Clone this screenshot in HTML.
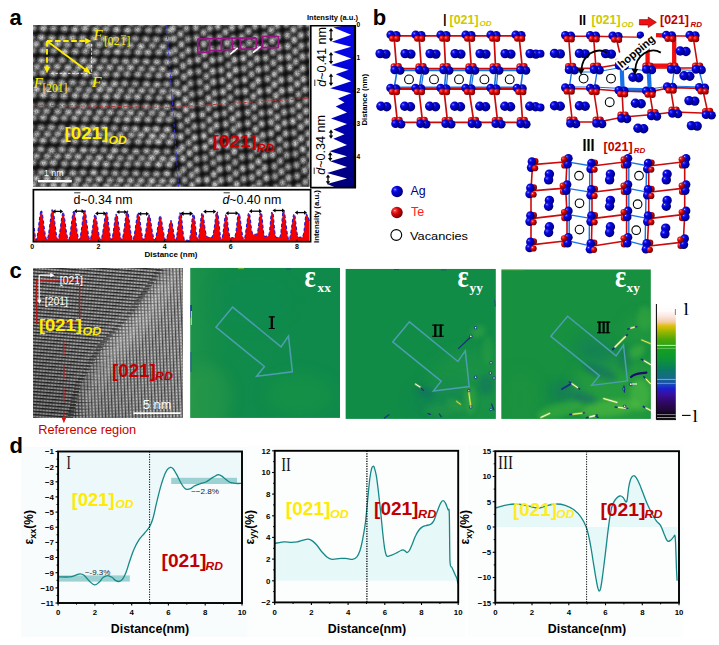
<!DOCTYPE html>
<html><head><meta charset="utf-8"><title>Figure</title>
<style>
html,body{margin:0;padding:0;background:#fff;}
body{width:719px;height:645px;overflow:hidden;font-family:"Liberation Sans",sans-serif;}
svg{display:block}
text{font-family:"Liberation Sans",sans-serif;}
.b{font-weight:bold}
.i{font-style:italic}
.se{font-family:"Liberation Serif",serif;}
</style></head><body>
<svg width="719" height="645" viewBox="0 0 719 645">
<defs>

<radialGradient id="blobA"><stop offset="0" stop-color="#e8e8e8" stop-opacity="0.95"/><stop offset="0.35" stop-color="#d4d4d4" stop-opacity="0.85"/><stop offset="0.62" stop-color="#b0b0b0" stop-opacity="0.5"/><stop offset="0.85" stop-color="#909090" stop-opacity="0.12"/><stop offset="1" stop-color="#808080" stop-opacity="0"/></radialGradient>
<linearGradient id="sideBlue" x1="0" y1="25" x2="0" y2="187" gradientUnits="userSpaceOnUse"><stop offset="0" stop-color="#0a0af0"/><stop offset="0.45" stop-color="#0000c8"/><stop offset="1" stop-color="#000078"/></linearGradient>
<clipPath id="clipA"><rect x="33" y="25" width="276.5" height="161.8"/></clipPath>
<filter id="blurA" x="0" y="0" width="100%" height="100%" color-interpolation-filters="sRGB"><feGaussianBlur in="SourceGraphic" stdDeviation="1.0" result="b"/><feTurbulence type="fractalNoise" baseFrequency="0.8" numOctaves="1" seed="4" result="n"/><feColorMatrix in="n" type="matrix" values="0.8 0 0 0 0.5  0.8 0 0 0 0.5  0.8 0 0 0 0.5  0 0 0 0 1" result="n2"/><feComposite in="b" in2="n2" operator="arithmetic" k1="1.15" k2="0" k3="0" k4="0"/></filter>

<radialGradient id="agG" cx="0.36" cy="0.36" r="0.72" fx="0.32" fy="0.32"><stop offset="0" stop-color="#e8e8ff"/><stop offset="0.1" stop-color="#3a3aff"/><stop offset="0.32" stop-color="#0606dc"/><stop offset="0.7" stop-color="#0000a8"/><stop offset="1" stop-color="#00004c"/></radialGradient>
<radialGradient id="teG" cx="0.36" cy="0.36" r="0.72" fx="0.32" fy="0.32"><stop offset="0" stop-color="#ffd0d0"/><stop offset="0.12" stop-color="#ff4040"/><stop offset="0.4" stop-color="#d80808"/><stop offset="0.75" stop-color="#9c0000"/><stop offset="1" stop-color="#480000"/></radialGradient>

<clipPath id="clipC"><rect x="33.1" y="268" width="149.5" height="149.8"/></clipPath>
<pattern id="patH" width="3.1" height="3.28" patternUnits="userSpaceOnUse" patternTransform="rotate(4.5)"><rect width="3.1" height="3.28" fill="#7c7c7c"/><rect y="0" width="3.1" height="1.25" fill="#242424"/><circle cx="1.55" cy="2.3" r="0.75" fill="#c4c4c4"/></pattern>
<pattern id="patV" width="3.34" height="3.1" patternUnits="userSpaceOnUse" patternTransform="rotate(-2.5)"><rect width="3.34" height="3.1" fill="#8c8c8c"/><rect x="0" width="1.05" height="3.1" fill="#444"/><circle cx="2.25" cy="1.55" r="0.75" fill="#d0d0d0"/></pattern>
<linearGradient id="brightC" x1="84" y1="418" x2="183" y2="274" gradientUnits="userSpaceOnUse"><stop offset="0" stop-color="#fff" stop-opacity="0.3"/><stop offset="0.5" stop-color="#fff"/><stop offset="1" stop-color="#fff" stop-opacity="0.6"/></linearGradient>
<linearGradient id="vigC" x1="33" y1="418" x2="150" y2="300" gradientUnits="userSpaceOnUse"><stop offset="0" stop-color="#000" stop-opacity="0.22"/><stop offset="0.5" stop-color="#000" stop-opacity="0.05"/><stop offset="1" stop-color="#000" stop-opacity="0"/></linearGradient>
<linearGradient id="m1a" x1="190" y1="0" x2="340" y2="0" gradientUnits="userSpaceOnUse"><stop offset="0" stop-color="#2c9a48" stop-opacity="0.5"/><stop offset="0.25" stop-color="#1a9045" stop-opacity="0.2"/><stop offset="1" stop-color="#0f8a4b" stop-opacity="0"/></linearGradient>
<filter id="blurS" x="-30%" y="-30%" width="160%" height="160%"><feGaussianBlur stdDeviation="0.45"/></filter>
<filter id="blurM2" x="-50%" y="-50%" width="200%" height="200%"><feGaussianBlur stdDeviation="2.6"/></filter>
<filter id="blurM" x="-50%" y="-50%" width="200%" height="200%"><feGaussianBlur stdDeviation="7"/></filter>
<linearGradient id="cbar" x1="0" y1="304.2" x2="0" y2="419.2" gradientUnits="userSpaceOnUse">
<stop offset="0" stop-color="#ffffff"/><stop offset="0.06" stop-color="#fffafa"/><stop offset="0.11" stop-color="#fae4dc"/><stop offset="0.155" stop-color="#f2cca4"/><stop offset="0.185" stop-color="#e6c010"/><stop offset="0.23" stop-color="#a4b800"/><stop offset="0.3" stop-color="#52a808"/><stop offset="0.4" stop-color="#12a020"/><stop offset="0.5" stop-color="#0a9040"/><stop offset="0.57" stop-color="#0a7a64"/><stop offset="0.64" stop-color="#146a88"/><stop offset="0.69" stop-color="#1c50b0"/><stop offset="0.735" stop-color="#1a1ed0"/><stop offset="0.78" stop-color="#3a10a0"/><stop offset="0.85" stop-color="#300868"/><stop offset="0.92" stop-color="#200838"/><stop offset="0.96" stop-color="#0c0414"/><stop offset="1" stop-color="#000"/></linearGradient>

</defs>
<rect x="0" y="0" width="719" height="645" fill="#ffffff"/>
<g id="panel-a"><text x="9.5" y="24.8" font-size="22" class="b" fill="#000">a</text><g clip-path="url(#clipA)"><rect x="33" y="25" width="277" height="162" fill="#0e0e0e"/><g filter="url(#blurA)"><ellipse cx="36.3" cy="21.4" rx="6.2" ry="4.9" fill="url(#blobA)" opacity="0.93"/><ellipse cx="46.5" cy="22.0" rx="6.2" ry="4.9" fill="url(#blobA)" opacity="0.87"/><ellipse cx="57.0" cy="22.1" rx="6.2" ry="4.9" fill="url(#blobA)" opacity="0.81"/><ellipse cx="67.9" cy="21.9" rx="6.2" ry="4.9" fill="url(#blobA)" opacity="0.82"/><ellipse cx="78.4" cy="22.8" rx="6.2" ry="4.9" fill="url(#blobA)" opacity="0.82"/><ellipse cx="88.7" cy="22.8" rx="6.2" ry="4.9" fill="url(#blobA)" opacity="0.99"/><ellipse cx="99.5" cy="22.7" rx="6.2" ry="4.9" fill="url(#blobA)" opacity="1.00"/><ellipse cx="109.5" cy="23.3" rx="6.2" ry="4.9" fill="url(#blobA)" opacity="0.86"/><ellipse cx="120.1" cy="22.7" rx="6.2" ry="4.9" fill="url(#blobA)" opacity="0.86"/><ellipse cx="131.3" cy="23.0" rx="6.2" ry="4.9" fill="url(#blobA)" opacity="0.92"/><ellipse cx="141.6" cy="23.3" rx="6.2" ry="4.9" fill="url(#blobA)" opacity="0.91"/><ellipse cx="151.5" cy="23.2" rx="6.2" ry="4.9" fill="url(#blobA)" opacity="0.84"/><ellipse cx="162.6" cy="23.7" rx="6.2" ry="4.9" fill="url(#blobA)" opacity="0.86"/><ellipse cx="32.8" cy="28.2" rx="6.2" ry="4.9" fill="url(#blobA)" opacity="0.86"/><ellipse cx="31.0" cy="37.7" rx="6.2" ry="4.9" fill="url(#blobA)" opacity="0.85"/><ellipse cx="43.3" cy="28.4" rx="6.2" ry="4.9" fill="url(#blobA)" opacity="0.98"/><ellipse cx="41.4" cy="37.5" rx="6.2" ry="4.9" fill="url(#blobA)" opacity="1.00"/><ellipse cx="36.1" cy="44.1" rx="6.2" ry="4.9" fill="url(#blobA)" opacity="0.95"/><ellipse cx="53.4" cy="28.6" rx="6.2" ry="4.9" fill="url(#blobA)" opacity="0.81"/><ellipse cx="51.8" cy="38.1" rx="6.2" ry="4.9" fill="url(#blobA)" opacity="0.91"/><ellipse cx="47.3" cy="44.2" rx="6.2" ry="4.9" fill="url(#blobA)" opacity="0.94"/><ellipse cx="64.4" cy="28.8" rx="6.2" ry="4.9" fill="url(#blobA)" opacity="0.89"/><ellipse cx="62.5" cy="38.4" rx="6.2" ry="4.9" fill="url(#blobA)" opacity="0.89"/><ellipse cx="57.6" cy="44.1" rx="6.2" ry="4.9" fill="url(#blobA)" opacity="0.94"/><ellipse cx="74.9" cy="29.4" rx="6.2" ry="4.9" fill="url(#blobA)" opacity="0.96"/><ellipse cx="72.4" cy="38.1" rx="6.2" ry="4.9" fill="url(#blobA)" opacity="0.93"/><ellipse cx="67.5" cy="44.7" rx="6.2" ry="4.9" fill="url(#blobA)" opacity="0.83"/><ellipse cx="84.9" cy="28.6" rx="6.2" ry="4.9" fill="url(#blobA)" opacity="0.95"/><ellipse cx="82.8" cy="38.1" rx="6.2" ry="4.9" fill="url(#blobA)" opacity="0.88"/><ellipse cx="78.8" cy="44.4" rx="6.2" ry="4.9" fill="url(#blobA)" opacity="0.89"/><ellipse cx="95.8" cy="29.6" rx="6.2" ry="4.9" fill="url(#blobA)" opacity="0.96"/><ellipse cx="94.0" cy="38.3" rx="6.2" ry="4.9" fill="url(#blobA)" opacity="0.88"/><ellipse cx="88.8" cy="45.4" rx="6.2" ry="4.9" fill="url(#blobA)" opacity="0.99"/><ellipse cx="105.9" cy="29.1" rx="6.2" ry="4.9" fill="url(#blobA)" opacity="0.85"/><ellipse cx="103.9" cy="38.7" rx="6.2" ry="4.9" fill="url(#blobA)" opacity="0.92"/><ellipse cx="99.2" cy="44.7" rx="6.2" ry="4.9" fill="url(#blobA)" opacity="0.88"/><ellipse cx="116.6" cy="29.6" rx="6.2" ry="4.9" fill="url(#blobA)" opacity="0.99"/><ellipse cx="114.9" cy="38.9" rx="6.2" ry="4.9" fill="url(#blobA)" opacity="0.92"/><ellipse cx="110.1" cy="44.9" rx="6.2" ry="4.9" fill="url(#blobA)" opacity="0.98"/><ellipse cx="127.5" cy="30.1" rx="6.2" ry="4.9" fill="url(#blobA)" opacity="0.96"/><ellipse cx="125.1" cy="38.9" rx="6.2" ry="4.9" fill="url(#blobA)" opacity="0.82"/><ellipse cx="120.6" cy="45.1" rx="6.2" ry="4.9" fill="url(#blobA)" opacity="0.81"/><ellipse cx="137.5" cy="29.6" rx="6.2" ry="4.9" fill="url(#blobA)" opacity="0.87"/><ellipse cx="135.2" cy="38.7" rx="6.2" ry="4.9" fill="url(#blobA)" opacity="0.83"/><ellipse cx="130.6" cy="45.6" rx="6.2" ry="4.9" fill="url(#blobA)" opacity="0.81"/><ellipse cx="148.6" cy="30.2" rx="6.2" ry="4.9" fill="url(#blobA)" opacity="0.83"/><ellipse cx="145.9" cy="39.2" rx="6.2" ry="4.9" fill="url(#blobA)" opacity="0.87"/><ellipse cx="141.1" cy="46.2" rx="6.2" ry="4.9" fill="url(#blobA)" opacity="1.00"/><ellipse cx="158.7" cy="30.2" rx="6.2" ry="4.9" fill="url(#blobA)" opacity="0.82"/><ellipse cx="156.3" cy="39.4" rx="6.2" ry="4.9" fill="url(#blobA)" opacity="0.85"/><ellipse cx="152.3" cy="45.7" rx="6.2" ry="4.9" fill="url(#blobA)" opacity="0.80"/><ellipse cx="169.7" cy="30.4" rx="6.2" ry="4.9" fill="url(#blobA)" opacity="0.83"/><ellipse cx="167.2" cy="39.2" rx="6.2" ry="4.9" fill="url(#blobA)" opacity="0.91"/><ellipse cx="162.9" cy="46.6" rx="6.2" ry="4.9" fill="url(#blobA)" opacity="0.94"/><ellipse cx="32.5" cy="50.5" rx="6.2" ry="4.9" fill="url(#blobA)" opacity="0.83"/><ellipse cx="30.9" cy="59.9" rx="6.2" ry="4.9" fill="url(#blobA)" opacity="0.96"/><ellipse cx="43.1" cy="50.5" rx="6.2" ry="4.9" fill="url(#blobA)" opacity="0.96"/><ellipse cx="41.6" cy="60.4" rx="6.2" ry="4.9" fill="url(#blobA)" opacity="0.96"/><ellipse cx="36.8" cy="66.8" rx="6.2" ry="4.9" fill="url(#blobA)" opacity="0.85"/><ellipse cx="53.8" cy="50.8" rx="6.2" ry="4.9" fill="url(#blobA)" opacity="0.81"/><ellipse cx="51.2" cy="60.0" rx="6.2" ry="4.9" fill="url(#blobA)" opacity="0.85"/><ellipse cx="47.2" cy="67.2" rx="6.2" ry="4.9" fill="url(#blobA)" opacity="0.89"/><ellipse cx="64.7" cy="51.6" rx="6.2" ry="4.9" fill="url(#blobA)" opacity="0.99"/><ellipse cx="62.0" cy="60.1" rx="6.2" ry="4.9" fill="url(#blobA)" opacity="0.85"/><ellipse cx="57.2" cy="66.6" rx="6.2" ry="4.9" fill="url(#blobA)" opacity="0.92"/><ellipse cx="75.2" cy="51.6" rx="6.2" ry="4.9" fill="url(#blobA)" opacity="0.90"/><ellipse cx="72.8" cy="60.9" rx="6.2" ry="4.9" fill="url(#blobA)" opacity="0.82"/><ellipse cx="68.1" cy="67.5" rx="6.2" ry="4.9" fill="url(#blobA)" opacity="0.96"/><ellipse cx="85.5" cy="51.4" rx="6.2" ry="4.9" fill="url(#blobA)" opacity="0.84"/><ellipse cx="83.4" cy="60.6" rx="6.2" ry="4.9" fill="url(#blobA)" opacity="0.96"/><ellipse cx="78.9" cy="67.2" rx="6.2" ry="4.9" fill="url(#blobA)" opacity="0.88"/><ellipse cx="96.2" cy="51.9" rx="6.2" ry="4.9" fill="url(#blobA)" opacity="0.83"/><ellipse cx="93.3" cy="60.6" rx="6.2" ry="4.9" fill="url(#blobA)" opacity="0.98"/><ellipse cx="89.3" cy="67.1" rx="6.2" ry="4.9" fill="url(#blobA)" opacity="0.97"/><ellipse cx="106.7" cy="52.0" rx="6.2" ry="4.9" fill="url(#blobA)" opacity="0.87"/><ellipse cx="104.2" cy="60.7" rx="6.2" ry="4.9" fill="url(#blobA)" opacity="0.80"/><ellipse cx="99.9" cy="67.7" rx="6.2" ry="4.9" fill="url(#blobA)" opacity="0.91"/><ellipse cx="117.2" cy="51.9" rx="6.2" ry="4.9" fill="url(#blobA)" opacity="0.97"/><ellipse cx="115.0" cy="60.9" rx="6.2" ry="4.9" fill="url(#blobA)" opacity="0.85"/><ellipse cx="109.8" cy="67.5" rx="6.2" ry="4.9" fill="url(#blobA)" opacity="0.92"/><ellipse cx="127.0" cy="52.1" rx="6.2" ry="4.9" fill="url(#blobA)" opacity="0.83"/><ellipse cx="125.6" cy="61.3" rx="6.2" ry="4.9" fill="url(#blobA)" opacity="0.89"/><ellipse cx="120.5" cy="68.3" rx="6.2" ry="4.9" fill="url(#blobA)" opacity="0.88"/><ellipse cx="138.2" cy="52.3" rx="6.2" ry="4.9" fill="url(#blobA)" opacity="0.91"/><ellipse cx="135.7" cy="61.1" rx="6.2" ry="4.9" fill="url(#blobA)" opacity="0.89"/><ellipse cx="130.6" cy="67.6" rx="6.2" ry="4.9" fill="url(#blobA)" opacity="0.96"/><ellipse cx="147.9" cy="52.4" rx="6.2" ry="4.9" fill="url(#blobA)" opacity="0.95"/><ellipse cx="146.2" cy="61.6" rx="6.2" ry="4.9" fill="url(#blobA)" opacity="0.90"/><ellipse cx="141.5" cy="68.6" rx="6.2" ry="4.9" fill="url(#blobA)" opacity="0.82"/><ellipse cx="158.8" cy="52.4" rx="6.2" ry="4.9" fill="url(#blobA)" opacity="0.86"/><ellipse cx="156.9" cy="61.9" rx="6.2" ry="4.9" fill="url(#blobA)" opacity="0.91"/><ellipse cx="152.2" cy="68.8" rx="6.2" ry="4.9" fill="url(#blobA)" opacity="0.89"/><ellipse cx="169.4" cy="52.8" rx="6.2" ry="4.9" fill="url(#blobA)" opacity="0.90"/><ellipse cx="167.4" cy="62.0" rx="6.2" ry="4.9" fill="url(#blobA)" opacity="0.91"/><ellipse cx="162.4" cy="69.0" rx="6.2" ry="4.9" fill="url(#blobA)" opacity="0.94"/><ellipse cx="33.1" cy="73.5" rx="6.2" ry="4.9" fill="url(#blobA)" opacity="0.85"/><ellipse cx="30.7" cy="82.7" rx="6.2" ry="4.9" fill="url(#blobA)" opacity="0.97"/><ellipse cx="42.9" cy="72.8" rx="6.2" ry="4.9" fill="url(#blobA)" opacity="0.89"/><ellipse cx="40.7" cy="82.2" rx="6.2" ry="4.9" fill="url(#blobA)" opacity="0.81"/><ellipse cx="36.6" cy="89.3" rx="6.2" ry="4.9" fill="url(#blobA)" opacity="0.98"/><ellipse cx="53.4" cy="73.6" rx="6.2" ry="4.9" fill="url(#blobA)" opacity="0.93"/><ellipse cx="51.3" cy="83.0" rx="6.2" ry="4.9" fill="url(#blobA)" opacity="0.99"/><ellipse cx="46.7" cy="89.6" rx="6.2" ry="4.9" fill="url(#blobA)" opacity="0.88"/><ellipse cx="64.2" cy="74.0" rx="6.2" ry="4.9" fill="url(#blobA)" opacity="0.97"/><ellipse cx="61.8" cy="82.7" rx="6.2" ry="4.9" fill="url(#blobA)" opacity="0.90"/><ellipse cx="57.3" cy="89.0" rx="6.2" ry="4.9" fill="url(#blobA)" opacity="0.86"/><ellipse cx="75.0" cy="73.2" rx="6.2" ry="4.9" fill="url(#blobA)" opacity="0.91"/><ellipse cx="72.6" cy="82.5" rx="6.2" ry="4.9" fill="url(#blobA)" opacity="0.87"/><ellipse cx="68.1" cy="89.5" rx="6.2" ry="4.9" fill="url(#blobA)" opacity="0.81"/><ellipse cx="85.7" cy="74.2" rx="6.2" ry="4.9" fill="url(#blobA)" opacity="0.99"/><ellipse cx="82.8" cy="82.9" rx="6.2" ry="4.9" fill="url(#blobA)" opacity="0.81"/><ellipse cx="78.7" cy="89.4" rx="6.2" ry="4.9" fill="url(#blobA)" opacity="0.83"/><ellipse cx="95.7" cy="74.4" rx="6.2" ry="4.9" fill="url(#blobA)" opacity="0.96"/><ellipse cx="93.4" cy="83.0" rx="6.2" ry="4.9" fill="url(#blobA)" opacity="0.98"/><ellipse cx="89.0" cy="90.0" rx="6.2" ry="4.9" fill="url(#blobA)" opacity="0.82"/><ellipse cx="105.8" cy="74.4" rx="6.2" ry="4.9" fill="url(#blobA)" opacity="0.89"/><ellipse cx="103.7" cy="83.9" rx="6.2" ry="4.9" fill="url(#blobA)" opacity="0.93"/><ellipse cx="99.8" cy="89.6" rx="6.2" ry="4.9" fill="url(#blobA)" opacity="0.97"/><ellipse cx="116.3" cy="74.7" rx="6.2" ry="4.9" fill="url(#blobA)" opacity="0.89"/><ellipse cx="114.5" cy="83.7" rx="6.2" ry="4.9" fill="url(#blobA)" opacity="0.99"/><ellipse cx="109.7" cy="89.8" rx="6.2" ry="4.9" fill="url(#blobA)" opacity="0.91"/><ellipse cx="127.0" cy="74.1" rx="6.2" ry="4.9" fill="url(#blobA)" opacity="0.83"/><ellipse cx="124.7" cy="83.5" rx="6.2" ry="4.9" fill="url(#blobA)" opacity="0.86"/><ellipse cx="120.3" cy="90.6" rx="6.2" ry="4.9" fill="url(#blobA)" opacity="0.86"/><ellipse cx="137.8" cy="74.4" rx="6.2" ry="4.9" fill="url(#blobA)" opacity="0.87"/><ellipse cx="135.2" cy="83.7" rx="6.2" ry="4.9" fill="url(#blobA)" opacity="0.80"/><ellipse cx="131.2" cy="90.6" rx="6.2" ry="4.9" fill="url(#blobA)" opacity="0.84"/><ellipse cx="148.2" cy="75.3" rx="6.2" ry="4.9" fill="url(#blobA)" opacity="0.82"/><ellipse cx="146.5" cy="84.1" rx="6.2" ry="4.9" fill="url(#blobA)" opacity="0.90"/><ellipse cx="141.8" cy="90.6" rx="6.2" ry="4.9" fill="url(#blobA)" opacity="0.90"/><ellipse cx="158.9" cy="75.5" rx="6.2" ry="4.9" fill="url(#blobA)" opacity="0.87"/><ellipse cx="157.0" cy="84.5" rx="6.2" ry="4.9" fill="url(#blobA)" opacity="0.93"/><ellipse cx="151.9" cy="90.7" rx="6.2" ry="4.9" fill="url(#blobA)" opacity="0.81"/><ellipse cx="168.9" cy="74.8" rx="6.2" ry="4.9" fill="url(#blobA)" opacity="0.95"/><ellipse cx="166.9" cy="84.1" rx="6.2" ry="4.9" fill="url(#blobA)" opacity="0.82"/><ellipse cx="162.8" cy="91.4" rx="6.2" ry="4.9" fill="url(#blobA)" opacity="0.93"/><ellipse cx="172.7" cy="90.9" rx="6.2" ry="4.9" fill="url(#blobA)" opacity="0.86"/><ellipse cx="32.7" cy="95.1" rx="6.2" ry="4.9" fill="url(#blobA)" opacity="0.89"/><ellipse cx="30.4" cy="105.2" rx="6.2" ry="4.9" fill="url(#blobA)" opacity="0.99"/><ellipse cx="43.3" cy="95.3" rx="6.2" ry="4.9" fill="url(#blobA)" opacity="0.99"/><ellipse cx="41.0" cy="104.7" rx="6.2" ry="4.9" fill="url(#blobA)" opacity="0.80"/><ellipse cx="36.3" cy="111.4" rx="6.2" ry="4.9" fill="url(#blobA)" opacity="0.90"/><ellipse cx="53.5" cy="95.8" rx="6.2" ry="4.9" fill="url(#blobA)" opacity="0.80"/><ellipse cx="51.4" cy="104.6" rx="6.2" ry="4.9" fill="url(#blobA)" opacity="0.88"/><ellipse cx="46.5" cy="111.1" rx="6.2" ry="4.9" fill="url(#blobA)" opacity="0.86"/><ellipse cx="64.0" cy="96.0" rx="6.2" ry="4.9" fill="url(#blobA)" opacity="0.91"/><ellipse cx="62.4" cy="105.4" rx="6.2" ry="4.9" fill="url(#blobA)" opacity="0.94"/><ellipse cx="57.8" cy="111.6" rx="6.2" ry="4.9" fill="url(#blobA)" opacity="0.87"/><ellipse cx="75.2" cy="95.7" rx="6.2" ry="4.9" fill="url(#blobA)" opacity="0.94"/><ellipse cx="72.8" cy="104.9" rx="6.2" ry="4.9" fill="url(#blobA)" opacity="0.97"/><ellipse cx="68.4" cy="112.0" rx="6.2" ry="4.9" fill="url(#blobA)" opacity="0.95"/><ellipse cx="85.6" cy="95.9" rx="6.2" ry="4.9" fill="url(#blobA)" opacity="0.90"/><ellipse cx="83.2" cy="105.9" rx="6.2" ry="4.9" fill="url(#blobA)" opacity="0.96"/><ellipse cx="78.8" cy="112.1" rx="6.2" ry="4.9" fill="url(#blobA)" opacity="0.98"/><ellipse cx="95.9" cy="96.6" rx="6.2" ry="4.9" fill="url(#blobA)" opacity="0.85"/><ellipse cx="93.2" cy="105.3" rx="6.2" ry="4.9" fill="url(#blobA)" opacity="0.87"/><ellipse cx="88.6" cy="112.6" rx="6.2" ry="4.9" fill="url(#blobA)" opacity="0.91"/><ellipse cx="106.4" cy="96.7" rx="6.2" ry="4.9" fill="url(#blobA)" opacity="0.94"/><ellipse cx="104.1" cy="105.4" rx="6.2" ry="4.9" fill="url(#blobA)" opacity="0.96"/><ellipse cx="99.7" cy="112.4" rx="6.2" ry="4.9" fill="url(#blobA)" opacity="0.91"/><ellipse cx="116.9" cy="96.3" rx="6.2" ry="4.9" fill="url(#blobA)" opacity="0.95"/><ellipse cx="114.4" cy="105.6" rx="6.2" ry="4.9" fill="url(#blobA)" opacity="0.85"/><ellipse cx="110.2" cy="112.3" rx="6.2" ry="4.9" fill="url(#blobA)" opacity="0.95"/><ellipse cx="127.7" cy="96.9" rx="6.2" ry="4.9" fill="url(#blobA)" opacity="0.88"/><ellipse cx="125.1" cy="106.4" rx="6.2" ry="4.9" fill="url(#blobA)" opacity="0.95"/><ellipse cx="120.6" cy="112.9" rx="6.2" ry="4.9" fill="url(#blobA)" opacity="0.82"/><ellipse cx="137.4" cy="96.9" rx="6.2" ry="4.9" fill="url(#blobA)" opacity="0.95"/><ellipse cx="135.5" cy="106.4" rx="6.2" ry="4.9" fill="url(#blobA)" opacity="0.80"/><ellipse cx="130.5" cy="112.7" rx="6.2" ry="4.9" fill="url(#blobA)" opacity="0.93"/><ellipse cx="148.5" cy="97.5" rx="6.2" ry="4.9" fill="url(#blobA)" opacity="0.86"/><ellipse cx="146.2" cy="106.5" rx="6.2" ry="4.9" fill="url(#blobA)" opacity="0.89"/><ellipse cx="141.1" cy="113.5" rx="6.2" ry="4.9" fill="url(#blobA)" opacity="0.84"/><ellipse cx="159.2" cy="97.9" rx="6.2" ry="4.9" fill="url(#blobA)" opacity="0.80"/><ellipse cx="156.6" cy="107.0" rx="6.2" ry="4.9" fill="url(#blobA)" opacity="0.99"/><ellipse cx="151.9" cy="113.0" rx="6.2" ry="4.9" fill="url(#blobA)" opacity="0.84"/><ellipse cx="169.7" cy="97.3" rx="6.2" ry="4.9" fill="url(#blobA)" opacity="0.92"/><ellipse cx="166.8" cy="106.9" rx="6.2" ry="4.9" fill="url(#blobA)" opacity="0.99"/><ellipse cx="162.1" cy="113.7" rx="6.2" ry="4.9" fill="url(#blobA)" opacity="0.90"/><ellipse cx="173.3" cy="113.8" rx="6.2" ry="4.9" fill="url(#blobA)" opacity="0.85"/><ellipse cx="33.2" cy="117.8" rx="6.2" ry="4.9" fill="url(#blobA)" opacity="0.80"/><ellipse cx="30.2" cy="127.1" rx="6.2" ry="4.9" fill="url(#blobA)" opacity="0.89"/><ellipse cx="43.1" cy="117.6" rx="6.2" ry="4.9" fill="url(#blobA)" opacity="0.87"/><ellipse cx="41.0" cy="127.6" rx="6.2" ry="4.9" fill="url(#blobA)" opacity="0.80"/><ellipse cx="36.7" cy="134.1" rx="6.2" ry="4.9" fill="url(#blobA)" opacity="0.82"/><ellipse cx="54.2" cy="118.4" rx="6.2" ry="4.9" fill="url(#blobA)" opacity="0.98"/><ellipse cx="51.4" cy="127.3" rx="6.2" ry="4.9" fill="url(#blobA)" opacity="0.88"/><ellipse cx="47.5" cy="134.0" rx="6.2" ry="4.9" fill="url(#blobA)" opacity="0.87"/><ellipse cx="64.2" cy="118.1" rx="6.2" ry="4.9" fill="url(#blobA)" opacity="0.81"/><ellipse cx="61.8" cy="127.9" rx="6.2" ry="4.9" fill="url(#blobA)" opacity="0.86"/><ellipse cx="57.9" cy="133.9" rx="6.2" ry="4.9" fill="url(#blobA)" opacity="0.85"/><ellipse cx="74.8" cy="118.2" rx="6.2" ry="4.9" fill="url(#blobA)" opacity="0.87"/><ellipse cx="73.1" cy="128.2" rx="6.2" ry="4.9" fill="url(#blobA)" opacity="0.96"/><ellipse cx="68.1" cy="134.7" rx="6.2" ry="4.9" fill="url(#blobA)" opacity="0.99"/><ellipse cx="85.3" cy="118.9" rx="6.2" ry="4.9" fill="url(#blobA)" opacity="0.81"/><ellipse cx="83.4" cy="127.9" rx="6.2" ry="4.9" fill="url(#blobA)" opacity="0.95"/><ellipse cx="78.6" cy="134.2" rx="6.2" ry="4.9" fill="url(#blobA)" opacity="0.81"/><ellipse cx="96.2" cy="118.5" rx="6.2" ry="4.9" fill="url(#blobA)" opacity="0.89"/><ellipse cx="93.5" cy="127.9" rx="6.2" ry="4.9" fill="url(#blobA)" opacity="0.95"/><ellipse cx="89.4" cy="134.4" rx="6.2" ry="4.9" fill="url(#blobA)" opacity="0.93"/><ellipse cx="106.1" cy="119.1" rx="6.2" ry="4.9" fill="url(#blobA)" opacity="0.88"/><ellipse cx="103.8" cy="127.9" rx="6.2" ry="4.9" fill="url(#blobA)" opacity="0.84"/><ellipse cx="99.9" cy="134.8" rx="6.2" ry="4.9" fill="url(#blobA)" opacity="0.84"/><ellipse cx="117.2" cy="119.7" rx="6.2" ry="4.9" fill="url(#blobA)" opacity="0.89"/><ellipse cx="114.3" cy="128.1" rx="6.2" ry="4.9" fill="url(#blobA)" opacity="0.82"/><ellipse cx="109.8" cy="134.6" rx="6.2" ry="4.9" fill="url(#blobA)" opacity="0.85"/><ellipse cx="127.0" cy="119.4" rx="6.2" ry="4.9" fill="url(#blobA)" opacity="0.98"/><ellipse cx="125.4" cy="128.5" rx="6.2" ry="4.9" fill="url(#blobA)" opacity="0.88"/><ellipse cx="120.5" cy="135.0" rx="6.2" ry="4.9" fill="url(#blobA)" opacity="0.87"/><ellipse cx="137.3" cy="119.3" rx="6.2" ry="4.9" fill="url(#blobA)" opacity="0.99"/><ellipse cx="135.3" cy="128.8" rx="6.2" ry="4.9" fill="url(#blobA)" opacity="0.93"/><ellipse cx="131.3" cy="135.0" rx="6.2" ry="4.9" fill="url(#blobA)" opacity="0.85"/><ellipse cx="148.0" cy="119.6" rx="6.2" ry="4.9" fill="url(#blobA)" opacity="0.89"/><ellipse cx="146.6" cy="129.3" rx="6.2" ry="4.9" fill="url(#blobA)" opacity="0.97"/><ellipse cx="141.0" cy="135.0" rx="6.2" ry="4.9" fill="url(#blobA)" opacity="0.94"/><ellipse cx="159.2" cy="119.8" rx="6.2" ry="4.9" fill="url(#blobA)" opacity="0.92"/><ellipse cx="156.2" cy="129.0" rx="6.2" ry="4.9" fill="url(#blobA)" opacity="0.99"/><ellipse cx="152.3" cy="136.0" rx="6.2" ry="4.9" fill="url(#blobA)" opacity="0.99"/><ellipse cx="169.0" cy="119.6" rx="6.2" ry="4.9" fill="url(#blobA)" opacity="0.83"/><ellipse cx="167.2" cy="129.5" rx="6.2" ry="4.9" fill="url(#blobA)" opacity="0.99"/><ellipse cx="162.7" cy="136.0" rx="6.2" ry="4.9" fill="url(#blobA)" opacity="0.95"/><ellipse cx="172.9" cy="136.0" rx="6.2" ry="4.9" fill="url(#blobA)" opacity="0.81"/><ellipse cx="33.0" cy="140.0" rx="6.2" ry="4.9" fill="url(#blobA)" opacity="0.98"/><ellipse cx="30.8" cy="149.3" rx="6.2" ry="4.9" fill="url(#blobA)" opacity="0.83"/><ellipse cx="43.0" cy="140.5" rx="6.2" ry="4.9" fill="url(#blobA)" opacity="0.94"/><ellipse cx="40.8" cy="149.2" rx="6.2" ry="4.9" fill="url(#blobA)" opacity="0.90"/><ellipse cx="36.5" cy="156.1" rx="6.2" ry="4.9" fill="url(#blobA)" opacity="0.84"/><ellipse cx="53.9" cy="140.1" rx="6.2" ry="4.9" fill="url(#blobA)" opacity="0.86"/><ellipse cx="51.6" cy="150.3" rx="6.2" ry="4.9" fill="url(#blobA)" opacity="0.93"/><ellipse cx="47.3" cy="156.3" rx="6.2" ry="4.9" fill="url(#blobA)" opacity="0.85"/><ellipse cx="64.0" cy="141.2" rx="6.2" ry="4.9" fill="url(#blobA)" opacity="0.94"/><ellipse cx="62.0" cy="149.5" rx="6.2" ry="4.9" fill="url(#blobA)" opacity="0.90"/><ellipse cx="57.6" cy="156.4" rx="6.2" ry="4.9" fill="url(#blobA)" opacity="0.85"/><ellipse cx="74.9" cy="141.3" rx="6.2" ry="4.9" fill="url(#blobA)" opacity="0.85"/><ellipse cx="72.2" cy="150.0" rx="6.2" ry="4.9" fill="url(#blobA)" opacity="0.88"/><ellipse cx="68.1" cy="156.4" rx="6.2" ry="4.9" fill="url(#blobA)" opacity="0.96"/><ellipse cx="85.5" cy="141.1" rx="6.2" ry="4.9" fill="url(#blobA)" opacity="0.84"/><ellipse cx="83.6" cy="150.1" rx="6.2" ry="4.9" fill="url(#blobA)" opacity="0.96"/><ellipse cx="78.2" cy="156.6" rx="6.2" ry="4.9" fill="url(#blobA)" opacity="0.95"/><ellipse cx="95.6" cy="141.7" rx="6.2" ry="4.9" fill="url(#blobA)" opacity="0.90"/><ellipse cx="93.3" cy="150.2" rx="6.2" ry="4.9" fill="url(#blobA)" opacity="0.88"/><ellipse cx="89.1" cy="157.5" rx="6.2" ry="4.9" fill="url(#blobA)" opacity="0.83"/><ellipse cx="106.2" cy="141.1" rx="6.2" ry="4.9" fill="url(#blobA)" opacity="0.99"/><ellipse cx="103.8" cy="150.2" rx="6.2" ry="4.9" fill="url(#blobA)" opacity="0.81"/><ellipse cx="99.4" cy="157.6" rx="6.2" ry="4.9" fill="url(#blobA)" opacity="0.98"/><ellipse cx="117.0" cy="142.1" rx="6.2" ry="4.9" fill="url(#blobA)" opacity="0.99"/><ellipse cx="114.5" cy="150.5" rx="6.2" ry="4.9" fill="url(#blobA)" opacity="0.99"/><ellipse cx="110.2" cy="156.9" rx="6.2" ry="4.9" fill="url(#blobA)" opacity="0.93"/><ellipse cx="127.1" cy="141.6" rx="6.2" ry="4.9" fill="url(#blobA)" opacity="0.87"/><ellipse cx="124.8" cy="150.5" rx="6.2" ry="4.9" fill="url(#blobA)" opacity="0.86"/><ellipse cx="120.3" cy="158.0" rx="6.2" ry="4.9" fill="url(#blobA)" opacity="0.82"/><ellipse cx="138.2" cy="141.6" rx="6.2" ry="4.9" fill="url(#blobA)" opacity="0.87"/><ellipse cx="136.0" cy="151.5" rx="6.2" ry="4.9" fill="url(#blobA)" opacity="0.89"/><ellipse cx="130.5" cy="157.7" rx="6.2" ry="4.9" fill="url(#blobA)" opacity="0.87"/><ellipse cx="148.7" cy="141.8" rx="6.2" ry="4.9" fill="url(#blobA)" opacity="0.87"/><ellipse cx="146.6" cy="150.9" rx="6.2" ry="4.9" fill="url(#blobA)" opacity="0.88"/><ellipse cx="141.8" cy="158.1" rx="6.2" ry="4.9" fill="url(#blobA)" opacity="0.81"/><ellipse cx="158.3" cy="141.8" rx="6.2" ry="4.9" fill="url(#blobA)" opacity="0.98"/><ellipse cx="156.4" cy="151.8" rx="6.2" ry="4.9" fill="url(#blobA)" opacity="0.98"/><ellipse cx="151.8" cy="157.8" rx="6.2" ry="4.9" fill="url(#blobA)" opacity="0.99"/><ellipse cx="169.4" cy="142.2" rx="6.2" ry="4.9" fill="url(#blobA)" opacity="0.94"/><ellipse cx="167.0" cy="151.5" rx="6.2" ry="4.9" fill="url(#blobA)" opacity="0.80"/><ellipse cx="162.7" cy="158.6" rx="6.2" ry="4.9" fill="url(#blobA)" opacity="0.93"/><ellipse cx="178.1" cy="151.4" rx="6.2" ry="4.9" fill="url(#blobA)" opacity="0.85"/><ellipse cx="172.9" cy="158.8" rx="6.2" ry="4.9" fill="url(#blobA)" opacity="0.99"/><ellipse cx="32.6" cy="162.4" rx="6.2" ry="4.9" fill="url(#blobA)" opacity="0.89"/><ellipse cx="30.7" cy="172.3" rx="6.2" ry="4.9" fill="url(#blobA)" opacity="0.84"/><ellipse cx="43.6" cy="163.0" rx="6.2" ry="4.9" fill="url(#blobA)" opacity="0.96"/><ellipse cx="41.4" cy="172.2" rx="6.2" ry="4.9" fill="url(#blobA)" opacity="0.87"/><ellipse cx="36.3" cy="178.4" rx="6.2" ry="4.9" fill="url(#blobA)" opacity="0.96"/><ellipse cx="53.3" cy="162.7" rx="6.2" ry="4.9" fill="url(#blobA)" opacity="0.95"/><ellipse cx="51.4" cy="171.8" rx="6.2" ry="4.9" fill="url(#blobA)" opacity="0.81"/><ellipse cx="47.0" cy="178.6" rx="6.2" ry="4.9" fill="url(#blobA)" opacity="1.00"/><ellipse cx="64.6" cy="163.6" rx="6.2" ry="4.9" fill="url(#blobA)" opacity="0.85"/><ellipse cx="61.7" cy="172.0" rx="6.2" ry="4.9" fill="url(#blobA)" opacity="0.90"/><ellipse cx="57.7" cy="178.9" rx="6.2" ry="4.9" fill="url(#blobA)" opacity="0.85"/><ellipse cx="74.7" cy="163.4" rx="6.2" ry="4.9" fill="url(#blobA)" opacity="0.93"/><ellipse cx="72.9" cy="172.9" rx="6.2" ry="4.9" fill="url(#blobA)" opacity="0.93"/><ellipse cx="67.6" cy="179.4" rx="6.2" ry="4.9" fill="url(#blobA)" opacity="0.86"/><ellipse cx="85.3" cy="163.3" rx="6.2" ry="4.9" fill="url(#blobA)" opacity="0.95"/><ellipse cx="82.9" cy="172.5" rx="6.2" ry="4.9" fill="url(#blobA)" opacity="0.85"/><ellipse cx="78.1" cy="179.6" rx="6.2" ry="4.9" fill="url(#blobA)" opacity="0.92"/><ellipse cx="95.6" cy="163.5" rx="6.2" ry="4.9" fill="url(#blobA)" opacity="1.00"/><ellipse cx="93.7" cy="172.6" rx="6.2" ry="4.9" fill="url(#blobA)" opacity="0.96"/><ellipse cx="89.1" cy="179.9" rx="6.2" ry="4.9" fill="url(#blobA)" opacity="0.82"/><ellipse cx="106.2" cy="164.1" rx="6.2" ry="4.9" fill="url(#blobA)" opacity="0.97"/><ellipse cx="104.6" cy="172.6" rx="6.2" ry="4.9" fill="url(#blobA)" opacity="0.86"/><ellipse cx="99.1" cy="179.3" rx="6.2" ry="4.9" fill="url(#blobA)" opacity="0.99"/><ellipse cx="116.8" cy="164.4" rx="6.2" ry="4.9" fill="url(#blobA)" opacity="0.87"/><ellipse cx="115.0" cy="173.2" rx="6.2" ry="4.9" fill="url(#blobA)" opacity="0.85"/><ellipse cx="110.2" cy="180.2" rx="6.2" ry="4.9" fill="url(#blobA)" opacity="0.82"/><ellipse cx="127.4" cy="164.3" rx="6.2" ry="4.9" fill="url(#blobA)" opacity="0.84"/><ellipse cx="125.0" cy="173.0" rx="6.2" ry="4.9" fill="url(#blobA)" opacity="0.84"/><ellipse cx="120.2" cy="180.0" rx="6.2" ry="4.9" fill="url(#blobA)" opacity="0.93"/><ellipse cx="137.5" cy="163.8" rx="6.2" ry="4.9" fill="url(#blobA)" opacity="0.87"/><ellipse cx="135.8" cy="173.3" rx="6.2" ry="4.9" fill="url(#blobA)" opacity="0.86"/><ellipse cx="130.7" cy="180.4" rx="6.2" ry="4.9" fill="url(#blobA)" opacity="0.91"/><ellipse cx="147.8" cy="164.1" rx="6.2" ry="4.9" fill="url(#blobA)" opacity="0.88"/><ellipse cx="146.2" cy="173.9" rx="6.2" ry="4.9" fill="url(#blobA)" opacity="0.82"/><ellipse cx="141.1" cy="180.5" rx="6.2" ry="4.9" fill="url(#blobA)" opacity="0.88"/><ellipse cx="158.5" cy="164.5" rx="6.2" ry="4.9" fill="url(#blobA)" opacity="0.99"/><ellipse cx="156.5" cy="174.0" rx="6.2" ry="4.9" fill="url(#blobA)" opacity="0.87"/><ellipse cx="151.9" cy="180.8" rx="6.2" ry="4.9" fill="url(#blobA)" opacity="1.00"/><ellipse cx="169.1" cy="164.5" rx="6.2" ry="4.9" fill="url(#blobA)" opacity="0.95"/><ellipse cx="166.9" cy="173.6" rx="6.2" ry="4.9" fill="url(#blobA)" opacity="0.98"/><ellipse cx="162.4" cy="180.9" rx="6.2" ry="4.9" fill="url(#blobA)" opacity="0.88"/><ellipse cx="178.0" cy="174.2" rx="6.2" ry="4.9" fill="url(#blobA)" opacity="0.83"/><ellipse cx="172.5" cy="180.8" rx="6.2" ry="4.9" fill="url(#blobA)" opacity="0.93"/><ellipse cx="33.2" cy="184.6" rx="6.2" ry="4.9" fill="url(#blobA)" opacity="0.92"/><ellipse cx="43.1" cy="185.2" rx="6.2" ry="4.9" fill="url(#blobA)" opacity="0.83"/><ellipse cx="53.5" cy="185.4" rx="6.2" ry="4.9" fill="url(#blobA)" opacity="0.99"/><ellipse cx="63.9" cy="185.5" rx="6.2" ry="4.9" fill="url(#blobA)" opacity="0.96"/><ellipse cx="75.2" cy="185.4" rx="6.2" ry="4.9" fill="url(#blobA)" opacity="0.83"/><ellipse cx="85.7" cy="186.3" rx="6.2" ry="4.9" fill="url(#blobA)" opacity="0.90"/><ellipse cx="95.3" cy="186.5" rx="6.2" ry="4.9" fill="url(#blobA)" opacity="0.88"/><ellipse cx="106.7" cy="186.3" rx="6.2" ry="4.9" fill="url(#blobA)" opacity="0.96"/><ellipse cx="116.4" cy="186.7" rx="6.2" ry="4.9" fill="url(#blobA)" opacity="0.84"/><ellipse cx="127.2" cy="186.9" rx="6.2" ry="4.9" fill="url(#blobA)" opacity="0.97"/><ellipse cx="137.4" cy="186.4" rx="6.2" ry="4.9" fill="url(#blobA)" opacity="0.88"/><ellipse cx="148.3" cy="186.8" rx="6.2" ry="4.9" fill="url(#blobA)" opacity="0.82"/><ellipse cx="158.5" cy="187.3" rx="6.2" ry="4.9" fill="url(#blobA)" opacity="0.98"/><ellipse cx="168.8" cy="187.3" rx="6.2" ry="4.9" fill="url(#blobA)" opacity="0.95"/><ellipse cx="179.3" cy="187.7" rx="6.2" ry="4.9" fill="url(#blobA)" opacity="0.82"/><ellipse cx="179.9" cy="23.1" rx="5.0" ry="5.9" fill="url(#blobA)" opacity="0.93"/><ellipse cx="172.9" cy="28.3" rx="5.0" ry="5.9" fill="url(#blobA)" opacity="0.92"/><ellipse cx="180.5" cy="34.0" rx="5.0" ry="5.9" fill="url(#blobA)" opacity="0.89"/><ellipse cx="173.8" cy="38.8" rx="5.0" ry="5.9" fill="url(#blobA)" opacity="0.92"/><ellipse cx="181.4" cy="44.4" rx="5.0" ry="5.9" fill="url(#blobA)" opacity="0.95"/><ellipse cx="175.0" cy="50.1" rx="5.0" ry="5.9" fill="url(#blobA)" opacity="0.84"/><ellipse cx="182.2" cy="55.2" rx="5.0" ry="5.9" fill="url(#blobA)" opacity="0.83"/><ellipse cx="175.4" cy="60.5" rx="5.0" ry="5.9" fill="url(#blobA)" opacity="0.89"/><ellipse cx="183.0" cy="65.9" rx="5.0" ry="5.9" fill="url(#blobA)" opacity="0.93"/><ellipse cx="175.9" cy="72.0" rx="5.0" ry="5.9" fill="url(#blobA)" opacity="0.96"/><ellipse cx="183.8" cy="76.8" rx="5.0" ry="5.9" fill="url(#blobA)" opacity="0.90"/><ellipse cx="177.0" cy="83.1" rx="5.0" ry="5.9" fill="url(#blobA)" opacity="0.83"/><ellipse cx="185.0" cy="88.6" rx="5.0" ry="5.9" fill="url(#blobA)" opacity="0.95"/><ellipse cx="178.2" cy="93.2" rx="5.0" ry="5.9" fill="url(#blobA)" opacity="1.00"/><ellipse cx="185.4" cy="99.4" rx="5.0" ry="5.9" fill="url(#blobA)" opacity="0.98"/><ellipse cx="178.4" cy="104.6" rx="5.0" ry="5.9" fill="url(#blobA)" opacity="0.99"/><ellipse cx="185.8" cy="109.7" rx="5.0" ry="5.9" fill="url(#blobA)" opacity="0.95"/><ellipse cx="179.2" cy="115.6" rx="5.0" ry="5.9" fill="url(#blobA)" opacity="0.85"/><ellipse cx="187.3" cy="120.3" rx="5.0" ry="5.9" fill="url(#blobA)" opacity="0.90"/><ellipse cx="180.7" cy="125.8" rx="5.0" ry="5.9" fill="url(#blobA)" opacity="0.85"/><ellipse cx="187.8" cy="131.3" rx="5.0" ry="5.9" fill="url(#blobA)" opacity="0.81"/><ellipse cx="180.8" cy="136.6" rx="5.0" ry="5.9" fill="url(#blobA)" opacity="0.99"/><ellipse cx="188.8" cy="142.7" rx="5.0" ry="5.9" fill="url(#blobA)" opacity="0.83"/><ellipse cx="182.2" cy="147.4" rx="5.0" ry="5.9" fill="url(#blobA)" opacity="0.91"/><ellipse cx="189.5" cy="153.1" rx="5.0" ry="5.9" fill="url(#blobA)" opacity="0.97"/><ellipse cx="182.8" cy="158.7" rx="5.0" ry="5.9" fill="url(#blobA)" opacity="0.98"/><ellipse cx="189.8" cy="164.5" rx="5.0" ry="5.9" fill="url(#blobA)" opacity="0.93"/><ellipse cx="183.4" cy="169.7" rx="5.0" ry="5.9" fill="url(#blobA)" opacity="0.85"/><ellipse cx="191.5" cy="175.0" rx="5.0" ry="5.9" fill="url(#blobA)" opacity="0.87"/><ellipse cx="184.6" cy="180.2" rx="5.0" ry="5.9" fill="url(#blobA)" opacity="0.84"/><ellipse cx="192.0" cy="185.3" rx="5.0" ry="5.9" fill="url(#blobA)" opacity="0.96"/><ellipse cx="184.9" cy="191.3" rx="5.0" ry="5.9" fill="url(#blobA)" opacity="1.00"/><ellipse cx="202.5" cy="22.3" rx="5.0" ry="5.9" fill="url(#blobA)" opacity="0.86"/><ellipse cx="186.4" cy="28.3" rx="5.0" ry="5.9" fill="url(#blobA)" opacity="0.83"/><ellipse cx="195.8" cy="27.5" rx="5.0" ry="5.9" fill="url(#blobA)" opacity="0.90"/><ellipse cx="203.6" cy="32.6" rx="5.0" ry="5.9" fill="url(#blobA)" opacity="0.85"/><ellipse cx="187.9" cy="39.2" rx="5.0" ry="5.9" fill="url(#blobA)" opacity="0.80"/><ellipse cx="196.4" cy="38.0" rx="5.0" ry="5.9" fill="url(#blobA)" opacity="0.87"/><ellipse cx="203.7" cy="43.9" rx="5.0" ry="5.9" fill="url(#blobA)" opacity="0.92"/><ellipse cx="188.2" cy="50.6" rx="5.0" ry="5.9" fill="url(#blobA)" opacity="0.89"/><ellipse cx="196.9" cy="49.7" rx="5.0" ry="5.9" fill="url(#blobA)" opacity="0.85"/><ellipse cx="204.4" cy="54.3" rx="5.0" ry="5.9" fill="url(#blobA)" opacity="0.93"/><ellipse cx="189.7" cy="61.6" rx="5.0" ry="5.9" fill="url(#blobA)" opacity="0.88"/><ellipse cx="197.9" cy="59.6" rx="5.0" ry="5.9" fill="url(#blobA)" opacity="0.93"/><ellipse cx="205.7" cy="65.4" rx="5.0" ry="5.9" fill="url(#blobA)" opacity="0.93"/><ellipse cx="190.0" cy="72.6" rx="5.0" ry="5.9" fill="url(#blobA)" opacity="0.95"/><ellipse cx="198.6" cy="71.4" rx="5.0" ry="5.9" fill="url(#blobA)" opacity="0.81"/><ellipse cx="206.4" cy="76.3" rx="5.0" ry="5.9" fill="url(#blobA)" opacity="0.85"/><ellipse cx="190.5" cy="83.3" rx="5.0" ry="5.9" fill="url(#blobA)" opacity="0.80"/><ellipse cx="199.8" cy="82.2" rx="5.0" ry="5.9" fill="url(#blobA)" opacity="0.83"/><ellipse cx="206.9" cy="87.4" rx="5.0" ry="5.9" fill="url(#blobA)" opacity="0.90"/><ellipse cx="191.8" cy="94.2" rx="5.0" ry="5.9" fill="url(#blobA)" opacity="0.83"/><ellipse cx="200.3" cy="92.5" rx="5.0" ry="5.9" fill="url(#blobA)" opacity="0.81"/><ellipse cx="208.4" cy="98.4" rx="5.0" ry="5.9" fill="url(#blobA)" opacity="0.94"/><ellipse cx="192.0" cy="105.1" rx="5.0" ry="5.9" fill="url(#blobA)" opacity="0.95"/><ellipse cx="201.3" cy="103.7" rx="5.0" ry="5.9" fill="url(#blobA)" opacity="0.89"/><ellipse cx="208.5" cy="108.6" rx="5.0" ry="5.9" fill="url(#blobA)" opacity="0.85"/><ellipse cx="192.8" cy="115.4" rx="5.0" ry="5.9" fill="url(#blobA)" opacity="0.95"/><ellipse cx="202.3" cy="114.7" rx="5.0" ry="5.9" fill="url(#blobA)" opacity="0.94"/><ellipse cx="209.4" cy="119.9" rx="5.0" ry="5.9" fill="url(#blobA)" opacity="0.89"/><ellipse cx="194.4" cy="126.5" rx="5.0" ry="5.9" fill="url(#blobA)" opacity="0.85"/><ellipse cx="203.0" cy="125.7" rx="5.0" ry="5.9" fill="url(#blobA)" opacity="0.84"/><ellipse cx="210.8" cy="130.2" rx="5.0" ry="5.9" fill="url(#blobA)" opacity="0.85"/><ellipse cx="194.6" cy="137.5" rx="5.0" ry="5.9" fill="url(#blobA)" opacity="0.99"/><ellipse cx="203.9" cy="135.9" rx="5.0" ry="5.9" fill="url(#blobA)" opacity="0.98"/><ellipse cx="211.0" cy="141.2" rx="5.0" ry="5.9" fill="url(#blobA)" opacity="0.98"/><ellipse cx="195.8" cy="148.3" rx="5.0" ry="5.9" fill="url(#blobA)" opacity="0.93"/><ellipse cx="205.0" cy="146.9" rx="5.0" ry="5.9" fill="url(#blobA)" opacity="0.97"/><ellipse cx="212.2" cy="152.7" rx="5.0" ry="5.9" fill="url(#blobA)" opacity="0.89"/><ellipse cx="196.7" cy="159.1" rx="5.0" ry="5.9" fill="url(#blobA)" opacity="0.86"/><ellipse cx="205.0" cy="157.9" rx="5.0" ry="5.9" fill="url(#blobA)" opacity="0.82"/><ellipse cx="213.2" cy="162.8" rx="5.0" ry="5.9" fill="url(#blobA)" opacity="0.81"/><ellipse cx="196.9" cy="170.3" rx="5.0" ry="5.9" fill="url(#blobA)" opacity="0.87"/><ellipse cx="205.7" cy="168.1" rx="5.0" ry="5.9" fill="url(#blobA)" opacity="0.81"/><ellipse cx="213.8" cy="174.2" rx="5.0" ry="5.9" fill="url(#blobA)" opacity="0.94"/><ellipse cx="198.3" cy="180.3" rx="5.0" ry="5.9" fill="url(#blobA)" opacity="0.92"/><ellipse cx="206.8" cy="179.8" rx="5.0" ry="5.9" fill="url(#blobA)" opacity="0.96"/><ellipse cx="214.8" cy="184.5" rx="5.0" ry="5.9" fill="url(#blobA)" opacity="0.97"/><ellipse cx="199.3" cy="192.0" rx="5.0" ry="5.9" fill="url(#blobA)" opacity="0.82"/><ellipse cx="207.4" cy="189.9" rx="5.0" ry="5.9" fill="url(#blobA)" opacity="0.81"/><ellipse cx="225.3" cy="21.6" rx="5.0" ry="5.9" fill="url(#blobA)" opacity="0.93"/><ellipse cx="209.8" cy="28.1" rx="5.0" ry="5.9" fill="url(#blobA)" opacity="0.86"/><ellipse cx="217.9" cy="26.3" rx="5.0" ry="5.9" fill="url(#blobA)" opacity="0.95"/><ellipse cx="225.5" cy="32.0" rx="5.0" ry="5.9" fill="url(#blobA)" opacity="0.88"/><ellipse cx="209.8" cy="38.6" rx="5.0" ry="5.9" fill="url(#blobA)" opacity="0.86"/><ellipse cx="219.3" cy="37.4" rx="5.0" ry="5.9" fill="url(#blobA)" opacity="0.86"/><ellipse cx="227.1" cy="43.0" rx="5.0" ry="5.9" fill="url(#blobA)" opacity="0.97"/><ellipse cx="211.2" cy="49.2" rx="5.0" ry="5.9" fill="url(#blobA)" opacity="0.88"/><ellipse cx="219.8" cy="48.7" rx="5.0" ry="5.9" fill="url(#blobA)" opacity="0.87"/><ellipse cx="227.6" cy="53.9" rx="5.0" ry="5.9" fill="url(#blobA)" opacity="0.84"/><ellipse cx="212.3" cy="60.1" rx="5.0" ry="5.9" fill="url(#blobA)" opacity="0.96"/><ellipse cx="220.4" cy="58.8" rx="5.0" ry="5.9" fill="url(#blobA)" opacity="0.84"/><ellipse cx="228.5" cy="65.2" rx="5.0" ry="5.9" fill="url(#blobA)" opacity="0.80"/><ellipse cx="212.7" cy="71.3" rx="5.0" ry="5.9" fill="url(#blobA)" opacity="0.96"/><ellipse cx="221.2" cy="70.1" rx="5.0" ry="5.9" fill="url(#blobA)" opacity="0.87"/><ellipse cx="229.3" cy="75.3" rx="5.0" ry="5.9" fill="url(#blobA)" opacity="0.99"/><ellipse cx="213.3" cy="81.9" rx="5.0" ry="5.9" fill="url(#blobA)" opacity="0.94"/><ellipse cx="222.3" cy="80.6" rx="5.0" ry="5.9" fill="url(#blobA)" opacity="0.93"/><ellipse cx="229.4" cy="86.7" rx="5.0" ry="5.9" fill="url(#blobA)" opacity="0.94"/><ellipse cx="214.6" cy="93.2" rx="5.0" ry="5.9" fill="url(#blobA)" opacity="0.87"/><ellipse cx="223.0" cy="91.7" rx="5.0" ry="5.9" fill="url(#blobA)" opacity="0.98"/><ellipse cx="230.2" cy="97.6" rx="5.0" ry="5.9" fill="url(#blobA)" opacity="0.81"/><ellipse cx="214.8" cy="103.7" rx="5.0" ry="5.9" fill="url(#blobA)" opacity="0.98"/><ellipse cx="223.9" cy="102.5" rx="5.0" ry="5.9" fill="url(#blobA)" opacity="0.98"/><ellipse cx="231.1" cy="108.1" rx="5.0" ry="5.9" fill="url(#blobA)" opacity="0.91"/><ellipse cx="216.2" cy="115.0" rx="5.0" ry="5.9" fill="url(#blobA)" opacity="0.93"/><ellipse cx="224.5" cy="113.3" rx="5.0" ry="5.9" fill="url(#blobA)" opacity="0.83"/><ellipse cx="232.5" cy="119.1" rx="5.0" ry="5.9" fill="url(#blobA)" opacity="0.95"/><ellipse cx="216.4" cy="125.5" rx="5.0" ry="5.9" fill="url(#blobA)" opacity="0.95"/><ellipse cx="225.6" cy="124.0" rx="5.0" ry="5.9" fill="url(#blobA)" opacity="0.89"/><ellipse cx="233.4" cy="129.5" rx="5.0" ry="5.9" fill="url(#blobA)" opacity="0.84"/><ellipse cx="217.3" cy="136.7" rx="5.0" ry="5.9" fill="url(#blobA)" opacity="0.97"/><ellipse cx="226.0" cy="134.9" rx="5.0" ry="5.9" fill="url(#blobA)" opacity="0.85"/><ellipse cx="233.6" cy="140.7" rx="5.0" ry="5.9" fill="url(#blobA)" opacity="0.83"/><ellipse cx="218.1" cy="147.0" rx="5.0" ry="5.9" fill="url(#blobA)" opacity="1.00"/><ellipse cx="227.3" cy="145.7" rx="5.0" ry="5.9" fill="url(#blobA)" opacity="0.99"/><ellipse cx="234.2" cy="151.4" rx="5.0" ry="5.9" fill="url(#blobA)" opacity="1.00"/><ellipse cx="219.4" cy="158.4" rx="5.0" ry="5.9" fill="url(#blobA)" opacity="0.89"/><ellipse cx="227.6" cy="157.0" rx="5.0" ry="5.9" fill="url(#blobA)" opacity="0.82"/><ellipse cx="235.1" cy="162.2" rx="5.0" ry="5.9" fill="url(#blobA)" opacity="0.81"/><ellipse cx="219.8" cy="169.3" rx="5.0" ry="5.9" fill="url(#blobA)" opacity="0.94"/><ellipse cx="228.7" cy="167.9" rx="5.0" ry="5.9" fill="url(#blobA)" opacity="0.89"/><ellipse cx="235.8" cy="173.3" rx="5.0" ry="5.9" fill="url(#blobA)" opacity="0.88"/><ellipse cx="220.9" cy="180.3" rx="5.0" ry="5.9" fill="url(#blobA)" opacity="0.89"/><ellipse cx="229.6" cy="178.8" rx="5.0" ry="5.9" fill="url(#blobA)" opacity="0.88"/><ellipse cx="236.7" cy="184.3" rx="5.0" ry="5.9" fill="url(#blobA)" opacity="0.98"/><ellipse cx="221.8" cy="190.9" rx="5.0" ry="5.9" fill="url(#blobA)" opacity="0.97"/><ellipse cx="230.5" cy="189.6" rx="5.0" ry="5.9" fill="url(#blobA)" opacity="0.89"/><ellipse cx="247.4" cy="20.6" rx="5.0" ry="5.9" fill="url(#blobA)" opacity="0.82"/><ellipse cx="232.0" cy="27.4" rx="5.0" ry="5.9" fill="url(#blobA)" opacity="0.94"/><ellipse cx="241.0" cy="25.6" rx="5.0" ry="5.9" fill="url(#blobA)" opacity="0.88"/><ellipse cx="248.4" cy="31.4" rx="5.0" ry="5.9" fill="url(#blobA)" opacity="0.88"/><ellipse cx="233.1" cy="38.4" rx="5.0" ry="5.9" fill="url(#blobA)" opacity="0.84"/><ellipse cx="241.9" cy="37.0" rx="5.0" ry="5.9" fill="url(#blobA)" opacity="0.88"/><ellipse cx="249.2" cy="42.6" rx="5.0" ry="5.9" fill="url(#blobA)" opacity="0.81"/><ellipse cx="233.7" cy="48.5" rx="5.0" ry="5.9" fill="url(#blobA)" opacity="0.96"/><ellipse cx="242.9" cy="47.6" rx="5.0" ry="5.9" fill="url(#blobA)" opacity="0.82"/><ellipse cx="250.1" cy="53.0" rx="5.0" ry="5.9" fill="url(#blobA)" opacity="0.94"/><ellipse cx="234.5" cy="59.8" rx="5.0" ry="5.9" fill="url(#blobA)" opacity="0.97"/><ellipse cx="243.3" cy="58.3" rx="5.0" ry="5.9" fill="url(#blobA)" opacity="0.99"/><ellipse cx="250.5" cy="64.0" rx="5.0" ry="5.9" fill="url(#blobA)" opacity="0.88"/><ellipse cx="235.6" cy="70.1" rx="5.0" ry="5.9" fill="url(#blobA)" opacity="1.00"/><ellipse cx="244.0" cy="68.8" rx="5.0" ry="5.9" fill="url(#blobA)" opacity="0.85"/><ellipse cx="251.5" cy="74.2" rx="5.0" ry="5.9" fill="url(#blobA)" opacity="0.88"/><ellipse cx="236.0" cy="81.5" rx="5.0" ry="5.9" fill="url(#blobA)" opacity="0.87"/><ellipse cx="244.7" cy="79.8" rx="5.0" ry="5.9" fill="url(#blobA)" opacity="0.95"/><ellipse cx="252.8" cy="85.6" rx="5.0" ry="5.9" fill="url(#blobA)" opacity="0.84"/><ellipse cx="237.2" cy="92.1" rx="5.0" ry="5.9" fill="url(#blobA)" opacity="0.84"/><ellipse cx="245.3" cy="91.2" rx="5.0" ry="5.9" fill="url(#blobA)" opacity="0.96"/><ellipse cx="253.3" cy="96.4" rx="5.0" ry="5.9" fill="url(#blobA)" opacity="0.91"/><ellipse cx="237.4" cy="103.5" rx="5.0" ry="5.9" fill="url(#blobA)" opacity="0.87"/><ellipse cx="246.6" cy="102.1" rx="5.0" ry="5.9" fill="url(#blobA)" opacity="0.96"/><ellipse cx="254.0" cy="107.0" rx="5.0" ry="5.9" fill="url(#blobA)" opacity="0.91"/><ellipse cx="238.1" cy="114.2" rx="5.0" ry="5.9" fill="url(#blobA)" opacity="0.87"/><ellipse cx="247.7" cy="112.4" rx="5.0" ry="5.9" fill="url(#blobA)" opacity="0.88"/><ellipse cx="254.6" cy="118.0" rx="5.0" ry="5.9" fill="url(#blobA)" opacity="0.84"/><ellipse cx="238.8" cy="125.0" rx="5.0" ry="5.9" fill="url(#blobA)" opacity="0.86"/><ellipse cx="247.8" cy="123.3" rx="5.0" ry="5.9" fill="url(#blobA)" opacity="0.90"/><ellipse cx="255.5" cy="129.1" rx="5.0" ry="5.9" fill="url(#blobA)" opacity="0.93"/><ellipse cx="240.0" cy="136.0" rx="5.0" ry="5.9" fill="url(#blobA)" opacity="0.97"/><ellipse cx="248.5" cy="134.7" rx="5.0" ry="5.9" fill="url(#blobA)" opacity="0.98"/><ellipse cx="256.7" cy="139.4" rx="5.0" ry="5.9" fill="url(#blobA)" opacity="0.97"/><ellipse cx="241.0" cy="146.0" rx="5.0" ry="5.9" fill="url(#blobA)" opacity="0.80"/><ellipse cx="250.2" cy="145.4" rx="5.0" ry="5.9" fill="url(#blobA)" opacity="0.85"/><ellipse cx="256.8" cy="150.3" rx="5.0" ry="5.9" fill="url(#blobA)" opacity="0.85"/><ellipse cx="242.0" cy="157.1" rx="5.0" ry="5.9" fill="url(#blobA)" opacity="0.83"/><ellipse cx="250.9" cy="156.3" rx="5.0" ry="5.9" fill="url(#blobA)" opacity="0.83"/><ellipse cx="258.4" cy="161.6" rx="5.0" ry="5.9" fill="url(#blobA)" opacity="0.96"/><ellipse cx="242.7" cy="168.5" rx="5.0" ry="5.9" fill="url(#blobA)" opacity="0.96"/><ellipse cx="251.6" cy="166.6" rx="5.0" ry="5.9" fill="url(#blobA)" opacity="0.94"/><ellipse cx="258.8" cy="172.6" rx="5.0" ry="5.9" fill="url(#blobA)" opacity="0.89"/><ellipse cx="243.7" cy="179.1" rx="5.0" ry="5.9" fill="url(#blobA)" opacity="0.85"/><ellipse cx="251.8" cy="177.4" rx="5.0" ry="5.9" fill="url(#blobA)" opacity="0.90"/><ellipse cx="259.2" cy="183.2" rx="5.0" ry="5.9" fill="url(#blobA)" opacity="0.83"/><ellipse cx="244.1" cy="189.8" rx="5.0" ry="5.9" fill="url(#blobA)" opacity="0.91"/><ellipse cx="253.3" cy="188.1" rx="5.0" ry="5.9" fill="url(#blobA)" opacity="0.97"/><ellipse cx="270.2" cy="19.7" rx="5.0" ry="5.9" fill="url(#blobA)" opacity="0.93"/><ellipse cx="255.0" cy="26.1" rx="5.0" ry="5.9" fill="url(#blobA)" opacity="0.88"/><ellipse cx="264.0" cy="24.6" rx="5.0" ry="5.9" fill="url(#blobA)" opacity="0.93"/><ellipse cx="271.1" cy="30.0" rx="5.0" ry="5.9" fill="url(#blobA)" opacity="0.92"/><ellipse cx="255.7" cy="37.5" rx="5.0" ry="5.9" fill="url(#blobA)" opacity="0.87"/><ellipse cx="264.8" cy="35.9" rx="5.0" ry="5.9" fill="url(#blobA)" opacity="0.90"/><ellipse cx="272.2" cy="40.8" rx="5.0" ry="5.9" fill="url(#blobA)" opacity="0.94"/><ellipse cx="256.4" cy="47.8" rx="5.0" ry="5.9" fill="url(#blobA)" opacity="0.97"/><ellipse cx="265.0" cy="46.7" rx="5.0" ry="5.9" fill="url(#blobA)" opacity="0.91"/><ellipse cx="272.9" cy="51.9" rx="5.0" ry="5.9" fill="url(#blobA)" opacity="0.89"/><ellipse cx="257.0" cy="58.9" rx="5.0" ry="5.9" fill="url(#blobA)" opacity="0.97"/><ellipse cx="265.7" cy="57.9" rx="5.0" ry="5.9" fill="url(#blobA)" opacity="0.88"/><ellipse cx="273.4" cy="62.8" rx="5.0" ry="5.9" fill="url(#blobA)" opacity="0.90"/><ellipse cx="258.4" cy="69.8" rx="5.0" ry="5.9" fill="url(#blobA)" opacity="0.96"/><ellipse cx="266.5" cy="68.2" rx="5.0" ry="5.9" fill="url(#blobA)" opacity="0.86"/><ellipse cx="274.3" cy="74.0" rx="5.0" ry="5.9" fill="url(#blobA)" opacity="0.96"/><ellipse cx="258.2" cy="80.7" rx="5.0" ry="5.9" fill="url(#blobA)" opacity="0.98"/><ellipse cx="267.5" cy="78.8" rx="5.0" ry="5.9" fill="url(#blobA)" opacity="0.86"/><ellipse cx="274.5" cy="84.4" rx="5.0" ry="5.9" fill="url(#blobA)" opacity="0.98"/><ellipse cx="259.6" cy="91.5" rx="5.0" ry="5.9" fill="url(#blobA)" opacity="0.96"/><ellipse cx="268.7" cy="90.2" rx="5.0" ry="5.9" fill="url(#blobA)" opacity="0.92"/><ellipse cx="275.9" cy="95.7" rx="5.0" ry="5.9" fill="url(#blobA)" opacity="0.92"/><ellipse cx="260.5" cy="101.9" rx="5.0" ry="5.9" fill="url(#blobA)" opacity="0.93"/><ellipse cx="269.1" cy="101.2" rx="5.0" ry="5.9" fill="url(#blobA)" opacity="0.82"/><ellipse cx="276.3" cy="105.9" rx="5.0" ry="5.9" fill="url(#blobA)" opacity="0.95"/><ellipse cx="261.5" cy="113.2" rx="5.0" ry="5.9" fill="url(#blobA)" opacity="0.87"/><ellipse cx="270.2" cy="112.1" rx="5.0" ry="5.9" fill="url(#blobA)" opacity="0.91"/><ellipse cx="277.2" cy="117.1" rx="5.0" ry="5.9" fill="url(#blobA)" opacity="0.88"/><ellipse cx="261.7" cy="123.8" rx="5.0" ry="5.9" fill="url(#blobA)" opacity="0.93"/><ellipse cx="271.1" cy="122.2" rx="5.0" ry="5.9" fill="url(#blobA)" opacity="0.91"/><ellipse cx="277.7" cy="127.7" rx="5.0" ry="5.9" fill="url(#blobA)" opacity="0.96"/><ellipse cx="262.8" cy="135.2" rx="5.0" ry="5.9" fill="url(#blobA)" opacity="0.89"/><ellipse cx="271.0" cy="133.4" rx="5.0" ry="5.9" fill="url(#blobA)" opacity="0.92"/><ellipse cx="279.4" cy="139.4" rx="5.0" ry="5.9" fill="url(#blobA)" opacity="0.90"/><ellipse cx="263.4" cy="145.2" rx="5.0" ry="5.9" fill="url(#blobA)" opacity="0.93"/><ellipse cx="272.0" cy="144.0" rx="5.0" ry="5.9" fill="url(#blobA)" opacity="0.80"/><ellipse cx="279.3" cy="150.0" rx="5.0" ry="5.9" fill="url(#blobA)" opacity="0.82"/><ellipse cx="264.8" cy="156.0" rx="5.0" ry="5.9" fill="url(#blobA)" opacity="0.97"/><ellipse cx="272.7" cy="154.7" rx="5.0" ry="5.9" fill="url(#blobA)" opacity="0.94"/><ellipse cx="280.3" cy="160.9" rx="5.0" ry="5.9" fill="url(#blobA)" opacity="0.84"/><ellipse cx="264.7" cy="167.6" rx="5.0" ry="5.9" fill="url(#blobA)" opacity="0.94"/><ellipse cx="274.3" cy="166.3" rx="5.0" ry="5.9" fill="url(#blobA)" opacity="0.82"/><ellipse cx="281.5" cy="171.7" rx="5.0" ry="5.9" fill="url(#blobA)" opacity="0.89"/><ellipse cx="266.3" cy="177.9" rx="5.0" ry="5.9" fill="url(#blobA)" opacity="0.99"/><ellipse cx="274.9" cy="176.4" rx="5.0" ry="5.9" fill="url(#blobA)" opacity="0.80"/><ellipse cx="282.4" cy="182.7" rx="5.0" ry="5.9" fill="url(#blobA)" opacity="0.82"/><ellipse cx="266.5" cy="189.2" rx="5.0" ry="5.9" fill="url(#blobA)" opacity="0.83"/><ellipse cx="275.9" cy="187.7" rx="5.0" ry="5.9" fill="url(#blobA)" opacity="0.81"/><ellipse cx="277.2" cy="25.5" rx="5.0" ry="5.9" fill="url(#blobA)" opacity="0.89"/><ellipse cx="286.3" cy="23.8" rx="5.0" ry="5.9" fill="url(#blobA)" opacity="0.96"/><ellipse cx="293.5" cy="29.7" rx="5.0" ry="5.9" fill="url(#blobA)" opacity="0.93"/><ellipse cx="278.0" cy="36.1" rx="5.0" ry="5.9" fill="url(#blobA)" opacity="0.96"/><ellipse cx="287.3" cy="35.3" rx="5.0" ry="5.9" fill="url(#blobA)" opacity="0.91"/><ellipse cx="294.2" cy="40.0" rx="5.0" ry="5.9" fill="url(#blobA)" opacity="0.99"/><ellipse cx="279.1" cy="47.4" rx="5.0" ry="5.9" fill="url(#blobA)" opacity="0.87"/><ellipse cx="287.8" cy="46.3" rx="5.0" ry="5.9" fill="url(#blobA)" opacity="0.97"/><ellipse cx="295.3" cy="51.1" rx="5.0" ry="5.9" fill="url(#blobA)" opacity="0.89"/><ellipse cx="280.1" cy="57.8" rx="5.0" ry="5.9" fill="url(#blobA)" opacity="0.94"/><ellipse cx="288.6" cy="57.1" rx="5.0" ry="5.9" fill="url(#blobA)" opacity="0.96"/><ellipse cx="295.8" cy="61.7" rx="5.0" ry="5.9" fill="url(#blobA)" opacity="0.85"/><ellipse cx="280.4" cy="68.9" rx="5.0" ry="5.9" fill="url(#blobA)" opacity="0.96"/><ellipse cx="289.7" cy="67.1" rx="5.0" ry="5.9" fill="url(#blobA)" opacity="0.97"/><ellipse cx="297.1" cy="73.4" rx="5.0" ry="5.9" fill="url(#blobA)" opacity="0.91"/><ellipse cx="281.1" cy="80.0" rx="5.0" ry="5.9" fill="url(#blobA)" opacity="0.96"/><ellipse cx="290.3" cy="78.8" rx="5.0" ry="5.9" fill="url(#blobA)" opacity="0.87"/><ellipse cx="297.2" cy="83.9" rx="5.0" ry="5.9" fill="url(#blobA)" opacity="0.96"/><ellipse cx="281.8" cy="90.8" rx="5.0" ry="5.9" fill="url(#blobA)" opacity="0.99"/><ellipse cx="290.6" cy="89.4" rx="5.0" ry="5.9" fill="url(#blobA)" opacity="0.94"/><ellipse cx="298.4" cy="94.4" rx="5.0" ry="5.9" fill="url(#blobA)" opacity="0.85"/><ellipse cx="283.2" cy="101.6" rx="5.0" ry="5.9" fill="url(#blobA)" opacity="0.89"/><ellipse cx="291.3" cy="100.4" rx="5.0" ry="5.9" fill="url(#blobA)" opacity="0.95"/><ellipse cx="298.9" cy="105.6" rx="5.0" ry="5.9" fill="url(#blobA)" opacity="0.98"/><ellipse cx="284.1" cy="112.2" rx="5.0" ry="5.9" fill="url(#blobA)" opacity="0.90"/><ellipse cx="292.6" cy="110.6" rx="5.0" ry="5.9" fill="url(#blobA)" opacity="0.84"/><ellipse cx="299.7" cy="116.6" rx="5.0" ry="5.9" fill="url(#blobA)" opacity="0.87"/><ellipse cx="284.6" cy="123.0" rx="5.0" ry="5.9" fill="url(#blobA)" opacity="0.90"/><ellipse cx="292.9" cy="121.3" rx="5.0" ry="5.9" fill="url(#blobA)" opacity="1.00"/><ellipse cx="300.7" cy="126.9" rx="5.0" ry="5.9" fill="url(#blobA)" opacity="0.93"/><ellipse cx="285.6" cy="133.6" rx="5.0" ry="5.9" fill="url(#blobA)" opacity="0.92"/><ellipse cx="293.9" cy="132.7" rx="5.0" ry="5.9" fill="url(#blobA)" opacity="0.80"/><ellipse cx="301.1" cy="138.6" rx="5.0" ry="5.9" fill="url(#blobA)" opacity="0.97"/><ellipse cx="286.1" cy="144.8" rx="5.0" ry="5.9" fill="url(#blobA)" opacity="0.85"/><ellipse cx="295.2" cy="143.4" rx="5.0" ry="5.9" fill="url(#blobA)" opacity="0.99"/><ellipse cx="302.7" cy="149.3" rx="5.0" ry="5.9" fill="url(#blobA)" opacity="0.99"/><ellipse cx="286.7" cy="155.1" rx="5.0" ry="5.9" fill="url(#blobA)" opacity="0.84"/><ellipse cx="295.4" cy="153.9" rx="5.0" ry="5.9" fill="url(#blobA)" opacity="0.81"/><ellipse cx="303.3" cy="160.2" rx="5.0" ry="5.9" fill="url(#blobA)" opacity="0.89"/><ellipse cx="288.1" cy="166.9" rx="5.0" ry="5.9" fill="url(#blobA)" opacity="0.81"/><ellipse cx="296.6" cy="165.1" rx="5.0" ry="5.9" fill="url(#blobA)" opacity="0.82"/><ellipse cx="304.5" cy="170.4" rx="5.0" ry="5.9" fill="url(#blobA)" opacity="0.91"/><ellipse cx="288.6" cy="177.8" rx="5.0" ry="5.9" fill="url(#blobA)" opacity="0.93"/><ellipse cx="297.2" cy="176.0" rx="5.0" ry="5.9" fill="url(#blobA)" opacity="0.83"/><ellipse cx="305.3" cy="182.0" rx="5.0" ry="5.9" fill="url(#blobA)" opacity="0.84"/><ellipse cx="288.8" cy="187.9" rx="5.0" ry="5.9" fill="url(#blobA)" opacity="0.87"/><ellipse cx="298.5" cy="187.3" rx="5.0" ry="5.9" fill="url(#blobA)" opacity="0.97"/><ellipse cx="305.1" cy="192.6" rx="5.0" ry="5.9" fill="url(#blobA)" opacity="0.94"/><ellipse cx="300.0" cy="25.0" rx="5.0" ry="5.9" fill="url(#blobA)" opacity="0.81"/><ellipse cx="308.3" cy="23.6" rx="5.0" ry="5.9" fill="url(#blobA)" opacity="0.99"/><ellipse cx="300.9" cy="35.2" rx="5.0" ry="5.9" fill="url(#blobA)" opacity="0.92"/><ellipse cx="309.8" cy="33.8" rx="5.0" ry="5.9" fill="url(#blobA)" opacity="0.86"/><ellipse cx="301.3" cy="45.9" rx="5.0" ry="5.9" fill="url(#blobA)" opacity="0.90"/><ellipse cx="310.0" cy="44.7" rx="5.0" ry="5.9" fill="url(#blobA)" opacity="0.83"/><ellipse cx="302.5" cy="56.6" rx="5.0" ry="5.9" fill="url(#blobA)" opacity="0.94"/><ellipse cx="310.8" cy="55.4" rx="5.0" ry="5.9" fill="url(#blobA)" opacity="0.99"/><ellipse cx="302.8" cy="68.4" rx="5.0" ry="5.9" fill="url(#blobA)" opacity="0.97"/><ellipse cx="312.3" cy="66.3" rx="5.0" ry="5.9" fill="url(#blobA)" opacity="0.89"/><ellipse cx="303.5" cy="79.2" rx="5.0" ry="5.9" fill="url(#blobA)" opacity="0.97"/><ellipse cx="312.8" cy="77.5" rx="5.0" ry="5.9" fill="url(#blobA)" opacity="0.87"/><ellipse cx="305.0" cy="89.6" rx="5.0" ry="5.9" fill="url(#blobA)" opacity="0.93"/><ellipse cx="313.1" cy="88.1" rx="5.0" ry="5.9" fill="url(#blobA)" opacity="0.81"/><ellipse cx="305.7" cy="100.6" rx="5.0" ry="5.9" fill="url(#blobA)" opacity="0.83"/><ellipse cx="314.7" cy="99.0" rx="5.0" ry="5.9" fill="url(#blobA)" opacity="0.88"/><ellipse cx="306.0" cy="111.1" rx="5.0" ry="5.9" fill="url(#blobA)" opacity="0.97"/><ellipse cx="306.9" cy="121.9" rx="5.0" ry="5.9" fill="url(#blobA)" opacity="0.90"/><ellipse cx="307.7" cy="133.5" rx="5.0" ry="5.9" fill="url(#blobA)" opacity="0.82"/><ellipse cx="309.2" cy="143.5" rx="5.0" ry="5.9" fill="url(#blobA)" opacity="0.98"/><ellipse cx="309.7" cy="154.5" rx="5.0" ry="5.9" fill="url(#blobA)" opacity="0.90"/><ellipse cx="310.1" cy="165.4" rx="5.0" ry="5.9" fill="url(#blobA)" opacity="0.84"/><ellipse cx="311.0" cy="176.9" rx="5.0" ry="5.9" fill="url(#blobA)" opacity="1.00"/><ellipse cx="312.3" cy="186.9" rx="5.0" ry="5.9" fill="url(#blobA)" opacity="0.86"/></g><path d="M33,105.2L170,107.4L309,98.3" fill="none" stroke="#b83232" stroke-width="0.9" stroke-dasharray="4 2"/><path d="M166.6,25L178.7,187" fill="none" stroke="#3434e0" stroke-width="0.9" stroke-dasharray="3.5 2"/></g><path d="M47,41H86" stroke="#ffee00" stroke-width="1.9" stroke-dasharray="5.5 2.6" fill="none"/><path d="M91.6,41l-6.5,-3.1v6.2z" fill="#ffee00"/><path d="M47,41V67" stroke="#ffee00" stroke-width="1.9" stroke-dasharray="5.5 2.6" fill="none"/><path d="M47,73.2l-3.1,-6.5h6.2z" fill="#ffee00"/><path d="M47,41L86.5,70.5" stroke="#ffee00" stroke-width="1.7" fill="none"/><path d="M90.5,73.4l-7.3,-2.2l3.8,-4.9z" fill="#ffee00"/><path d="M91.6,44V73.4H49.5" stroke="#fff" stroke-width="0.8" stroke-dasharray="2.6 1.6" fill="none"/><text x="93.5" y="39.8" font-size="15" class="se i" fill="#ffee00">F</text><text x="104" y="44.6" font-size="11.6" class="se" fill="#ffee00">[02</text><text x="120.6" y="44.6" font-size="11.6" class="se" fill="#ffee00">1]</text><path d="M120.8,35.8h5.2" stroke="#ffee00" stroke-width="0.8"/><text x="33.8" y="87.6" font-size="15" class="se i" fill="#ffee00">F</text><text x="42.5" y="92.2" font-size="11.5" class="se" fill="#ffee00">[201]</text><text x="92" y="86.8" font-size="15.5" class="se i" fill="#ffee00">F</text><path d="M197.8,38.9L256,37.9 M262.5,36.4H278.3V47.6H262.5Z M197.8,38.9V52.7L209.6,52.2V38.7 M209.6,50.6L221.3,50.3V38.6 M221.3,50L232.6,49.4L232.2,38.4 M240.4,38.1V49.2L256.2,48.8V37.7 M232.6,49.4L240.4,49.2 M256.2,48.8L262.5,47.6" stroke="#9a1488" stroke-width="1.7" fill="none" stroke-linejoin="round"/><path d="M230.6,53.8L237.2,48.4 M253.6,52.2L260,46.9" stroke="#fff" stroke-width="1.7" stroke-linecap="round"/><text x="64.5" y="138.9" font-size="17" class="b" fill="#ffee00" textLength="43.7" lengthAdjust="spacingAndGlyphs">[021]</text><text x="108.5" y="143.5" font-size="11.6" class="b i" fill="#ffee00" textLength="18.2" lengthAdjust="spacingAndGlyphs">OD</text><text x="212.7" y="146.9" font-size="17.3" class="b" fill="#c80000" textLength="44.2" lengthAdjust="spacingAndGlyphs">[021]</text><text x="256.7" y="151.8" font-size="11.2" class="b i" fill="#c80000" textLength="17.6" lengthAdjust="spacingAndGlyphs">RD</text><rect x="38" y="180" width="33.8" height="2.4" fill="#fff"/><text x="44" y="175.9" font-size="8.8" fill="#fff">1 nm</text><rect x="310.8" y="25.6" width="44" height="162" fill="#fff"/><path d="M354.5,25.5L345.0,25.5L333.3,27.6L351.2,34.7L331.8,41.8L351.2,46.8L333.3,51.9L351.2,58.5L331.0,65.0L348.7,69.7L335.7,74.3L351.2,81.3L330.2,88.3L351.2,93.3L338.0,98.4L344.5,102.5L335.7,106.6L347.0,112.6L331.0,118.6L347.0,124.0L333.3,129.5L344.5,134.2L333.3,138.8L347.0,145.0L329.5,151.2L347.0,156.2L330.2,161.2L347.0,167.1L327.0,172.9L347.0,178.4L327.0,184.0L335.0,187.2L354.5,187.2Z" fill="url(#sideBlue)"/><path d="M310.8,25V188.4 M310,25.7H356 M355,25V188.4 M310,187.6H356" stroke="#000" stroke-width="1.6" fill="none"/><path d="M355,25.7V188" stroke="#000" stroke-width="2.2"/><path d="M331,30.7V39.1" stroke="#000" stroke-width="1.3" fill="none"/><path d="M331,28.0l-2.2,3.2h4.4z M331,41.8l-2.2,-3.2h4.4z" fill="#000"/><path d="M331,54.7V61.6" stroke="#000" stroke-width="1.3" fill="none"/><path d="M331,52.0l-2.2,3.2h4.4z M331,64.3l-2.2,-3.2h4.4z" fill="#000"/><path d="M331,76.3V83.3" stroke="#000" stroke-width="1.3" fill="none"/><path d="M331,73.6l-2.2,3.2h4.4z M331,86.0l-2.2,-3.2h4.4z" fill="#000"/><path d="M331,132.2V136.1" stroke="#000" stroke-width="1.3" fill="none"/><path d="M331,129.5l-2.2,3.2h4.4z M331,138.8l-2.2,-3.2h4.4z" fill="#000"/><path d="M330.2,154.7V158.5" stroke="#000" stroke-width="1.3" fill="none"/><path d="M330.2,152.0l-2.2,3.2h4.4z M330.2,161.2l-2.2,-3.2h4.4z" fill="#000"/><path d="M328,177.1V181.8" stroke="#000" stroke-width="1.3" fill="none"/><path d="M328,174.4l-2.2,3.2h4.4z M328,184.5l-2.2,-3.2h4.4z" fill="#000"/><text x="307" y="19.6" font-size="7.4" class="b" fill="#000" textLength="51" lengthAdjust="spacingAndGlyphs">Intensity (a.u.)</text><text x="356.6" y="27.4" font-size="6.6" class="b" fill="#000">0</text><text x="356.6" y="60.4" font-size="6.6" class="b" fill="#000">1</text><path d="M352.5,58h3" stroke="#000" stroke-width="1"/><text x="356.6" y="93.4" font-size="6.6" class="b" fill="#000">2</text><path d="M352.5,91h3" stroke="#000" stroke-width="1"/><text x="356.6" y="126.4" font-size="6.6" class="b" fill="#000">3</text><path d="M352.5,124h3" stroke="#000" stroke-width="1"/><text x="356.6" y="159.4" font-size="6.6" class="b" fill="#000">4</text><path d="M352.5,157h3" stroke="#000" stroke-width="1"/><text transform="translate(367.2,99.8) rotate(-90)" text-anchor="middle" font-size="7.8" class="b" fill="#000">Distance (nm)</text><g transform="translate(326,86.8) rotate(-90)"><text x="0" y="0" font-size="12.6" fill="#000"><tspan class="i">d</tspan>~0.41 nm</text><path d="M0.8,-11.2h6.4" stroke="#000" stroke-width="0.8"/></g><g transform="translate(325.4,174.8) rotate(-90)"><text x="0" y="0" font-size="12.6" fill="#000"><tspan class="i">d</tspan>~0.34 nm</text><path d="M0.8,-11.2h6.4" stroke="#000" stroke-width="0.8"/></g><rect x="33.4" y="189.6" width="277" height="52" fill="#fff"/><path d="M34.2,228.0C34.6,230.1 35.4,242.2 36.5,239.6C37.6,237.0 39.4,218.4 40.3,213.5C41.2,208.6 40.9,212.5 41.3,212.5C41.7,212.5 41.3,208.6 42.3,213.5C43.3,218.4 45.2,240.0 46.9,239.8C48.6,239.6 50.5,217.4 51.5,212.3C52.5,207.2 52.1,211.3 52.5,211.3C52.9,211.3 52.5,207.2 53.5,212.3C54.5,217.4 56.3,239.2 57.8,239.8C59.3,240.4 61.1,220.1 62.1,215.5C63.1,210.9 62.7,214.5 63.1,214.5C63.5,214.5 63.1,210.9 64.1,215.5C65.1,220.1 66.9,240.1 68.5,239.8C70.0,239.5 71.8,218.8 72.8,214.0C73.8,209.2 73.4,213.0 73.8,213.0C74.2,213.0 73.8,209.2 74.8,214.0C75.8,218.8 77.6,240.0 79.2,239.8C80.8,239.6 82.6,218.0 83.6,213.0C84.6,208.0 84.2,212.0 84.6,212.0C85.0,212.0 84.7,208.0 85.6,213.0C86.5,218.0 88.3,239.0 89.8,239.8C91.4,240.6 93.2,221.5 94.1,217.3C95.0,213.1 94.7,216.3 95.1,216.3C95.5,216.3 95.1,213.1 96.1,217.3C97.1,221.5 99.1,240.2 100.8,239.8C102.4,239.3 104.4,219.5 105.4,214.8C106.4,210.1 106.0,213.8 106.4,213.8C106.8,213.8 106.5,210.1 107.4,214.8C108.3,219.5 110.0,239.5 111.4,239.8C112.8,240.1 114.5,220.9 115.4,216.5C116.3,212.1 116.0,215.5 116.4,215.5C116.8,215.5 116.4,212.1 117.4,216.5C118.4,220.9 120.2,240.3 121.8,239.8C123.4,239.3 125.2,218.4 126.2,213.5C127.2,208.6 126.8,212.5 127.2,212.5C127.6,212.5 127.2,208.6 128.2,213.5C129.2,218.4 131.1,239.4 132.7,239.8C134.3,240.2 136.2,220.1 137.2,215.5C138.2,210.9 137.8,214.5 138.2,214.5C138.6,214.5 138.2,210.9 139.2,215.5C140.2,220.1 142.0,239.5 143.6,239.8C145.2,240.1 147.0,221.5 148.0,217.3C149.0,213.1 148.6,216.3 149.0,216.3C149.4,216.3 149.0,213.1 150.0,217.3C151.0,221.5 152.9,239.6 154.6,239.8C156.3,240.0 158.2,222.5 159.2,218.5C160.2,214.5 159.8,217.5 160.2,217.5C160.6,217.5 160.2,214.5 161.2,218.5C162.2,222.5 164.0,239.1 165.6,239.8C167.2,240.5 169.0,225.8 170.0,222.5C171.0,219.2 170.6,221.5 171.0,221.5C171.4,221.5 171.2,219.2 172.0,222.5C172.8,225.8 174.4,241.1 175.7,239.8C177.0,238.5 178.6,219.8 179.4,215.2C180.2,210.6 180.0,214.2 180.4,214.2C180.8,214.2 180.8,210.9 181.4,215.2C182.0,219.5 182.9,233.5 183.9,238.0C184.9,242.5 185.8,240.0 186.9,240.0C188.0,240.0 188.9,242.0 189.9,237.8C190.9,233.6 191.8,220.8 192.4,216.9C193.0,213.0 193.0,215.9 193.4,215.9C193.8,215.9 193.6,212.6 194.4,216.9C195.2,221.2 196.6,240.0 197.9,239.8C199.1,239.6 200.5,220.3 201.3,215.8C202.1,211.3 201.9,214.8 202.3,214.8C202.7,214.8 202.6,212.2 203.3,215.8C204.0,219.4 205.1,231.2 206.3,235.0C207.4,238.8 208.4,237.0 209.7,237.0C210.9,237.0 211.9,238.9 213.0,234.8C214.2,230.7 215.3,218.3 216.0,214.4C216.7,210.5 216.6,213.4 217.0,213.4C217.4,213.4 217.2,209.6 218.0,214.4C218.8,219.2 220.2,239.3 221.5,239.8C222.8,240.2 224.2,221.2 225.0,216.9C225.8,212.6 225.6,215.9 226.0,215.9C226.4,215.9 226.4,213.4 227.0,216.9C227.6,220.4 228.5,231.9 229.5,235.6C230.4,239.3 231.3,237.6 232.4,237.6C233.5,237.6 234.4,239.3 235.3,235.4C236.3,231.5 237.2,219.5 237.8,215.8C238.4,212.1 238.4,214.8 238.8,214.8C239.2,214.8 238.9,211.3 239.8,215.8C240.7,220.3 242.4,239.8 243.9,239.8C245.3,239.8 247.0,220.3 247.9,215.8C248.8,211.3 248.5,214.8 248.9,214.8C249.3,214.8 249.3,212.7 249.9,215.8C250.5,218.9 251.2,228.9 252.1,232.2C253.0,235.5 253.9,234.2 254.9,234.2C255.8,234.2 256.7,235.5 257.6,232.0C258.5,228.5 259.2,218.1 259.8,214.8C260.4,211.5 260.4,213.8 260.8,213.8C261.2,213.8 261.2,211.2 261.8,214.8C262.4,218.4 263.0,230.2 263.9,234.0C264.7,237.8 265.6,236.0 266.5,236.0C267.4,236.0 268.3,237.7 269.1,233.8C270.0,229.9 270.6,218.1 271.2,214.4C271.8,210.7 271.8,213.4 272.2,213.4C272.6,213.4 272.6,210.5 273.2,214.4C273.8,218.3 274.4,230.9 275.3,235.0C276.2,239.1 277.0,237.0 277.9,237.0C278.9,237.0 279.7,239.0 280.6,234.8C281.4,230.6 282.1,217.7 282.7,213.7C283.3,209.7 283.3,212.7 283.7,212.7C284.1,212.7 283.8,208.8 284.7,213.7C285.6,218.6 287.4,239.2 288.9,239.8C290.4,240.4 292.2,221.2 293.1,216.9C294.0,212.6 293.7,215.9 294.1,215.9C294.5,215.9 294.5,213.4 295.1,216.9C295.7,220.4 296.5,231.5 297.5,235.1C298.5,238.7 299.4,237.1 300.4,237.1C301.4,237.1 302.3,238.7 303.3,234.9C304.3,231.1 305.1,219.4 305.7,215.8C306.3,212.2 306.3,214.8 306.7,214.8C307.1,214.8 307.2,214.7 307.7,215.8C308.2,216.9 309.1,220.1 309.4,221.0L309.4,241.6L34.2,241.6Z" fill="#f40000"/><path d="M34.2,228.0C34.6,230.1 35.4,242.2 36.5,239.6C37.6,237.0 39.4,218.4 40.3,213.5C41.2,208.6 40.9,212.5 41.3,212.5C41.7,212.5 41.3,208.6 42.3,213.5C43.3,218.4 45.2,240.0 46.9,239.8C48.6,239.6 50.5,217.4 51.5,212.3C52.5,207.2 52.1,211.3 52.5,211.3C52.9,211.3 52.5,207.2 53.5,212.3C54.5,217.4 56.3,239.2 57.8,239.8C59.3,240.4 61.1,220.1 62.1,215.5C63.1,210.9 62.7,214.5 63.1,214.5C63.5,214.5 63.1,210.9 64.1,215.5C65.1,220.1 66.9,240.1 68.5,239.8C70.0,239.5 71.8,218.8 72.8,214.0C73.8,209.2 73.4,213.0 73.8,213.0C74.2,213.0 73.8,209.2 74.8,214.0C75.8,218.8 77.6,240.0 79.2,239.8C80.8,239.6 82.6,218.0 83.6,213.0C84.6,208.0 84.2,212.0 84.6,212.0C85.0,212.0 84.7,208.0 85.6,213.0C86.5,218.0 88.3,239.0 89.8,239.8C91.4,240.6 93.2,221.5 94.1,217.3C95.0,213.1 94.7,216.3 95.1,216.3C95.5,216.3 95.1,213.1 96.1,217.3C97.1,221.5 99.1,240.2 100.8,239.8C102.4,239.3 104.4,219.5 105.4,214.8C106.4,210.1 106.0,213.8 106.4,213.8C106.8,213.8 106.5,210.1 107.4,214.8C108.3,219.5 110.0,239.5 111.4,239.8C112.8,240.1 114.5,220.9 115.4,216.5C116.3,212.1 116.0,215.5 116.4,215.5C116.8,215.5 116.4,212.1 117.4,216.5C118.4,220.9 120.2,240.3 121.8,239.8C123.4,239.3 125.2,218.4 126.2,213.5C127.2,208.6 126.8,212.5 127.2,212.5C127.6,212.5 127.2,208.6 128.2,213.5C129.2,218.4 131.1,239.4 132.7,239.8C134.3,240.2 136.2,220.1 137.2,215.5C138.2,210.9 137.8,214.5 138.2,214.5C138.6,214.5 138.2,210.9 139.2,215.5C140.2,220.1 142.0,239.5 143.6,239.8C145.2,240.1 147.0,221.5 148.0,217.3C149.0,213.1 148.6,216.3 149.0,216.3C149.4,216.3 149.0,213.1 150.0,217.3C151.0,221.5 152.9,239.6 154.6,239.8C156.3,240.0 158.2,222.5 159.2,218.5C160.2,214.5 159.8,217.5 160.2,217.5C160.6,217.5 160.2,214.5 161.2,218.5C162.2,222.5 164.0,239.1 165.6,239.8C167.2,240.5 169.0,225.8 170.0,222.5C171.0,219.2 170.6,221.5 171.0,221.5C171.4,221.5 171.2,219.2 172.0,222.5C172.8,225.8 174.4,241.1 175.7,239.8C177.0,238.5 178.6,219.8 179.4,215.2C180.2,210.6 180.0,214.2 180.4,214.2C180.8,214.2 180.8,210.9 181.4,215.2C182.0,219.5 182.9,233.5 183.9,238.0C184.9,242.5 185.8,240.0 186.9,240.0C188.0,240.0 188.9,242.0 189.9,237.8C190.9,233.6 191.8,220.8 192.4,216.9C193.0,213.0 193.0,215.9 193.4,215.9C193.8,215.9 193.6,212.6 194.4,216.9C195.2,221.2 196.6,240.0 197.9,239.8C199.1,239.6 200.5,220.3 201.3,215.8C202.1,211.3 201.9,214.8 202.3,214.8C202.7,214.8 202.6,212.2 203.3,215.8C204.0,219.4 205.1,231.2 206.3,235.0C207.4,238.8 208.4,237.0 209.7,237.0C210.9,237.0 211.9,238.9 213.0,234.8C214.2,230.7 215.3,218.3 216.0,214.4C216.7,210.5 216.6,213.4 217.0,213.4C217.4,213.4 217.2,209.6 218.0,214.4C218.8,219.2 220.2,239.3 221.5,239.8C222.8,240.2 224.2,221.2 225.0,216.9C225.8,212.6 225.6,215.9 226.0,215.9C226.4,215.9 226.4,213.4 227.0,216.9C227.6,220.4 228.5,231.9 229.5,235.6C230.4,239.3 231.3,237.6 232.4,237.6C233.5,237.6 234.4,239.3 235.3,235.4C236.3,231.5 237.2,219.5 237.8,215.8C238.4,212.1 238.4,214.8 238.8,214.8C239.2,214.8 238.9,211.3 239.8,215.8C240.7,220.3 242.4,239.8 243.9,239.8C245.3,239.8 247.0,220.3 247.9,215.8C248.8,211.3 248.5,214.8 248.9,214.8C249.3,214.8 249.3,212.7 249.9,215.8C250.5,218.9 251.2,228.9 252.1,232.2C253.0,235.5 253.9,234.2 254.9,234.2C255.8,234.2 256.7,235.5 257.6,232.0C258.5,228.5 259.2,218.1 259.8,214.8C260.4,211.5 260.4,213.8 260.8,213.8C261.2,213.8 261.2,211.2 261.8,214.8C262.4,218.4 263.0,230.2 263.9,234.0C264.7,237.8 265.6,236.0 266.5,236.0C267.4,236.0 268.3,237.7 269.1,233.8C270.0,229.9 270.6,218.1 271.2,214.4C271.8,210.7 271.8,213.4 272.2,213.4C272.6,213.4 272.6,210.5 273.2,214.4C273.8,218.3 274.4,230.9 275.3,235.0C276.2,239.1 277.0,237.0 277.9,237.0C278.9,237.0 279.7,239.0 280.6,234.8C281.4,230.6 282.1,217.7 282.7,213.7C283.3,209.7 283.3,212.7 283.7,212.7C284.1,212.7 283.8,208.8 284.7,213.7C285.6,218.6 287.4,239.2 288.9,239.8C290.4,240.4 292.2,221.2 293.1,216.9C294.0,212.6 293.7,215.9 294.1,215.9C294.5,215.9 294.5,213.4 295.1,216.9C295.7,220.4 296.5,231.5 297.5,235.1C298.5,238.7 299.4,237.1 300.4,237.1C301.4,237.1 302.3,238.7 303.3,234.9C304.3,231.1 305.1,219.4 305.7,215.8C306.3,212.2 306.3,214.8 306.7,214.8C307.1,214.8 307.2,214.7 307.7,215.8C308.2,216.9 309.1,220.1 309.4,221.0" fill="none" stroke="#1a1ad8" stroke-width="1.1" stroke-dasharray="3.2 2.2"/><rect x="33.4" y="189.7" width="277.2" height="52" fill="none" stroke="#000" stroke-width="1.7"/><path d="M55.0,211.4H60.6" stroke="#000" stroke-width="1.3" fill="none"/><path d="M52.5,211.4l3.0,-2.1v4.2z M63.1,211.4l-3.0,-2.1v4.2z" fill="#000"/><path d="M76.3,211.2H82.1" stroke="#000" stroke-width="1.3" fill="none"/><path d="M73.8,211.2l3.0,-2.1v4.2z M84.6,211.2l-3.0,-2.1v4.2z" fill="#000"/><path d="M97.6,213.4H103.9" stroke="#000" stroke-width="1.3" fill="none"/><path d="M95.1,213.4l3.0,-2.1v4.2z M106.4,213.4l-3.0,-2.1v4.2z" fill="#000"/><path d="M118.9,212.0H124.7" stroke="#000" stroke-width="1.3" fill="none"/><path d="M116.4,212.0l3.0,-2.1v4.2z M127.2,212.0l-3.0,-2.1v4.2z" fill="#000"/><path d="M140.7,213.8H146.5" stroke="#000" stroke-width="1.3" fill="none"/><path d="M138.2,213.8l3.0,-2.1v4.2z M149.0,213.8l-3.0,-2.1v4.2z" fill="#000"/><path d="M182.9,213.6H190.3" stroke="#000" stroke-width="1.3" fill="none"/><path d="M180.4,213.6l3.0,-2.1v4.2z M192.8,213.6l-3.0,-2.1v4.2z" fill="#000"/><path d="M182.9,213.6H190.3" stroke="#000" stroke-width="1.3" fill="none"/><path d="M180.4,213.6l3.0,-2.1v4.2z M192.8,213.6l-3.0,-2.1v4.2z" fill="#000"/><path d="M205.7,211.6H213.7" stroke="#000" stroke-width="1.3" fill="none"/><path d="M203.2,211.6l3.0,-2.1v4.2z M216.2,211.6l-3.0,-2.1v4.2z" fill="#000"/><path d="M228.1,213.2H236.1" stroke="#000" stroke-width="1.3" fill="none"/><path d="M225.6,213.2l3.0,-2.1v4.2z M238.6,213.2l-3.0,-2.1v4.2z" fill="#000"/><path d="M251.5,211.2H259.5" stroke="#000" stroke-width="1.3" fill="none"/><path d="M249.0,211.2l3.0,-2.1v4.2z M262.0,211.2l-3.0,-2.1v4.2z" fill="#000"/><path d="M275.0,210.5H282.5" stroke="#000" stroke-width="1.3" fill="none"/><path d="M272.5,210.5l3.0,-2.1v4.2z M285.0,210.5l-3.0,-2.1v4.2z" fill="#000"/><path d="M297.3,212.6H304.5" stroke="#000" stroke-width="1.3" fill="none"/><path d="M294.8,212.6l3.0,-2.1v4.2z M307.0,212.6l-3.0,-2.1v4.2z" fill="#000"/><text x="73.6" y="203.8" font-size="12.4" fill="#000">d~0.34 nm</text><path d="M74.2,192.8h6.2" stroke="#000" stroke-width="0.8"/><text x="222.4" y="203.8" font-size="12.4" fill="#000"><tspan class="i">d</tspan>~0.40 nm</text><path d="M223.6,192.8h6.2" stroke="#000" stroke-width="0.8"/><text x="32.2" y="249.2" font-size="7" class="b" text-anchor="middle" fill="#000">0</text><text x="98.4" y="249.2" font-size="7" class="b" text-anchor="middle" fill="#000">2</text><path d="M98.4,239.5v2.4" stroke="#000" stroke-width="1"/><text x="164.6" y="249.2" font-size="7" class="b" text-anchor="middle" fill="#000">4</text><path d="M164.6,239.5v2.4" stroke="#000" stroke-width="1"/><text x="230.8" y="249.2" font-size="7" class="b" text-anchor="middle" fill="#000">6</text><path d="M230.8,239.5v2.4" stroke="#000" stroke-width="1"/><text x="297" y="249.2" font-size="7" class="b" text-anchor="middle" fill="#000">8</text><path d="M297,239.5v2.4" stroke="#000" stroke-width="1"/><text x="171" y="256.6" font-size="8" class="b" text-anchor="middle" fill="#000">Distance (nm)</text><text transform="translate(319,216.5) rotate(-90)" text-anchor="middle" font-size="7.8" class="b" fill="#000">Intensity (a.u.)</text></g><g id="panel-b"><text x="372.8" y="24.7" font-size="22" class="b" fill="#000">b</text><text x="442.4" y="25.6" font-size="16.6" fill="#000">I</text><text x="449.6" y="24" font-size="12.4" class="b" fill="#cdc800">[021]</text><text x="479.6" y="26.4" font-size="8" class="b i" fill="#cdc800">OD</text><path d="M396.6,70.3L522.4,70.3" stroke="#1672e6" stroke-width="1.7" fill="none" stroke-linejoin="round" stroke-linecap="round"/><path d="M393.8,87.4L520.2,87.4" stroke="#1672e6" stroke-width="1.7" fill="none" stroke-linejoin="round" stroke-linecap="round"/><path d="M397.1,70.5L394.3,87.4" stroke="#1672e6" stroke-width="1.6" fill="none" stroke-linejoin="round" stroke-linecap="round"/><path d="M421.9,70.5L419.3,87.4" stroke="#1672e6" stroke-width="1.6" fill="none" stroke-linejoin="round" stroke-linecap="round"/><path d="M446.1,70.5L444.4,87.4" stroke="#1672e6" stroke-width="1.6" fill="none" stroke-linejoin="round" stroke-linecap="round"/><path d="M471.9,70.5L469.4,87.4" stroke="#1672e6" stroke-width="1.6" fill="none" stroke-linejoin="round" stroke-linecap="round"/><path d="M496.1,70.5L494.4,87.4" stroke="#1672e6" stroke-width="1.6" fill="none" stroke-linejoin="round" stroke-linecap="round"/><path d="M522.9,70.5L520.7,87.4" stroke="#1672e6" stroke-width="1.6" fill="none" stroke-linejoin="round" stroke-linecap="round"/><path d="M423.8,70.5L421.2,87.4" stroke="#1672e6" stroke-width="1.2" fill="none" stroke-linejoin="round" stroke-linecap="round"/><path d="M448.0,70.5L446.3,87.4" stroke="#1672e6" stroke-width="1.2" fill="none" stroke-linejoin="round" stroke-linecap="round"/><path d="M473.8,70.5L471.3,87.4" stroke="#1672e6" stroke-width="1.2" fill="none" stroke-linejoin="round" stroke-linecap="round"/><path d="M498.0,70.5L496.3,87.4" stroke="#1672e6" stroke-width="1.2" fill="none" stroke-linejoin="round" stroke-linecap="round"/><path d="M394.0,35.8L419.0,35.8L444.0,35.8L469.0,35.8L494.0,35.8L519.0,35.8" stroke="#cc0a0a" stroke-width="1.8" fill="none" stroke-linejoin="round" stroke-linecap="round"/><path d="M396.6,68.6L421.4,68.6L445.6,68.6L471.4,68.6L495.6,68.6L522.4,68.6" stroke="#cc0a0a" stroke-width="1.8" fill="none" stroke-linejoin="round" stroke-linecap="round"/><path d="M393.8,89.0L418.8,89.0L443.9,89.0L468.9,89.0L493.9,89.0L520.2,89.0" stroke="#cc0a0a" stroke-width="1.8" fill="none" stroke-linejoin="round" stroke-linecap="round"/><path d="M397.5,122.3L422.6,122.3L447.6,122.3L473.9,122.3L497.7,122.3L522.7,122.3" stroke="#cc0a0a" stroke-width="1.8" fill="none" stroke-linejoin="round" stroke-linecap="round"/><path d="M394.0,35.8L396.6,68.6" stroke="#cc0a0a" stroke-width="1.7" fill="none" stroke-linejoin="round" stroke-linecap="round"/><path d="M419.0,35.8L421.4,68.6" stroke="#cc0a0a" stroke-width="1.7" fill="none" stroke-linejoin="round" stroke-linecap="round"/><path d="M444.0,35.8L445.6,68.6" stroke="#cc0a0a" stroke-width="1.7" fill="none" stroke-linejoin="round" stroke-linecap="round"/><path d="M469.0,35.8L471.4,68.6" stroke="#cc0a0a" stroke-width="1.7" fill="none" stroke-linejoin="round" stroke-linecap="round"/><path d="M494.0,35.8L495.6,68.6" stroke="#cc0a0a" stroke-width="1.7" fill="none" stroke-linejoin="round" stroke-linecap="round"/><path d="M519.0,35.8L522.4,68.6" stroke="#cc0a0a" stroke-width="1.7" fill="none" stroke-linejoin="round" stroke-linecap="round"/><path d="M393.8,89.0L397.5,122.3" stroke="#cc0a0a" stroke-width="1.7" fill="none" stroke-linejoin="round" stroke-linecap="round"/><path d="M418.8,89.0L422.6,122.3" stroke="#cc0a0a" stroke-width="1.7" fill="none" stroke-linejoin="round" stroke-linecap="round"/><path d="M443.9,89.0L447.6,122.3" stroke="#cc0a0a" stroke-width="1.7" fill="none" stroke-linejoin="round" stroke-linecap="round"/><path d="M468.9,89.0L473.9,122.3" stroke="#cc0a0a" stroke-width="1.7" fill="none" stroke-linejoin="round" stroke-linecap="round"/><path d="M493.9,89.0L497.7,122.3" stroke="#cc0a0a" stroke-width="1.7" fill="none" stroke-linejoin="round" stroke-linecap="round"/><path d="M520.2,89.0L522.7,122.3" stroke="#cc0a0a" stroke-width="1.7" fill="none" stroke-linejoin="round" stroke-linecap="round"/><circle cx="409.0" cy="79.4" r="4.4" fill="#fff" stroke="#000" stroke-width="1.1"/><circle cx="434.0" cy="79.4" r="4.4" fill="#fff" stroke="#000" stroke-width="1.1"/><circle cx="459.0" cy="79.4" r="4.4" fill="#fff" stroke="#000" stroke-width="1.1"/><circle cx="484.4" cy="79.4" r="4.4" fill="#fff" stroke="#000" stroke-width="1.1"/><circle cx="509.7" cy="79.4" r="4.4" fill="#fff" stroke="#000" stroke-width="1.1"/><circle cx="385.9" cy="54.1" r="4.7" fill="url(#agG)"/><circle cx="380.1" cy="53.6" r="4.7" fill="url(#agG)"/><circle cx="410.9" cy="54.1" r="4.7" fill="url(#agG)"/><circle cx="405.1" cy="53.6" r="4.7" fill="url(#agG)"/><circle cx="435.9" cy="54.1" r="4.7" fill="url(#agG)"/><circle cx="430.1" cy="53.6" r="4.7" fill="url(#agG)"/><circle cx="460.9" cy="54.1" r="4.7" fill="url(#agG)"/><circle cx="455.1" cy="53.6" r="4.7" fill="url(#agG)"/><circle cx="485.9" cy="54.1" r="4.7" fill="url(#agG)"/><circle cx="480.1" cy="53.6" r="4.7" fill="url(#agG)"/><circle cx="510.9" cy="54.1" r="4.7" fill="url(#agG)"/><circle cx="505.1" cy="53.6" r="4.7" fill="url(#agG)"/><circle cx="535.9" cy="54.1" r="4.7" fill="url(#agG)"/><circle cx="530.1" cy="53.6" r="4.7" fill="url(#agG)"/><circle cx="386.7" cy="106.7" r="4.7" fill="url(#agG)"/><circle cx="380.9" cy="106.2" r="4.7" fill="url(#agG)"/><circle cx="410.5" cy="106.7" r="4.7" fill="url(#agG)"/><circle cx="404.7" cy="106.2" r="4.7" fill="url(#agG)"/><circle cx="435.5" cy="106.7" r="4.7" fill="url(#agG)"/><circle cx="429.7" cy="106.2" r="4.7" fill="url(#agG)"/><circle cx="460.5" cy="106.7" r="4.7" fill="url(#agG)"/><circle cx="454.7" cy="106.2" r="4.7" fill="url(#agG)"/><circle cx="485.6" cy="106.7" r="4.7" fill="url(#agG)"/><circle cx="479.8" cy="106.2" r="4.7" fill="url(#agG)"/><circle cx="510.6" cy="106.7" r="4.7" fill="url(#agG)"/><circle cx="504.8" cy="106.2" r="4.7" fill="url(#agG)"/><circle cx="535.6" cy="106.7" r="4.7" fill="url(#agG)"/><circle cx="529.8" cy="106.2" r="4.7" fill="url(#agG)"/><circle cx="396.3" cy="35.3" r="4.3" fill="url(#agG)"/><circle cx="390.7" cy="34.8" r="4.3" fill="url(#agG)"/><circle cx="392.2" cy="38.6" r="3.2" fill="url(#teG)"/><circle cx="397.0" cy="38.8" r="3.2" fill="url(#teG)"/><circle cx="421.3" cy="35.3" r="4.3" fill="url(#agG)"/><circle cx="415.7" cy="34.8" r="4.3" fill="url(#agG)"/><circle cx="417.2" cy="38.6" r="3.2" fill="url(#teG)"/><circle cx="422.0" cy="38.8" r="3.2" fill="url(#teG)"/><circle cx="446.3" cy="35.3" r="4.3" fill="url(#agG)"/><circle cx="440.7" cy="34.8" r="4.3" fill="url(#agG)"/><circle cx="442.2" cy="38.6" r="3.2" fill="url(#teG)"/><circle cx="447.0" cy="38.8" r="3.2" fill="url(#teG)"/><circle cx="471.3" cy="35.3" r="4.3" fill="url(#agG)"/><circle cx="465.7" cy="34.8" r="4.3" fill="url(#agG)"/><circle cx="467.2" cy="38.6" r="3.2" fill="url(#teG)"/><circle cx="472.0" cy="38.8" r="3.2" fill="url(#teG)"/><circle cx="496.3" cy="35.3" r="4.3" fill="url(#agG)"/><circle cx="490.7" cy="34.8" r="4.3" fill="url(#agG)"/><circle cx="492.2" cy="38.6" r="3.2" fill="url(#teG)"/><circle cx="497.0" cy="38.8" r="3.2" fill="url(#teG)"/><circle cx="521.3" cy="35.3" r="4.3" fill="url(#agG)"/><circle cx="515.7" cy="34.8" r="4.3" fill="url(#agG)"/><circle cx="517.2" cy="38.6" r="3.2" fill="url(#teG)"/><circle cx="522.0" cy="38.8" r="3.2" fill="url(#teG)"/><circle cx="393.8" cy="66.4" r="3.2" fill="url(#teG)"/><circle cx="398.6" cy="66.2" r="3.2" fill="url(#teG)"/><circle cx="400.2" cy="70.5" r="4.3" fill="url(#agG)"/><circle cx="394.6" cy="70.0" r="4.3" fill="url(#agG)"/><circle cx="418.6" cy="66.4" r="3.2" fill="url(#teG)"/><circle cx="423.4" cy="66.2" r="3.2" fill="url(#teG)"/><circle cx="425.0" cy="70.5" r="4.3" fill="url(#agG)"/><circle cx="419.4" cy="70.0" r="4.3" fill="url(#agG)"/><circle cx="442.8" cy="66.4" r="3.2" fill="url(#teG)"/><circle cx="447.6" cy="66.2" r="3.2" fill="url(#teG)"/><circle cx="449.2" cy="70.5" r="4.3" fill="url(#agG)"/><circle cx="443.6" cy="70.0" r="4.3" fill="url(#agG)"/><circle cx="468.6" cy="66.4" r="3.2" fill="url(#teG)"/><circle cx="473.4" cy="66.2" r="3.2" fill="url(#teG)"/><circle cx="475.0" cy="70.5" r="4.3" fill="url(#agG)"/><circle cx="469.4" cy="70.0" r="4.3" fill="url(#agG)"/><circle cx="492.8" cy="66.4" r="3.2" fill="url(#teG)"/><circle cx="497.6" cy="66.2" r="3.2" fill="url(#teG)"/><circle cx="499.2" cy="70.5" r="4.3" fill="url(#agG)"/><circle cx="493.6" cy="70.0" r="4.3" fill="url(#agG)"/><circle cx="519.6" cy="66.4" r="3.2" fill="url(#teG)"/><circle cx="524.4" cy="66.2" r="3.2" fill="url(#teG)"/><circle cx="526.0" cy="70.5" r="4.3" fill="url(#agG)"/><circle cx="520.4" cy="70.0" r="4.3" fill="url(#agG)"/><circle cx="396.1" cy="88.5" r="4.3" fill="url(#agG)"/><circle cx="390.5" cy="88.0" r="4.3" fill="url(#agG)"/><circle cx="392.0" cy="91.8" r="3.2" fill="url(#teG)"/><circle cx="396.8" cy="92.0" r="3.2" fill="url(#teG)"/><circle cx="421.1" cy="88.5" r="4.3" fill="url(#agG)"/><circle cx="415.5" cy="88.0" r="4.3" fill="url(#agG)"/><circle cx="417.0" cy="91.8" r="3.2" fill="url(#teG)"/><circle cx="421.8" cy="92.0" r="3.2" fill="url(#teG)"/><circle cx="446.2" cy="88.5" r="4.3" fill="url(#agG)"/><circle cx="440.6" cy="88.0" r="4.3" fill="url(#agG)"/><circle cx="442.1" cy="91.8" r="3.2" fill="url(#teG)"/><circle cx="446.9" cy="92.0" r="3.2" fill="url(#teG)"/><circle cx="471.2" cy="88.5" r="4.3" fill="url(#agG)"/><circle cx="465.6" cy="88.0" r="4.3" fill="url(#agG)"/><circle cx="467.1" cy="91.8" r="3.2" fill="url(#teG)"/><circle cx="471.9" cy="92.0" r="3.2" fill="url(#teG)"/><circle cx="496.2" cy="88.5" r="4.3" fill="url(#agG)"/><circle cx="490.6" cy="88.0" r="4.3" fill="url(#agG)"/><circle cx="492.1" cy="91.8" r="3.2" fill="url(#teG)"/><circle cx="496.9" cy="92.0" r="3.2" fill="url(#teG)"/><circle cx="522.5" cy="88.5" r="4.3" fill="url(#agG)"/><circle cx="516.9" cy="88.0" r="4.3" fill="url(#agG)"/><circle cx="518.4" cy="91.8" r="3.2" fill="url(#teG)"/><circle cx="523.2" cy="92.0" r="3.2" fill="url(#teG)"/><circle cx="394.7" cy="120.1" r="3.2" fill="url(#teG)"/><circle cx="399.5" cy="119.9" r="3.2" fill="url(#teG)"/><circle cx="401.1" cy="124.2" r="4.3" fill="url(#agG)"/><circle cx="395.5" cy="123.7" r="4.3" fill="url(#agG)"/><circle cx="419.8" cy="120.1" r="3.2" fill="url(#teG)"/><circle cx="424.6" cy="119.9" r="3.2" fill="url(#teG)"/><circle cx="426.2" cy="124.2" r="4.3" fill="url(#agG)"/><circle cx="420.6" cy="123.7" r="4.3" fill="url(#agG)"/><circle cx="444.8" cy="120.1" r="3.2" fill="url(#teG)"/><circle cx="449.6" cy="119.9" r="3.2" fill="url(#teG)"/><circle cx="451.2" cy="124.2" r="4.3" fill="url(#agG)"/><circle cx="445.6" cy="123.7" r="4.3" fill="url(#agG)"/><circle cx="471.1" cy="120.1" r="3.2" fill="url(#teG)"/><circle cx="475.9" cy="119.9" r="3.2" fill="url(#teG)"/><circle cx="477.5" cy="124.2" r="4.3" fill="url(#agG)"/><circle cx="471.9" cy="123.7" r="4.3" fill="url(#agG)"/><circle cx="494.9" cy="120.1" r="3.2" fill="url(#teG)"/><circle cx="499.7" cy="119.9" r="3.2" fill="url(#teG)"/><circle cx="501.3" cy="124.2" r="4.3" fill="url(#agG)"/><circle cx="495.7" cy="123.7" r="4.3" fill="url(#agG)"/><circle cx="519.9" cy="120.1" r="3.2" fill="url(#teG)"/><circle cx="524.7" cy="119.9" r="3.2" fill="url(#teG)"/><circle cx="526.3" cy="124.2" r="4.3" fill="url(#agG)"/><circle cx="520.7" cy="123.7" r="4.3" fill="url(#agG)"/><text x="579" y="25.4" font-size="15.4" class="b" fill="#000" textLength="7" lengthAdjust="spacingAndGlyphs">II</text><text x="591.6" y="24.4" font-size="12.4" class="b" fill="#cdc800">[021]</text><text x="621.6" y="26.6" font-size="8" class="b i" fill="#cdc800">OD</text><path d="M639.4,19.6h8.8v-2.6l8.2,5.3l-8.2,5.3v-2.6h-8.8z" fill="#f01010" stroke="#400" stroke-width="0.5"/><text x="660" y="24.4" font-size="12.4" class="b" fill="#c00000">[021]</text><text x="690.4" y="26.6" font-size="8" class="b i" fill="#c00000">RD</text><path d="M571.0,72.0L596.0,72.0L621.0,67.5L648.3,71.0" stroke="#1672e6" stroke-width="1.2" fill="none" stroke-linejoin="round" stroke-linecap="round"/><path d="M673.2,69.5L698.0,70.5" stroke="#1672e6" stroke-width="1.2" fill="none" stroke-linejoin="round" stroke-linecap="round"/><path d="M568.6,87.0L593.5,87.0L622.0,88.5" stroke="#1672e6" stroke-width="1.2" fill="none" stroke-linejoin="round" stroke-linecap="round"/><path d="M649.5,89.0L670.5,86.0L702.5,87.0" stroke="#1672e6" stroke-width="1.2" fill="none" stroke-linejoin="round" stroke-linecap="round"/><path d="M571.6,72.0L569.4,87.0" stroke="#1672e6" stroke-width="1.4" fill="none" stroke-linejoin="round" stroke-linecap="round"/><path d="M597.0,72.0L594.6,87.0" stroke="#1672e6" stroke-width="1.4" fill="none" stroke-linejoin="round" stroke-linecap="round"/><path d="M674.2,70.0L672.0,86.0" stroke="#1672e6" stroke-width="1.3" fill="none" stroke-linejoin="round" stroke-linecap="round"/><path d="M699.0,70.0L703.5,87.0" stroke="#1672e6" stroke-width="1.3" fill="none" stroke-linejoin="round" stroke-linecap="round"/><path d="M621.6,66.0L622.6,89.6L649.8,90.4L648.6,69.0" stroke="#1672e6" stroke-width="4.2" fill="none" stroke-linejoin="round" stroke-linecap="round"/><path d="M568.6,36.2L593.5,36.2L616.0,36.8" stroke="#cc0a0a" stroke-width="1.6" fill="none" stroke-linejoin="round" stroke-linecap="round"/><path d="M616.0,36.8L639.0,37.2" stroke="#cc0a0a" stroke-width="1.2" fill="none" stroke-linejoin="round" stroke-linecap="round"/><path d="M669.5,36.0L693.0,36.0" stroke="#cc0a0a" stroke-width="1.6" fill="none" stroke-linejoin="round" stroke-linecap="round"/><path d="M571.0,68.4L596.0,68.2L621.0,64.0" stroke="#cc0a0a" stroke-width="1.6" fill="none" stroke-linejoin="round" stroke-linecap="round"/><path d="M648.3,68.0L673.2,68.0L698.0,68.0" stroke="#cc0a0a" stroke-width="1.6" fill="none" stroke-linejoin="round" stroke-linecap="round"/><path d="M568.6,88.6L593.5,89.0L622.0,91.2L649.5,91.8L670.5,87.6L702.5,88.4" stroke="#cc0a0a" stroke-width="1.6" fill="none" stroke-linejoin="round" stroke-linecap="round"/><path d="M572.4,122.0L598.5,122.0L623.4,117.0L653.3,114.5L674.4,112.0L708.0,113.3" stroke="#cc0a0a" stroke-width="1.6" fill="none" stroke-linejoin="round" stroke-linecap="round"/><path d="M568.6,36.2L571.0,68.4" stroke="#cc0a0a" stroke-width="1.6" fill="none" stroke-linejoin="round" stroke-linecap="round"/><path d="M593.5,36.2L596.0,68.2" stroke="#cc0a0a" stroke-width="1.6" fill="none" stroke-linejoin="round" stroke-linecap="round"/><path d="M693.0,36.0L698.0,68.0" stroke="#cc0a0a" stroke-width="1.6" fill="none" stroke-linejoin="round" stroke-linecap="round"/><path d="M616.0,36.8L619.5,52.0" stroke="#cc0a0a" stroke-width="1.6" fill="none" stroke-linejoin="round" stroke-linecap="round"/><path d="M568.6,88.6L572.4,122.0" stroke="#cc0a0a" stroke-width="1.6" fill="none" stroke-linejoin="round" stroke-linecap="round"/><path d="M593.5,89.0L598.5,122.0" stroke="#cc0a0a" stroke-width="1.6" fill="none" stroke-linejoin="round" stroke-linecap="round"/><path d="M622.0,91.2L623.4,117.0" stroke="#cc0a0a" stroke-width="1.6" fill="none" stroke-linejoin="round" stroke-linecap="round"/><path d="M649.5,91.8L653.3,114.5" stroke="#cc0a0a" stroke-width="1.6" fill="none" stroke-linejoin="round" stroke-linecap="round"/><path d="M670.5,87.6L674.4,112.0" stroke="#cc0a0a" stroke-width="1.6" fill="none" stroke-linejoin="round" stroke-linecap="round"/><path d="M702.5,88.4L708.0,113.3" stroke="#cc0a0a" stroke-width="1.6" fill="none" stroke-linejoin="round" stroke-linecap="round"/><path d="M656,35.2L675,36 M647.6,47V65.6H674.2V37" stroke="#f01010" stroke-width="4.3" fill="none" stroke-linejoin="miter"/><circle cx="583.6" cy="78.6" r="4.4" fill="#fff" stroke="#000" stroke-width="1.1"/><circle cx="611.0" cy="78.6" r="4.4" fill="#fff" stroke="#000" stroke-width="1.1"/><circle cx="609.7" cy="102.2" r="4.4" fill="#fff" stroke="#000" stroke-width="1.1"/><circle cx="560.3" cy="53.9" r="4.7" fill="url(#agG)"/><circle cx="554.5" cy="53.4" r="4.7" fill="url(#agG)"/><circle cx="585.2" cy="53.9" r="4.7" fill="url(#agG)"/><circle cx="579.4" cy="53.4" r="4.7" fill="url(#agG)"/><circle cx="611.4" cy="54.1" r="4.7" fill="url(#agG)"/><circle cx="605.6" cy="53.6" r="4.7" fill="url(#agG)"/><circle cx="686.0" cy="51.5" r="4.7" fill="url(#agG)"/><circle cx="680.2" cy="51.0" r="4.7" fill="url(#agG)"/><circle cx="540.5" cy="53.8" r="4.0" fill="url(#agG)"/><circle cx="540.5" cy="107.6" r="4.0" fill="url(#agG)"/><circle cx="560.3" cy="106.3" r="4.7" fill="url(#agG)"/><circle cx="554.5" cy="105.8" r="4.7" fill="url(#agG)"/><circle cx="585.2" cy="106.3" r="4.7" fill="url(#agG)"/><circle cx="579.4" cy="105.8" r="4.7" fill="url(#agG)"/><circle cx="641.2" cy="103.7" r="4.7" fill="url(#agG)"/><circle cx="635.4" cy="103.2" r="4.7" fill="url(#agG)"/><circle cx="694.8" cy="101.1" r="4.7" fill="url(#agG)"/><circle cx="689.0" cy="100.6" r="4.7" fill="url(#agG)"/><circle cx="643.7" cy="128.7" r="4.7" fill="url(#agG)"/><circle cx="637.9" cy="128.2" r="4.7" fill="url(#agG)"/><circle cx="697.2" cy="126.1" r="4.7" fill="url(#agG)"/><circle cx="691.4" cy="125.6" r="4.7" fill="url(#agG)"/><circle cx="638.7" cy="77.7" r="4.7" fill="url(#agG)"/><circle cx="632.9" cy="77.2" r="4.7" fill="url(#agG)"/><circle cx="689.8" cy="76.3" r="4.7" fill="url(#agG)"/><circle cx="684.0" cy="75.8" r="4.7" fill="url(#agG)"/><circle cx="570.9" cy="35.7" r="4.3" fill="url(#agG)"/><circle cx="565.3" cy="35.2" r="4.3" fill="url(#agG)"/><circle cx="566.8" cy="39.0" r="3.2" fill="url(#teG)"/><circle cx="571.6" cy="39.2" r="3.2" fill="url(#teG)"/><circle cx="595.8" cy="35.7" r="4.3" fill="url(#agG)"/><circle cx="590.2" cy="35.2" r="4.3" fill="url(#agG)"/><circle cx="591.7" cy="39.0" r="3.2" fill="url(#teG)"/><circle cx="596.5" cy="39.2" r="3.2" fill="url(#teG)"/><circle cx="618.3" cy="36.3" r="4.3" fill="url(#agG)"/><circle cx="612.7" cy="35.8" r="4.3" fill="url(#agG)"/><circle cx="614.2" cy="39.6" r="3.2" fill="url(#teG)"/><circle cx="619.0" cy="39.8" r="3.2" fill="url(#teG)"/><circle cx="640.4" cy="35.2" r="3.6" fill="url(#agG)"/><circle cx="671.8" cy="35.5" r="4.3" fill="url(#agG)"/><circle cx="666.2" cy="35.0" r="4.3" fill="url(#agG)"/><circle cx="667.7" cy="38.8" r="3.2" fill="url(#teG)"/><circle cx="672.5" cy="39.0" r="3.2" fill="url(#teG)"/><circle cx="695.3" cy="35.5" r="4.3" fill="url(#agG)"/><circle cx="689.7" cy="35.0" r="4.3" fill="url(#agG)"/><circle cx="691.2" cy="38.8" r="3.2" fill="url(#teG)"/><circle cx="696.0" cy="39.0" r="3.2" fill="url(#teG)"/><circle cx="568.2" cy="66.2" r="3.2" fill="url(#teG)"/><circle cx="573.0" cy="66.0" r="3.2" fill="url(#teG)"/><circle cx="574.6" cy="70.3" r="4.3" fill="url(#agG)"/><circle cx="569.0" cy="69.8" r="4.3" fill="url(#agG)"/><circle cx="593.2" cy="66.0" r="3.2" fill="url(#teG)"/><circle cx="598.0" cy="65.8" r="3.2" fill="url(#teG)"/><circle cx="599.6" cy="70.1" r="4.3" fill="url(#agG)"/><circle cx="594.0" cy="69.6" r="4.3" fill="url(#agG)"/><circle cx="618.2" cy="61.8" r="3.2" fill="url(#teG)"/><circle cx="623.0" cy="61.6" r="3.2" fill="url(#teG)"/><circle cx="624.6" cy="65.9" r="4.3" fill="url(#agG)"/><circle cx="619.0" cy="65.4" r="4.3" fill="url(#agG)"/><circle cx="645.5" cy="65.8" r="3.2" fill="url(#teG)"/><circle cx="650.3" cy="65.6" r="3.2" fill="url(#teG)"/><circle cx="651.9" cy="69.9" r="4.3" fill="url(#agG)"/><circle cx="646.3" cy="69.4" r="4.3" fill="url(#agG)"/><circle cx="670.4" cy="65.8" r="3.2" fill="url(#teG)"/><circle cx="675.2" cy="65.6" r="3.2" fill="url(#teG)"/><circle cx="676.8" cy="69.9" r="4.3" fill="url(#agG)"/><circle cx="671.2" cy="69.4" r="4.3" fill="url(#agG)"/><circle cx="695.2" cy="65.8" r="3.2" fill="url(#teG)"/><circle cx="700.0" cy="65.6" r="3.2" fill="url(#teG)"/><circle cx="701.6" cy="69.9" r="4.3" fill="url(#agG)"/><circle cx="696.0" cy="69.4" r="4.3" fill="url(#agG)"/><circle cx="570.9" cy="88.1" r="4.3" fill="url(#agG)"/><circle cx="565.3" cy="87.6" r="4.3" fill="url(#agG)"/><circle cx="566.8" cy="91.4" r="3.2" fill="url(#teG)"/><circle cx="571.6" cy="91.6" r="3.2" fill="url(#teG)"/><circle cx="595.8" cy="88.5" r="4.3" fill="url(#agG)"/><circle cx="590.2" cy="88.0" r="4.3" fill="url(#agG)"/><circle cx="591.7" cy="91.8" r="3.2" fill="url(#teG)"/><circle cx="596.5" cy="92.0" r="3.2" fill="url(#teG)"/><circle cx="624.3" cy="90.7" r="4.3" fill="url(#agG)"/><circle cx="618.7" cy="90.2" r="4.3" fill="url(#agG)"/><circle cx="620.2" cy="94.0" r="3.2" fill="url(#teG)"/><circle cx="625.0" cy="94.2" r="3.2" fill="url(#teG)"/><circle cx="651.8" cy="91.3" r="4.3" fill="url(#agG)"/><circle cx="646.2" cy="90.8" r="4.3" fill="url(#agG)"/><circle cx="647.7" cy="94.6" r="3.2" fill="url(#teG)"/><circle cx="652.5" cy="94.8" r="3.2" fill="url(#teG)"/><circle cx="672.8" cy="87.1" r="4.3" fill="url(#agG)"/><circle cx="667.2" cy="86.6" r="4.3" fill="url(#agG)"/><circle cx="668.7" cy="90.4" r="3.2" fill="url(#teG)"/><circle cx="673.5" cy="90.6" r="3.2" fill="url(#teG)"/><circle cx="704.8" cy="87.9" r="4.3" fill="url(#agG)"/><circle cx="699.2" cy="87.4" r="4.3" fill="url(#agG)"/><circle cx="700.7" cy="91.2" r="3.2" fill="url(#teG)"/><circle cx="705.5" cy="91.4" r="3.2" fill="url(#teG)"/><circle cx="569.6" cy="119.8" r="3.2" fill="url(#teG)"/><circle cx="574.4" cy="119.6" r="3.2" fill="url(#teG)"/><circle cx="576.0" cy="123.9" r="4.3" fill="url(#agG)"/><circle cx="570.4" cy="123.4" r="4.3" fill="url(#agG)"/><circle cx="595.7" cy="119.8" r="3.2" fill="url(#teG)"/><circle cx="600.5" cy="119.6" r="3.2" fill="url(#teG)"/><circle cx="602.1" cy="123.9" r="4.3" fill="url(#agG)"/><circle cx="596.5" cy="123.4" r="4.3" fill="url(#agG)"/><circle cx="620.6" cy="114.8" r="3.2" fill="url(#teG)"/><circle cx="625.4" cy="114.6" r="3.2" fill="url(#teG)"/><circle cx="627.0" cy="118.9" r="4.3" fill="url(#agG)"/><circle cx="621.4" cy="118.4" r="4.3" fill="url(#agG)"/><circle cx="650.5" cy="112.3" r="3.2" fill="url(#teG)"/><circle cx="655.3" cy="112.1" r="3.2" fill="url(#teG)"/><circle cx="656.9" cy="116.4" r="4.3" fill="url(#agG)"/><circle cx="651.3" cy="115.9" r="4.3" fill="url(#agG)"/><circle cx="671.6" cy="109.8" r="3.2" fill="url(#teG)"/><circle cx="676.4" cy="109.6" r="3.2" fill="url(#teG)"/><circle cx="678.0" cy="113.9" r="4.3" fill="url(#agG)"/><circle cx="672.4" cy="113.4" r="4.3" fill="url(#agG)"/><circle cx="705.2" cy="111.1" r="3.2" fill="url(#teG)"/><circle cx="710.0" cy="110.9" r="3.2" fill="url(#teG)"/><circle cx="711.6" cy="115.2" r="4.3" fill="url(#agG)"/><circle cx="706.0" cy="114.7" r="4.3" fill="url(#agG)"/><g transform="translate(636.4,51.6) rotate(-40)"><rect x="-23" y="-7" width="46" height="13" fill="#fff"/><text x="0" y="3.6" text-anchor="middle" font-size="11.2" class="b" fill="#000">hopping</text></g><path d="M606.8,52.6C596,46.5 582.5,55 581.4,69.8" stroke="#000" stroke-width="1.8" fill="none"/><path d="M581,75l-3.4,-6.6l6.8,0.5z" fill="#000"/><path d="M660.8,52.6C650,46.5 636.2,55 635.2,69.8" stroke="#000" stroke-width="1.8" fill="none"/><path d="M634.8,75l-3.4,-6.6l6.8,0.5z" fill="#000"/><text x="582.4" y="151.2" font-size="15.6" class="b" fill="#000" textLength="12" lengthAdjust="spacingAndGlyphs">III</text><text x="603.6" y="151.2" font-size="12.4" class="b" fill="#c00000">[021]</text><text x="633.8" y="153" font-size="8" class="b i" fill="#c00000">RD</text><path d="M567.0,161.8L592.0,166.0" stroke="#1672e6" stroke-width="1.3" fill="none" stroke-linejoin="round" stroke-linecap="round"/><path d="M565.7,188.1L592.0,192.3" stroke="#1672e6" stroke-width="1.3" fill="none" stroke-linejoin="round" stroke-linecap="round"/><path d="M567.0,214.4L592.0,218.6" stroke="#1672e6" stroke-width="1.3" fill="none" stroke-linejoin="round" stroke-linecap="round"/><path d="M567.0,240.7L591.4,246.2" stroke="#1672e6" stroke-width="1.3" fill="none" stroke-linejoin="round" stroke-linecap="round"/><path d="M569.2,161.8L569.2,240.7" stroke="#1672e6" stroke-width="1.4" fill="none" stroke-linejoin="round" stroke-linecap="round"/><path d="M589.8,166.0L589.2,246.2" stroke="#1672e6" stroke-width="1.4" fill="none" stroke-linejoin="round" stroke-linecap="round"/><path d="M626.6,161.8L648.7,166.0" stroke="#1672e6" stroke-width="1.3" fill="none" stroke-linejoin="round" stroke-linecap="round"/><path d="M626.6,188.1L648.7,192.3" stroke="#1672e6" stroke-width="1.3" fill="none" stroke-linejoin="round" stroke-linecap="round"/><path d="M626.6,214.4L648.7,218.6" stroke="#1672e6" stroke-width="1.3" fill="none" stroke-linejoin="round" stroke-linecap="round"/><path d="M626.6,240.7L647.3,246.2" stroke="#1672e6" stroke-width="1.3" fill="none" stroke-linejoin="round" stroke-linecap="round"/><path d="M628.8,161.8L628.8,240.7" stroke="#1672e6" stroke-width="1.4" fill="none" stroke-linejoin="round" stroke-linecap="round"/><path d="M646.5,166.0L645.1,246.2" stroke="#1672e6" stroke-width="1.4" fill="none" stroke-linejoin="round" stroke-linecap="round"/><path d="M532.5,164.6L567.0,161.8" stroke="#cc0a0a" stroke-width="1.6" fill="none" stroke-linejoin="round" stroke-linecap="round"/><path d="M531.0,190.9L565.7,188.1" stroke="#cc0a0a" stroke-width="1.6" fill="none" stroke-linejoin="round" stroke-linecap="round"/><path d="M531.0,218.6L567.0,214.4" stroke="#cc0a0a" stroke-width="1.6" fill="none" stroke-linejoin="round" stroke-linecap="round"/><path d="M531.0,244.9L567.0,240.7" stroke="#cc0a0a" stroke-width="1.6" fill="none" stroke-linejoin="round" stroke-linecap="round"/><path d="M592.0,166.0L626.6,161.8" stroke="#cc0a0a" stroke-width="1.6" fill="none" stroke-linejoin="round" stroke-linecap="round"/><path d="M592.0,192.3L626.6,188.1" stroke="#cc0a0a" stroke-width="1.6" fill="none" stroke-linejoin="round" stroke-linecap="round"/><path d="M592.0,218.6L626.6,214.4" stroke="#cc0a0a" stroke-width="1.6" fill="none" stroke-linejoin="round" stroke-linecap="round"/><path d="M591.4,246.2L626.6,240.7" stroke="#cc0a0a" stroke-width="1.6" fill="none" stroke-linejoin="round" stroke-linecap="round"/><path d="M648.7,166.0L684.7,161.8" stroke="#cc0a0a" stroke-width="1.6" fill="none" stroke-linejoin="round" stroke-linecap="round"/><path d="M648.7,192.3L684.7,188.1" stroke="#cc0a0a" stroke-width="1.6" fill="none" stroke-linejoin="round" stroke-linecap="round"/><path d="M648.7,218.6L684.7,214.4" stroke="#cc0a0a" stroke-width="1.6" fill="none" stroke-linejoin="round" stroke-linecap="round"/><path d="M647.3,246.2L683.3,242.1" stroke="#cc0a0a" stroke-width="1.6" fill="none" stroke-linejoin="round" stroke-linecap="round"/><path d="M532.5,164.6L531.0,190.9L531.0,218.6L531.0,244.9" stroke="#cc0a0a" stroke-width="1.6" fill="none" stroke-linejoin="round" stroke-linecap="round"/><path d="M567.0,161.8L565.7,188.1L567.0,214.4L567.0,240.7" stroke="#cc0a0a" stroke-width="1.6" fill="none" stroke-linejoin="round" stroke-linecap="round"/><path d="M592.0,166.0L592.0,192.3L592.0,218.6L591.4,246.2" stroke="#cc0a0a" stroke-width="1.6" fill="none" stroke-linejoin="round" stroke-linecap="round"/><path d="M626.6,161.8L626.6,188.1L626.6,214.4L626.6,240.7" stroke="#cc0a0a" stroke-width="1.6" fill="none" stroke-linejoin="round" stroke-linecap="round"/><path d="M648.7,166.0L648.7,192.3L648.7,218.6L647.3,246.2" stroke="#cc0a0a" stroke-width="1.6" fill="none" stroke-linejoin="round" stroke-linecap="round"/><path d="M684.7,161.8L684.7,188.1L684.7,214.4L683.3,242.1" stroke="#cc0a0a" stroke-width="1.6" fill="none" stroke-linejoin="round" stroke-linecap="round"/><circle cx="579.0" cy="175.7" r="4.3" fill="#fff" stroke="#000" stroke-width="1.1"/><circle cx="579.5" cy="203.3" r="4.3" fill="#fff" stroke="#000" stroke-width="1.1"/><circle cx="579.5" cy="229.6" r="4.3" fill="#fff" stroke="#000" stroke-width="1.1"/><circle cx="639.0" cy="175.7" r="4.3" fill="#fff" stroke="#000" stroke-width="1.1"/><circle cx="637.6" cy="204.2" r="4.3" fill="#fff" stroke="#000" stroke-width="1.1"/><circle cx="636.2" cy="230.2" r="4.3" fill="#fff" stroke="#000" stroke-width="1.1"/><circle cx="549.4" cy="174.1" r="4.7" fill="url(#agG)"/><circle cx="548.6" cy="179.9" r="4.7" fill="url(#agG)"/><circle cx="549.4" cy="200.4" r="4.7" fill="url(#agG)"/><circle cx="548.6" cy="206.2" r="4.7" fill="url(#agG)"/><circle cx="549.4" cy="226.7" r="4.7" fill="url(#agG)"/><circle cx="548.6" cy="232.5" r="4.7" fill="url(#agG)"/><circle cx="610.4" cy="174.1" r="4.7" fill="url(#agG)"/><circle cx="609.6" cy="179.9" r="4.7" fill="url(#agG)"/><circle cx="610.4" cy="200.4" r="4.7" fill="url(#agG)"/><circle cx="609.6" cy="206.2" r="4.7" fill="url(#agG)"/><circle cx="610.4" cy="226.7" r="4.7" fill="url(#agG)"/><circle cx="609.6" cy="232.5" r="4.7" fill="url(#agG)"/><circle cx="667.1" cy="174.1" r="4.7" fill="url(#agG)"/><circle cx="666.3" cy="179.9" r="4.7" fill="url(#agG)"/><circle cx="667.1" cy="200.4" r="4.7" fill="url(#agG)"/><circle cx="666.3" cy="206.2" r="4.7" fill="url(#agG)"/><circle cx="665.7" cy="228.1" r="4.7" fill="url(#agG)"/><circle cx="664.9" cy="233.9" r="4.7" fill="url(#agG)"/><circle cx="535.3" cy="161.2" r="3.2" fill="url(#teG)"/><circle cx="531.9" cy="161.6" r="4.3" fill="url(#agG)"/><circle cx="531.1" cy="167.6" r="4.3" fill="url(#agG)"/><circle cx="535.1" cy="168.2" r="3.1" fill="url(#teG)"/><circle cx="533.8" cy="187.5" r="3.2" fill="url(#teG)"/><circle cx="530.4" cy="187.9" r="4.3" fill="url(#agG)"/><circle cx="529.6" cy="193.9" r="4.3" fill="url(#agG)"/><circle cx="533.6" cy="194.5" r="3.1" fill="url(#teG)"/><circle cx="533.8" cy="215.2" r="3.2" fill="url(#teG)"/><circle cx="530.4" cy="215.6" r="4.3" fill="url(#agG)"/><circle cx="529.6" cy="221.6" r="4.3" fill="url(#agG)"/><circle cx="533.6" cy="222.2" r="3.1" fill="url(#teG)"/><circle cx="533.8" cy="241.5" r="3.2" fill="url(#teG)"/><circle cx="530.4" cy="241.9" r="4.3" fill="url(#agG)"/><circle cx="529.6" cy="247.9" r="4.3" fill="url(#agG)"/><circle cx="533.6" cy="248.5" r="3.1" fill="url(#teG)"/><circle cx="564.4" cy="165.4" r="3.2" fill="url(#teG)"/><circle cx="568.4" cy="158.3" r="4.3" fill="url(#agG)"/><circle cx="567.6" cy="164.3" r="4.3" fill="url(#agG)"/><circle cx="564.0" cy="159.4" r="3.1" fill="url(#teG)"/><circle cx="563.1" cy="191.7" r="3.2" fill="url(#teG)"/><circle cx="567.1" cy="184.6" r="4.3" fill="url(#agG)"/><circle cx="566.3" cy="190.6" r="4.3" fill="url(#agG)"/><circle cx="562.7" cy="185.7" r="3.1" fill="url(#teG)"/><circle cx="564.4" cy="218.0" r="3.2" fill="url(#teG)"/><circle cx="568.4" cy="210.9" r="4.3" fill="url(#agG)"/><circle cx="567.6" cy="216.9" r="4.3" fill="url(#agG)"/><circle cx="564.0" cy="212.0" r="3.1" fill="url(#teG)"/><circle cx="564.4" cy="244.3" r="3.2" fill="url(#teG)"/><circle cx="568.4" cy="237.2" r="4.3" fill="url(#agG)"/><circle cx="567.6" cy="243.2" r="4.3" fill="url(#agG)"/><circle cx="564.0" cy="238.3" r="3.1" fill="url(#teG)"/><circle cx="594.8" cy="162.6" r="3.2" fill="url(#teG)"/><circle cx="591.4" cy="163.0" r="4.3" fill="url(#agG)"/><circle cx="590.6" cy="169.0" r="4.3" fill="url(#agG)"/><circle cx="594.6" cy="169.6" r="3.1" fill="url(#teG)"/><circle cx="594.8" cy="188.9" r="3.2" fill="url(#teG)"/><circle cx="591.4" cy="189.3" r="4.3" fill="url(#agG)"/><circle cx="590.6" cy="195.3" r="4.3" fill="url(#agG)"/><circle cx="594.6" cy="195.9" r="3.1" fill="url(#teG)"/><circle cx="594.8" cy="215.2" r="3.2" fill="url(#teG)"/><circle cx="591.4" cy="215.6" r="4.3" fill="url(#agG)"/><circle cx="590.6" cy="221.6" r="4.3" fill="url(#agG)"/><circle cx="594.6" cy="222.2" r="3.1" fill="url(#teG)"/><circle cx="594.2" cy="242.8" r="3.2" fill="url(#teG)"/><circle cx="590.8" cy="243.2" r="4.3" fill="url(#agG)"/><circle cx="590.0" cy="249.2" r="4.3" fill="url(#agG)"/><circle cx="594.0" cy="249.8" r="3.1" fill="url(#teG)"/><circle cx="624.0" cy="165.4" r="3.2" fill="url(#teG)"/><circle cx="628.0" cy="158.3" r="4.3" fill="url(#agG)"/><circle cx="627.2" cy="164.3" r="4.3" fill="url(#agG)"/><circle cx="623.6" cy="159.4" r="3.1" fill="url(#teG)"/><circle cx="624.0" cy="191.7" r="3.2" fill="url(#teG)"/><circle cx="628.0" cy="184.6" r="4.3" fill="url(#agG)"/><circle cx="627.2" cy="190.6" r="4.3" fill="url(#agG)"/><circle cx="623.6" cy="185.7" r="3.1" fill="url(#teG)"/><circle cx="624.0" cy="218.0" r="3.2" fill="url(#teG)"/><circle cx="628.0" cy="210.9" r="4.3" fill="url(#agG)"/><circle cx="627.2" cy="216.9" r="4.3" fill="url(#agG)"/><circle cx="623.6" cy="212.0" r="3.1" fill="url(#teG)"/><circle cx="624.0" cy="244.3" r="3.2" fill="url(#teG)"/><circle cx="628.0" cy="237.2" r="4.3" fill="url(#agG)"/><circle cx="627.2" cy="243.2" r="4.3" fill="url(#agG)"/><circle cx="623.6" cy="238.3" r="3.1" fill="url(#teG)"/><circle cx="651.5" cy="162.6" r="3.2" fill="url(#teG)"/><circle cx="648.1" cy="163.0" r="4.3" fill="url(#agG)"/><circle cx="647.3" cy="169.0" r="4.3" fill="url(#agG)"/><circle cx="651.3" cy="169.6" r="3.1" fill="url(#teG)"/><circle cx="651.5" cy="188.9" r="3.2" fill="url(#teG)"/><circle cx="648.1" cy="189.3" r="4.3" fill="url(#agG)"/><circle cx="647.3" cy="195.3" r="4.3" fill="url(#agG)"/><circle cx="651.3" cy="195.9" r="3.1" fill="url(#teG)"/><circle cx="651.5" cy="215.2" r="3.2" fill="url(#teG)"/><circle cx="648.1" cy="215.6" r="4.3" fill="url(#agG)"/><circle cx="647.3" cy="221.6" r="4.3" fill="url(#agG)"/><circle cx="651.3" cy="222.2" r="3.1" fill="url(#teG)"/><circle cx="650.1" cy="242.8" r="3.2" fill="url(#teG)"/><circle cx="646.7" cy="243.2" r="4.3" fill="url(#agG)"/><circle cx="645.9" cy="249.2" r="4.3" fill="url(#agG)"/><circle cx="649.9" cy="249.8" r="3.1" fill="url(#teG)"/><circle cx="682.1" cy="165.4" r="3.2" fill="url(#teG)"/><circle cx="686.1" cy="158.3" r="4.3" fill="url(#agG)"/><circle cx="685.3" cy="164.3" r="4.3" fill="url(#agG)"/><circle cx="681.7" cy="159.4" r="3.1" fill="url(#teG)"/><circle cx="682.1" cy="191.7" r="3.2" fill="url(#teG)"/><circle cx="686.1" cy="184.6" r="4.3" fill="url(#agG)"/><circle cx="685.3" cy="190.6" r="4.3" fill="url(#agG)"/><circle cx="681.7" cy="185.7" r="3.1" fill="url(#teG)"/><circle cx="682.1" cy="218.0" r="3.2" fill="url(#teG)"/><circle cx="686.1" cy="210.9" r="4.3" fill="url(#agG)"/><circle cx="685.3" cy="216.9" r="4.3" fill="url(#agG)"/><circle cx="681.7" cy="212.0" r="3.1" fill="url(#teG)"/><circle cx="680.7" cy="245.7" r="3.2" fill="url(#teG)"/><circle cx="684.7" cy="238.6" r="4.3" fill="url(#agG)"/><circle cx="683.9" cy="244.6" r="4.3" fill="url(#agG)"/><circle cx="680.3" cy="239.7" r="3.1" fill="url(#teG)"/><circle cx="397.1" cy="191.5" r="5.8" fill="url(#agG)"/><text x="410.6" y="194.6" font-size="12.4" fill="#000080">Ag</text><circle cx="396.9" cy="212.5" r="5.8" fill="url(#teG)"/><text x="411" y="216.4" font-size="12.4" fill="#ff2020">Te</text><circle cx="396.3" cy="235.0" r="5.4" fill="#fff" stroke="#000" stroke-width="1.1"/><text x="410" y="239.8" font-size="11.8" fill="#000" textLength="58" lengthAdjust="spacingAndGlyphs">Vacancies</text></g><g id="panel-c"><text x="9.4" y="278" font-size="22" class="b" fill="#000">c</text><g clip-path="url(#clipC)"><rect x="33" y="268" width="150" height="150" fill="#777"/><rect x="-20" y="200" width="300" height="300" fill="url(#patH)"/><clipPath id="clipRD"><path d="M183,262L165,266L134,312L104,345L81,384L73,418L183,418Z"/></clipPath><g clip-path="url(#clipRD)"><rect x="20" y="250" width="200" height="200" fill="#7c7c7c"/><rect x="-20" y="200" width="300" height="300" fill="url(#patV)"/></g><path d="M156.3,269.2L173.2,270.9L156.3,271.0ZM154.1,272.5L174.6,274.2L154.1,274.3ZM151.9,275.8L170.3,277.5L151.9,277.6ZM149.6,279.1L170.9,280.8L149.6,280.9ZM147.4,282.4L168.9,284.1L147.4,284.2ZM145.2,285.7L160.0,287.4L145.2,287.5ZM143.0,289.0L157.1,290.7L143.0,290.8ZM140.7,292.3L164.8,294.0L140.7,294.1ZM138.5,295.6L155.6,297.3L138.5,297.4ZM136.3,298.9L153.1,300.6L136.3,300.7ZM134.1,302.2L160.0,303.9L134.1,304.0ZM131.8,305.5L151.5,307.2L131.8,307.3ZM129.6,308.8L153.7,310.5L129.6,310.6ZM127.2,312.1L146.9,313.8L127.2,313.9ZM124.2,315.4L145.9,317.1L124.2,317.2ZM121.2,318.7L137.0,320.4L121.2,320.5ZM118.2,322.0L139.8,323.7L118.2,323.8ZM115.2,325.3L139.6,327.0L115.2,327.1ZM112.2,328.6L132.5,330.3L112.2,330.4ZM109.2,331.9L132.1,333.6L109.2,333.7ZM106.2,335.2L128.2,336.9L106.2,337.0ZM103.2,338.5L118.0,340.2L103.2,340.3ZM100.2,341.8L123.3,343.5L100.2,343.6ZM97.5,345.1L118.6,346.8L97.5,346.9ZM95.5,348.4L113.1,350.1L95.5,350.2ZM93.6,351.7L107.9,353.4L93.6,353.5ZM91.6,355.0L116.0,356.7L91.6,356.8ZM89.7,358.3L109.4,360.0L89.7,360.1ZM87.7,361.6L110.4,363.3L87.7,363.4ZM85.8,364.9L110.3,366.6L85.8,366.7ZM83.8,368.2L106.4,369.9L83.8,370.0ZM81.9,371.5L107.0,373.2L81.9,373.3ZM80.0,374.8L98.7,376.5L80.0,376.6ZM78.0,378.1L101.6,379.8L78.0,379.9ZM76.1,381.4L95.4,383.1L76.1,383.2ZM74.6,384.7L99.9,386.4L74.6,386.5ZM73.9,388.0L98.4,389.7L73.9,389.8ZM73.1,391.3L88.3,393.0L73.1,393.1ZM72.3,394.6L87.9,396.3L72.3,396.4ZM71.5,397.9L88.1,399.6L71.5,399.7ZM70.8,401.2L96.4,402.9L70.8,403.0ZM70.0,404.5L89.2,406.2L70.0,406.3ZM69.2,407.8L90.7,409.5L69.2,409.6ZM68.4,411.1L86.0,412.8L68.4,412.9ZM67.7,414.4L87.7,416.1L67.7,416.2Z" fill="#222" opacity="0.75"/><path d="M165,266L134,312L104,345L81,384L73,418" stroke="url(#brightC)" stroke-width="22" fill="none" opacity="0.26" stroke-linejoin="round" filter="url(#blurM)" transform="translate(8,4)"/><rect x="33" y="268" width="150" height="150" fill="url(#vigC)"/></g><rect x="36.6" y="280.8" width="43" height="42.3" fill="none" stroke="#b01c1c" stroke-width="1.3"/><path d="M39.2,301V276.2Q39.2,275.2 40.2,275.2H51" stroke="#fff" stroke-width="1.2" fill="none"/><path d="M54.6,275.2l-4.4,-2.3v4.6z M39.4,304l-2.3,-4.6h4.6z" fill="#fff"/><text x="59.8" y="283.6" font-size="10.4" fill="#fff">[021]</text><path d="M75,274.4h4.6" stroke="#fff" stroke-width="0.8"/><text x="44.8" y="305.4" font-size="10.4" fill="#fff">[201]</text><text x="38.9" y="330.7" font-size="17.4" class="b" fill="#ffee00" textLength="43" lengthAdjust="spacingAndGlyphs">[021]</text><text x="82.5" y="335.2" font-size="11.6" class="b i" fill="#ffee00" textLength="18.6" lengthAdjust="spacingAndGlyphs">OD</text><text x="112" y="376.5" font-size="17.7" class="b" fill="#c00000" textLength="43.8" lengthAdjust="spacingAndGlyphs">[021]</text><text x="155.1" y="380" font-size="11.6" class="b i" fill="#c00000" textLength="17.8" lengthAdjust="spacingAndGlyphs">RD</text><path d="M63.9,342V418" stroke="#dc1414" stroke-width="1" stroke-dasharray="14 9" fill="none"/><path d="M63.9,423.2l-2.4,-5.6h4.8z" fill="#dc1414"/><rect x="133.4" y="412.3" width="47.2" height="1.7" fill="#fff"/><text x="143" y="408.7" font-size="12" fill="#fff" textLength="28.2" lengthAdjust="spacingAndGlyphs">5 nm</text><text x="38.2" y="433.9" font-size="12.4" fill="#c80000" textLength="98" lengthAdjust="spacingAndGlyphs">Reference region</text><clipPath id="clipM0"><rect x="190.2" y="267.8" width="149.8" height="150.1"/></clipPath><g clip-path="url(#clipM0)"><rect x="190.2" y="267.8" width="149.8" height="150.1" fill="#0f8a4b"/><rect x="190.2" y="267.8" width="149.8" height="150.1" fill="url(#m1a)"/><ellipse cx="252" cy="300" rx="40" ry="26" fill="#088a58" opacity="0.35" filter="url(#blurM)"/><ellipse cx="205" cy="398" rx="26" ry="34" fill="#3aa048" opacity="0.35" filter="url(#blurM)"/><ellipse cx="300" cy="395" rx="34" ry="22" fill="#1a9a44" opacity="0.4" filter="url(#blurM)"/><path d="M191,305V318" stroke="#1a20c0" stroke-width="1.6" opacity="0.9"/><path d="M191.4,311V325" stroke="#d8e030" stroke-width="1.2" opacity="0.9"/><path d="M190.8,352V372" stroke="#2238b0" stroke-width="1.2" opacity="0.6"/><path d="M238,268.6h6" stroke="#a0c830" stroke-width="1" opacity="0.7"/><path d="M286,269h5" stroke="#2030a0" stroke-width="1" opacity="0.6"/></g><clipPath id="clipM1"><rect x="345.4" y="268.8" width="150.5" height="150.1"/></clipPath><g clip-path="url(#clipM1)"><rect x="345.4" y="268.8" width="150.5" height="150.1" fill="#118c47"/><ellipse cx="470" cy="390" rx="44" ry="40" fill="#2a9c44" opacity="0.35" filter="url(#blurM)"/><ellipse cx="440" cy="400" rx="30" ry="18" fill="#0a7a60" opacity="0.3" filter="url(#blurM)"/><ellipse cx="478" cy="332" rx="8" ry="6" fill="#48b040" opacity="0.4" filter="url(#blurM2)" transform="rotate(-30 478 332)"/><ellipse cx="470" cy="400" rx="6" ry="14" fill="#4ab43c" opacity="0.4" filter="url(#blurM2)" transform="rotate(0 470 400)"/><ellipse cx="455" cy="405" rx="10" ry="5" fill="#44b040" opacity="0.35" filter="url(#blurM2)" transform="rotate(30 455 405)"/><ellipse cx="486" cy="385" rx="8" ry="10" fill="#0a5c78" opacity="0.3" filter="url(#blurM2)" transform="rotate(0 486 385)"/><ellipse cx="425" cy="392" rx="10" ry="5" fill="#0a5878" opacity="0.3" filter="url(#blurM2)" transform="rotate(25 425 392)"/><ellipse cx="440" cy="410" rx="16" ry="6" fill="#2c9c44" opacity="0.4" filter="url(#blurM2)" transform="rotate(0 440 410)"/><ellipse cx="488" cy="350" rx="6" ry="14" fill="#3aa842" opacity="0.35" filter="url(#blurM2)" transform="rotate(0 488 350)"/><path d="M458.6,348.4L470.4,337.2" stroke="#15208a" stroke-width="1.2" stroke-linecap="round" opacity="0.85" filter="url(#blurS)"/><g filter="url(#blurS)"><circle cx="470.8" cy="336.4" r="1.9000000000000001" fill="#1a2ab0" opacity="0.6"/><circle cx="470.8" cy="336.4" r="0.8" fill="#fff8c0"/></g><g filter="url(#blurS)"><circle cx="475.6" cy="327.8" r="1.8" fill="#1a2ab0" opacity="0.6"/><circle cx="475.6" cy="327.8" r="0.7" fill="#fff8c0"/></g><g filter="url(#blurS)"><circle cx="491" cy="362.8" r="1.8" fill="#1a2ab0" opacity="0.6"/><circle cx="491" cy="362.8" r="0.7" fill="#fff8c0"/></g><g filter="url(#blurS)"><circle cx="490.4" cy="373" r="1.8" fill="#1a2ab0" opacity="0.6"/><circle cx="490.4" cy="373" r="0.7" fill="#fff8c0"/></g><g filter="url(#blurS)"><circle cx="475.6" cy="377.2" r="1.8" fill="#1a2ab0" opacity="0.6"/><circle cx="475.6" cy="377.2" r="0.7" fill="#fff8c0"/></g><g filter="url(#blurS)"><circle cx="494" cy="378" r="1.8" fill="#1a2ab0" opacity="0.6"/><circle cx="494" cy="378" r="0.7" fill="#fff8c0"/></g><g filter="url(#blurS)"><path d="M415.6,384.2L420.6,387.4" stroke="#d0e030" stroke-width="2.3" stroke-linecap="round" opacity="0.5"/><path d="M415.6,384.2L420.6,387.4" stroke="#ffffff" stroke-width="1.0" stroke-linecap="round"/></g><path d="M420.8,387.6L423.4,390.4" stroke="#15208a" stroke-width="1.2" stroke-linecap="round" opacity="0.85" filter="url(#blurS)"/><g filter="url(#blurS)"><path d="M468.8,392.0L470.6,405.6" stroke="#a0c828" stroke-width="2.3" stroke-linecap="round" opacity="0.5"/><path d="M468.8,392.0L470.6,405.6" stroke="#e8e860" stroke-width="1.0" stroke-linecap="round"/></g><g filter="url(#blurS)"><circle cx="468.8" cy="390.6" r="1.8" fill="#1a2ab0" opacity="0.6"/><circle cx="468.8" cy="390.6" r="0.7" fill="#fff8c0"/></g><g filter="url(#blurS)"><circle cx="470.8" cy="407" r="1.8" fill="#1a2ab0" opacity="0.6"/><circle cx="470.8" cy="407" r="0.7" fill="#fff8c0"/></g><g filter="url(#blurS)"><path d="M456.6,401.4L460.4,404.2" stroke="#90c030" stroke-width="2.2" stroke-linecap="round" opacity="0.5"/><path d="M456.6,401.4L460.4,404.2" stroke="#e0e050" stroke-width="0.9" stroke-linecap="round"/></g><path d="M428,413.6L430.4,414.4" stroke="#15208a" stroke-width="1.2" stroke-linecap="round" opacity="0.85" filter="url(#blurS)"/><path d="M439.4,414L441.2,416.6" stroke="#15208a" stroke-width="1.2" stroke-linecap="round" opacity="0.85" filter="url(#blurS)"/><path d="M384.4,418L389,414.8" stroke="#15208a" stroke-width="1.2" stroke-linecap="round" opacity="0.85" filter="url(#blurS)"/><path d="M491.6,404L494,410" stroke="#15208a" stroke-width="1.2" stroke-linecap="round" opacity="0.85" filter="url(#blurS)"/><g filter="url(#blurS)"><circle cx="491" cy="409.4" r="1.7000000000000002" fill="#1a2ab0" opacity="0.6"/><circle cx="491" cy="409.4" r="0.6" fill="#fff8c0"/></g><path d="M394,269.6h5" stroke="#2030a0" stroke-width="1" opacity="0.7"/><path d="M441,270h5" stroke="#2030a0" stroke-width="1" opacity="0.5"/><path d="M494.6,300L495.4,306" stroke="#15208a" stroke-width="1.0" stroke-linecap="round" opacity="0.5" filter="url(#blurS)"/></g><clipPath id="clipM2"><rect x="501.2" y="269.3" width="149.7" height="149.6"/></clipPath><g clip-path="url(#clipM2)"><rect x="501.2" y="269.3" width="149.7" height="149.6" fill="#179040"/><ellipse cx="618" cy="392" rx="48" ry="34" fill="#36a83e" opacity="0.45" filter="url(#blurM)"/><ellipse cx="596" cy="352" rx="22" ry="12" fill="#0a6a78" opacity="0.35" filter="url(#blurM)" transform="rotate(25 596 352)"/><ellipse cx="565" cy="392" rx="16" ry="9" fill="#0a5a80" opacity="0.4" filter="url(#blurM)"/><ellipse cx="640" cy="330" rx="16" ry="16" fill="#2ea040" opacity="0.4" filter="url(#blurM)"/><ellipse cx="520" cy="400" rx="20" ry="30" fill="#22963c" opacity="0.35" filter="url(#blurM)"/><ellipse cx="610" cy="408" rx="30" ry="8" fill="#58c040" opacity="0.5" filter="url(#blurM2)" transform="rotate(-8 610 408)"/><ellipse cx="560" cy="410" rx="24" ry="7" fill="#4ab83c" opacity="0.45" filter="url(#blurM2)" transform="rotate(-15 560 410)"/><ellipse cx="640" cy="395" rx="10" ry="16" fill="#5cc444" opacity="0.45" filter="url(#blurM2)" transform="rotate(0 640 395)"/><ellipse cx="600" cy="372" rx="18" ry="6" fill="#0a5878" opacity="0.4" filter="url(#blurM2)" transform="rotate(20 600 372)"/><ellipse cx="636" cy="352" rx="10" ry="6" fill="#52bc40" opacity="0.45" filter="url(#blurM2)" transform="rotate(-30 636 352)"/><ellipse cx="645" cy="318" rx="8" ry="12" fill="#44b040" opacity="0.4" filter="url(#blurM2)" transform="rotate(0 645 318)"/><ellipse cx="585" cy="398" rx="12" ry="5" fill="#0a5080" opacity="0.35" filter="url(#blurM2)" transform="rotate(10 585 398)"/><ellipse cx="625" cy="360" rx="7" ry="12" fill="#0a5c70" opacity="0.3" filter="url(#blurM2)" transform="rotate(0 625 360)"/><g filter="url(#blurS)"><path d="M612.7,349.3L615.0,347.0" stroke="#1a1890" stroke-width="1.65" stroke-linecap="round" opacity="0.85"/><path d="M625.4,336.6L627.1,334.9" stroke="#1a1890" stroke-width="1.5499999999999998" stroke-linecap="round" opacity="0.8"/><path d="M615.0,347.0L625.4,336.6" stroke="#d0e030" stroke-width="2.45" stroke-linecap="round" opacity="0.5"/><path d="M615.0,347.0L625.4,336.6" stroke="#ffffff" stroke-width="1.15" stroke-linecap="round"/></g><g filter="url(#blurS)"><path d="M627.7,329.1L630.8,328.2" stroke="#1a1890" stroke-width="1.5" stroke-linecap="round" opacity="0.85"/><path d="M634.4,327.2L636.7,326.6" stroke="#1a1890" stroke-width="1.4" stroke-linecap="round" opacity="0.8"/><path d="M630.8,328.2L634.4,327.2" stroke="#d0e030" stroke-width="2.3" stroke-linecap="round" opacity="0.5"/><path d="M630.8,328.2L634.4,327.2" stroke="#ffffff" stroke-width="1.0" stroke-linecap="round"/></g><path d="M631,377C635,372.6 641,373.6 646.4,372.6" stroke="#1c0c70" stroke-width="2.2" fill="none" stroke-linecap="round"/><g filter="url(#blurS)"><circle cx="630.8" cy="384.2" r="2.0" fill="#1a2ab0" opacity="0.6"/><circle cx="630.8" cy="384.2" r="0.9" fill="#fff8c0"/></g><path d="M632,384h5" stroke="#fff" stroke-width="1.1"/><g filter="url(#blurS)"><path d="M569.4,382.0L572.0,383.8" stroke="#1a1890" stroke-width="1.5" stroke-linecap="round" opacity="0.85"/><path d="M577.6,387.6L579.6,388.9" stroke="#1a1890" stroke-width="1.4" stroke-linecap="round" opacity="0.8"/><path d="M572.0,383.8L577.6,387.6" stroke="#d0e030" stroke-width="2.3" stroke-linecap="round" opacity="0.5"/><path d="M572.0,383.8L577.6,387.6" stroke="#ffffff" stroke-width="1.0" stroke-linecap="round"/></g><path d="M562,389L570,384.4" stroke="#15208a" stroke-width="2" stroke-linecap="round" opacity="0.8"/><g filter="url(#blurS)"><path d="M603.8,398.6L616.8,402.4" stroke="#d0e030" stroke-width="2.3" stroke-linecap="round" opacity="0.5"/><path d="M603.8,398.6L616.8,402.4" stroke="#ffffff" stroke-width="1.0" stroke-linecap="round"/></g><g filter="url(#blurS)"><path d="M615.2,407.0L618.4,407.4" stroke="#1a1890" stroke-width="1.5" stroke-linecap="round" opacity="0.85"/><path d="M625.4,408.2L627.8,408.5" stroke="#1a1890" stroke-width="1.4" stroke-linecap="round" opacity="0.8"/><path d="M618.4,407.4L625.4,408.2" stroke="#d0e030" stroke-width="2.3" stroke-linecap="round" opacity="0.5"/><path d="M618.4,407.4L625.4,408.2" stroke="#ffffff" stroke-width="1.0" stroke-linecap="round"/></g><g filter="url(#blurS)"><path d="M541.0,417.4L549.6,413.4" stroke="#d0e030" stroke-width="2.3" stroke-linecap="round" opacity="0.5"/><path d="M541.0,417.4L549.6,413.4" stroke="#ffffff" stroke-width="1.0" stroke-linecap="round"/></g><g filter="url(#blurS)"><path d="M569.8,414.6L573.0,414.2" stroke="#1a1890" stroke-width="1.5" stroke-linecap="round" opacity="0.85"/><path d="M582.0,413.2L584.4,412.9" stroke="#1a1890" stroke-width="1.4" stroke-linecap="round" opacity="0.8"/><path d="M573.0,414.2L582.0,413.2" stroke="#d0e030" stroke-width="2.3" stroke-linecap="round" opacity="0.5"/><path d="M573.0,414.2L582.0,413.2" stroke="#f0f080" stroke-width="1.0" stroke-linecap="round"/></g><g filter="url(#blurS)"><path d="M586.5,417.8L589.6,417.0" stroke="#1a1890" stroke-width="1.6" stroke-linecap="round" opacity="0.85"/><path d="M595.0,415.6L597.3,415.0" stroke="#1a1890" stroke-width="1.5" stroke-linecap="round" opacity="0.8"/><path d="M589.6,417.0L595.0,415.6" stroke="#d0e030" stroke-width="2.4000000000000004" stroke-linecap="round" opacity="0.5"/><path d="M589.6,417.0L595.0,415.6" stroke="#ffffff" stroke-width="1.1" stroke-linecap="round"/></g><path d="M596,416.2L598,417.4" stroke="#15208a" stroke-width="1.6" stroke-linecap="round" opacity="0.85" filter="url(#blurS)"/><g filter="url(#blurS)"><path d="M641.4,359.2L644.2,360.8" stroke="#1a1890" stroke-width="1.5" stroke-linecap="round" opacity="0.85"/><path d="M650.6,364.6L652.7,365.8" stroke="#1a1890" stroke-width="1.4" stroke-linecap="round" opacity="0.8"/><path d="M644.2,360.8L650.6,364.6" stroke="#d0e030" stroke-width="2.3" stroke-linecap="round" opacity="0.5"/><path d="M644.2,360.8L650.6,364.6" stroke="#ffffff" stroke-width="1.0" stroke-linecap="round"/></g><g filter="url(#blurS)"><path d="M643.8,376.7L646.0,379.0" stroke="#1a1890" stroke-width="1.5" stroke-linecap="round" opacity="0.85"/><path d="M650.8,384.0L652.5,385.7" stroke="#1a1890" stroke-width="1.4" stroke-linecap="round" opacity="0.8"/><path d="M646.0,379.0L650.8,384.0" stroke="#d0e030" stroke-width="2.3" stroke-linecap="round" opacity="0.5"/><path d="M646.0,379.0L650.8,384.0" stroke="#ffffff" stroke-width="1.0" stroke-linecap="round"/></g><g filter="url(#blurS)"><path d="M643.2,406.5L646.0,408.0" stroke="#1a1890" stroke-width="1.5" stroke-linecap="round" opacity="0.85"/><path d="M651.0,410.6L653.1,411.7" stroke="#1a1890" stroke-width="1.4" stroke-linecap="round" opacity="0.8"/><path d="M646.0,408.0L651.0,410.6" stroke="#d0e030" stroke-width="2.3" stroke-linecap="round" opacity="0.5"/><path d="M646.0,408.0L651.0,410.6" stroke="#ffffff" stroke-width="1.0" stroke-linecap="round"/></g><g filter="url(#blurS)"><path d="M641.8,340.0L650.4,343.6" stroke="#90c030" stroke-width="2.3" stroke-linecap="round" opacity="0.5"/><path d="M641.8,340.0L650.4,343.6" stroke="#e0e860" stroke-width="1.0" stroke-linecap="round"/></g><g filter="url(#blurS)"><circle cx="623.8" cy="389" r="1.8" fill="#1a2ab0" opacity="0.6"/><circle cx="623.8" cy="389" r="0.7" fill="#fff8c0"/></g><g filter="url(#blurS)"><circle cx="624.6" cy="406.2" r="1.8" fill="#1a2ab0" opacity="0.6"/><circle cx="624.6" cy="406.2" r="0.7" fill="#fff8c0"/></g><path d="M624,386L624.4,392" stroke="#15208a" stroke-width="1.3" stroke-linecap="round" opacity="0.85" filter="url(#blurS)"/><path d="M502,269.8h22" stroke="#90c030" stroke-width="1" opacity="0.6"/></g><path d="M215.9,327.2L232.6,307.1L281.1,346.8L288.5,336.1L292.4,371.8L256.6,376.3L264.4,366.5Z" fill="none" stroke="#4c9eb0" stroke-width="1.5" stroke-linejoin="miter"/><path d="M392.7,341.9L409.4,321.8L457.9,361.5L465.3,350.8L469.2,386.5L433.4,391.0L441.2,381.2Z" fill="none" stroke="#4c9eb0" stroke-width="1.5" stroke-linejoin="miter"/><path d="M550.9,336.3L567.6,316.2L616.1,355.9L623.5,345.2L627.4,380.9L591.6,385.4L599.4,375.6Z" fill="none" stroke="#4c9eb0" stroke-width="1.5" stroke-linejoin="miter"/><text transform="translate(304.4,287.3) scale(1,1.17)" x="0" y="0" font-size="27" class="se b" fill="#fff" textLength="11.2" lengthAdjust="spacingAndGlyphs">ε</text><text x="317.6" y="291.6" font-size="13.5" class="se b" fill="#fff" textLength="13.4" lengthAdjust="spacingAndGlyphs">xx</text><text transform="translate(457.4,287.3) scale(1,1.17)" x="0" y="0" font-size="27" class="se b" fill="#fff" textLength="11.2" lengthAdjust="spacingAndGlyphs">ε</text><text x="469.6" y="291.6" font-size="13.5" class="se b" fill="#fff" textLength="13.4" lengthAdjust="spacingAndGlyphs">yy</text><text transform="translate(615,287.3) scale(1,1.17)" x="0" y="0" font-size="27" class="se b" fill="#fff" textLength="11.2" lengthAdjust="spacingAndGlyphs">ε</text><text x="626.6" y="291.6" font-size="13.5" class="se b" fill="#fff" textLength="13.4" lengthAdjust="spacingAndGlyphs">xy</text><path d="M268.8,316.9H274.8M268.8,328.5H274.8" stroke="#000" stroke-width="1.1"/><rect x="270.7" y="316.4" width="2.2" height="12.600000000000023" fill="#000"/><path d="M432.2,325.1H443.8M432.2,336.3H443.8" stroke="#000" stroke-width="1.1"/><rect x="434.2" y="324.6" width="2.2" height="12.199999999999989" fill="#000"/><rect x="439.6" y="324.6" width="2.2" height="12.199999999999989" fill="#000"/><path d="M597,322.1H610.2M597,332.7H610.2" stroke="#000" stroke-width="1.1"/><rect x="598.5" y="321.6" width="2.1" height="11.599999999999966" fill="#000"/><rect x="602.6" y="321.6" width="2.1" height="11.599999999999966" fill="#000"/><rect x="606.6" y="321.6" width="2.1" height="11.599999999999966" fill="#000"/><rect x="656.4" y="304.2" width="19.4" height="115" fill="url(#cbar)"/><path d="M657,311h18.8" stroke="#fff" stroke-width="0.9" opacity="0.9"/><path d="M657,345.4h18.8" stroke="#e8f8e0" stroke-width="0.9" opacity="0.9"/><path d="M657,348.4h18.8" stroke="#b8e0b0" stroke-width="0.9" opacity="0.5"/><path d="M657,379.4h18.8" stroke="#a8c0d8" stroke-width="0.9" opacity="0.85"/><path d="M657,383.4h18.8" stroke="#88a8d8" stroke-width="0.9" opacity="0.8"/><path d="M657,414.6h18.8" stroke="#a0a0a0" stroke-width="0.9" opacity="0.9"/><path d="M657,417.6h18.8" stroke="#c8c8c8" stroke-width="0.9" opacity="0.9"/><path d="M656.4,304V419.6H676" stroke="#000" stroke-width="1" fill="none"/><path d="M675.4,309v6" stroke="#333" stroke-width="0.6"/><text x="683.4" y="314.8" font-size="17.5" class="se" fill="#000" textLength="5.4" lengthAdjust="spacingAndGlyphs">l</text><path d="M682,415.4h8.6" stroke="#000" stroke-width="1.1"/><text x="692.6" y="421.6" font-size="17.5" class="se" fill="#000" textLength="5.4" lengthAdjust="spacingAndGlyphs">l</text><path d="M684.2,304.6l2.6,-1v0.9z M693.4,411.4l2.6,-1v0.9z" fill="#000"/></g><g id="panel-d"><rect x="21" y="447" width="226" height="190" fill="#f8fcfd"/><rect x="247" y="445" width="218" height="192" fill="#fcfefe"/><rect x="468" y="445" width="215" height="192" fill="#fcfefe"/><path d="M58.1,576.9C60.0,576.9 66.5,577.2 69.5,576.9C72.5,576.7 74.0,575.7 75.8,575.2C77.6,574.7 78.6,573.8 80.0,573.8C81.4,573.8 82.5,573.9 84.1,575.2C85.8,576.5 87.9,579.8 89.7,581.5C91.5,583.1 93.0,584.8 94.6,584.9C96.2,585.1 97.6,583.5 99.1,582.2C100.6,580.9 101.8,578.4 103.3,577.3C104.7,576.2 106.3,575.6 107.8,575.6C109.3,575.6 110.7,576.5 112.0,577.3C113.3,578.1 114.3,579.7 115.4,580.4C116.6,581.1 117.7,581.6 118.9,581.5C120.1,581.3 121.2,580.9 122.4,579.4C123.6,577.9 124.7,575.7 125.9,572.8C127.1,569.9 128.0,566.3 129.3,562.3C130.7,558.4 132.2,553.3 133.9,549.5C135.5,545.6 137.3,542.5 139.1,539.7C140.9,537.0 142.5,535.7 144.3,533.5C146.1,531.3 148.0,529.5 149.5,526.9C151.0,524.3 151.8,522.2 153.0,518.2C154.2,514.2 155.3,508.1 156.5,503.2C157.6,498.3 158.8,493.6 159.9,489.3C161.1,485.0 162.2,481.1 163.4,477.9C164.6,474.6 165.7,472.0 166.9,470.2C168.1,468.4 169.3,467.7 170.4,467.4C171.4,467.2 172.1,467.6 173.2,468.8C174.2,470.0 175.3,472.0 176.6,474.4C177.9,476.7 179.5,480.4 180.8,482.7C182.1,485.0 183.3,486.8 184.3,487.9C185.3,489.1 185.7,489.2 186.7,489.3C187.8,489.4 189.2,489.2 190.5,488.6C191.9,488.0 193.1,486.7 194.7,485.8C196.3,485.0 198.0,484.4 199.9,483.8C201.8,483.1 203.8,483.0 205.8,482.0C207.9,481.0 210.4,478.9 212.1,477.9C213.8,476.8 214.5,476.3 215.6,475.8C216.6,475.2 217.3,474.7 218.4,474.7C219.4,474.8 220.5,475.3 221.8,476.1C223.1,476.9 224.6,478.5 226.0,479.6C227.4,480.7 228.5,481.7 230.2,482.4C231.8,483.0 233.7,483.2 235.7,483.4C237.8,483.6 240.9,483.4 242.0,483.4L242.0,451.5L58.1,451.5Z" fill="#edf8fb"/><rect x="58" y="575.4" width="71.8" height="6.2" fill="#8ccaca" opacity="0.85"/><rect x="171.2" y="477.8" width="65.8" height="6.2" fill="#8ccaca" opacity="0.85"/><path d="M58.1,576.9C60.0,576.9 66.5,577.2 69.5,576.9C72.5,576.7 74.0,575.7 75.8,575.2C77.6,574.7 78.6,573.8 80.0,573.8C81.4,573.8 82.5,573.9 84.1,575.2C85.8,576.5 87.9,579.8 89.7,581.5C91.5,583.1 93.0,584.8 94.6,584.9C96.2,585.1 97.6,583.5 99.1,582.2C100.6,580.9 101.8,578.4 103.3,577.3C104.7,576.2 106.3,575.6 107.8,575.6C109.3,575.6 110.7,576.5 112.0,577.3C113.3,578.1 114.3,579.7 115.4,580.4C116.6,581.1 117.7,581.6 118.9,581.5C120.1,581.3 121.2,580.9 122.4,579.4C123.6,577.9 124.7,575.7 125.9,572.8C127.1,569.9 128.0,566.3 129.3,562.3C130.7,558.4 132.2,553.3 133.9,549.5C135.5,545.6 137.3,542.5 139.1,539.7C140.9,537.0 142.5,535.7 144.3,533.5C146.1,531.3 148.0,529.5 149.5,526.9C151.0,524.3 151.8,522.2 153.0,518.2C154.2,514.2 155.3,508.1 156.5,503.2C157.6,498.3 158.8,493.6 159.9,489.3C161.1,485.0 162.2,481.1 163.4,477.9C164.6,474.6 165.7,472.0 166.9,470.2C168.1,468.4 169.3,467.7 170.4,467.4C171.4,467.2 172.1,467.6 173.2,468.8C174.2,470.0 175.3,472.0 176.6,474.4C177.9,476.7 179.5,480.4 180.8,482.7C182.1,485.0 183.3,486.8 184.3,487.9C185.3,489.1 185.7,489.2 186.7,489.3C187.8,489.4 189.2,489.2 190.5,488.6C191.9,488.0 193.1,486.7 194.7,485.8C196.3,485.0 198.0,484.4 199.9,483.8C201.8,483.1 203.8,483.0 205.8,482.0C207.9,481.0 210.4,478.9 212.1,477.9C213.8,476.8 214.5,476.3 215.6,475.8C216.6,475.2 217.3,474.7 218.4,474.7C219.4,474.8 220.5,475.3 221.8,476.1C223.1,476.9 224.6,478.5 226.0,479.6C227.4,480.7 228.5,481.7 230.2,482.4C231.8,483.0 233.7,483.2 235.7,483.4C237.8,483.6 240.9,483.4 242.0,483.4" fill="none" stroke="#168888" stroke-width="1.3"/><path d="M149.6,451.5V603.0" stroke="#000" stroke-width="1" stroke-dasharray="1.2 1.3"/><rect x="58.1" y="451.5" width="183.9" height="151.5" fill="none" stroke="#000" stroke-width="1.9"/><path d="M55.5,451.5h2.6" stroke="#000" stroke-width="1.1"/><text x="54" y="454.4" font-size="7.9" class="b" text-anchor="end" fill="#000">−1</text><path d="M56.5,459.1h1.6" stroke="#000" stroke-width="1"/><path d="M55.5,466.6h2.6" stroke="#000" stroke-width="1.1"/><text x="54" y="469.5" font-size="7.9" class="b" text-anchor="end" fill="#000">−2</text><path d="M56.5,474.2h1.6" stroke="#000" stroke-width="1"/><path d="M55.5,481.8h2.6" stroke="#000" stroke-width="1.1"/><text x="54" y="484.7" font-size="7.9" class="b" text-anchor="end" fill="#000">−3</text><path d="M56.5,489.4h1.6" stroke="#000" stroke-width="1"/><path d="M55.5,496.9h2.6" stroke="#000" stroke-width="1.1"/><text x="54" y="499.8" font-size="7.9" class="b" text-anchor="end" fill="#000">−4</text><path d="M56.5,504.5h1.6" stroke="#000" stroke-width="1"/><path d="M55.5,512.1h2.6" stroke="#000" stroke-width="1.1"/><text x="54" y="515.0" font-size="7.9" class="b" text-anchor="end" fill="#000">−5</text><path d="M56.5,519.7h1.6" stroke="#000" stroke-width="1"/><path d="M55.5,527.2h2.6" stroke="#000" stroke-width="1.1"/><text x="54" y="530.1" font-size="7.9" class="b" text-anchor="end" fill="#000">−6</text><path d="M56.5,534.8h1.6" stroke="#000" stroke-width="1"/><path d="M55.5,542.4h2.6" stroke="#000" stroke-width="1.1"/><text x="54" y="545.3" font-size="7.9" class="b" text-anchor="end" fill="#000">−7</text><path d="M56.5,550.0h1.6" stroke="#000" stroke-width="1"/><path d="M55.5,557.5h2.6" stroke="#000" stroke-width="1.1"/><text x="54" y="560.4" font-size="7.9" class="b" text-anchor="end" fill="#000">−8</text><path d="M56.5,565.1h1.6" stroke="#000" stroke-width="1"/><path d="M55.5,572.7h2.6" stroke="#000" stroke-width="1.1"/><text x="54" y="575.6" font-size="7.9" class="b" text-anchor="end" fill="#000">−9</text><path d="M56.5,580.3h1.6" stroke="#000" stroke-width="1"/><path d="M55.5,587.9h2.6" stroke="#000" stroke-width="1.1"/><text x="54" y="590.8" font-size="7.9" class="b" text-anchor="end" fill="#000">−10</text><path d="M56.5,595.4h1.6" stroke="#000" stroke-width="1"/><path d="M55.5,603.0h2.6" stroke="#000" stroke-width="1.1"/><text x="54" y="605.9" font-size="7.9" class="b" text-anchor="end" fill="#000">−11</text><path d="M58.1,603.0v2.6" stroke="#000" stroke-width="1.1"/><text x="58.1" y="615" font-size="7.8" class="b" text-anchor="middle" fill="#000">0</text><path d="M76.5,603.0v1.6" stroke="#000" stroke-width="1"/><path d="M94.9,603.0v2.6" stroke="#000" stroke-width="1.1"/><text x="94.9" y="615" font-size="7.8" class="b" text-anchor="middle" fill="#000">2</text><path d="M113.3,603.0v1.6" stroke="#000" stroke-width="1"/><path d="M131.7,603.0v2.6" stroke="#000" stroke-width="1.1"/><text x="131.7" y="615" font-size="7.8" class="b" text-anchor="middle" fill="#000">4</text><path d="M150.1,603.0v1.6" stroke="#000" stroke-width="1"/><path d="M168.4,603.0v2.6" stroke="#000" stroke-width="1.1"/><text x="168.4" y="615" font-size="7.8" class="b" text-anchor="middle" fill="#000">6</text><path d="M186.8,603.0v1.6" stroke="#000" stroke-width="1"/><path d="M205.2,603.0v2.6" stroke="#000" stroke-width="1.1"/><text x="205.2" y="615" font-size="7.8" class="b" text-anchor="middle" fill="#000">8</text><path d="M223.6,603.0v1.6" stroke="#000" stroke-width="1"/><path d="M242.0,603.0v2.6" stroke="#000" stroke-width="1.1"/><text x="242.0" y="615" font-size="7.8" class="b" text-anchor="middle" fill="#000">10</text><text x="84.8" y="574.8" font-size="8" fill="#222">~-9.3%</text><text x="191" y="494" font-size="8" fill="#222" textLength="28" lengthAdjust="spacingAndGlyphs">~−2.8%</text><text x="68.8" y="468.8" font-size="18.6" class="se" fill="#111" text-anchor="middle" textLength="4.4" lengthAdjust="spacingAndGlyphs">I</text><text x="71.8" y="505.6" font-size="17.6" class="b" fill="#ffea00" textLength="42.7" lengthAdjust="spacingAndGlyphs">[021]</text><text x="115.5" y="508.20000000000005" font-size="11.6" class="b i" fill="#ffea00" textLength="18.0" lengthAdjust="spacingAndGlyphs">OD</text><text x="161.5" y="566.9" font-size="18" class="b" fill="#c00000" textLength="44.8" lengthAdjust="spacingAndGlyphs">[021]</text><text x="205.5" y="569.6999999999999" font-size="11.6" class="b i" fill="#c00000" textLength="17.4" lengthAdjust="spacingAndGlyphs">RD</text><g transform="translate(33,527.2) rotate(-90)"><text x="0" y="0" font-size="12" class="b" fill="#000" text-anchor="middle">ε<tspan font-size="9" dy="2.6">xx</tspan><tspan dy="-2.6">(%)</tspan></text></g><text x="150" y="633.2" font-size="12.4" class="b" text-anchor="middle" fill="#000">Distance(nm)</text><path d="M274.7,543.3C276.1,543.1 281.9,542.1 284.3,541.9C286.8,541.8 289.2,542.3 291.1,542.3C293.1,542.3 295.5,542.2 297.3,541.9C299.1,541.6 301.4,540.6 303.1,540.2C304.7,539.8 306.8,539.1 308.2,539.2C309.6,539.3 311.0,540.0 312.3,540.9C313.6,541.8 315.3,543.4 316.7,545.0C318.1,546.6 320.3,550.0 321.8,551.8C323.4,553.6 325.4,555.8 326.9,556.9C328.5,558.1 330.3,559.1 332.0,559.3C333.8,559.6 336.8,558.8 338.9,558.6C340.9,558.5 343.6,558.2 345.7,558.3C347.7,558.4 350.8,559.5 352.5,559.3C354.2,559.1 355.8,558.3 356.9,556.9C358.1,555.6 359.1,553.1 360.0,550.5C360.9,547.8 361.9,543.5 362.7,539.2C363.5,535.0 364.7,528.3 365.5,522.2C366.2,516.0 367.2,504.9 367.8,498.3C368.5,491.6 369.3,482.3 369.9,477.8C370.5,473.4 371.1,470.4 371.6,468.6C372.1,466.9 372.5,466.4 373.0,466.3C373.4,466.1 373.8,466.1 374.3,467.6C374.8,469.1 375.8,472.6 376.4,476.1C377.0,479.7 377.8,486.4 378.4,491.5C379.0,496.6 379.8,504.3 380.5,510.2C381.1,516.1 381.9,525.1 382.5,530.7C383.1,536.3 384.0,544.0 384.5,547.7C385.1,551.4 385.7,554.0 386.3,555.2C386.8,556.5 387.1,556.3 388.0,556.3C388.8,556.3 390.4,555.7 391.7,555.2C393.0,554.7 395.4,553.6 396.8,552.8C398.2,552.1 400.0,550.9 400.9,550.5C401.8,550.0 402.3,549.7 403.0,549.8C403.6,549.9 404.7,550.7 405.3,551.1C406.0,551.5 406.4,552.6 407.0,552.5C407.7,552.4 408.7,551.7 409.4,550.5C410.2,549.2 411.2,546.5 412.2,544.3C413.1,542.1 414.5,537.9 415.6,535.8C416.6,533.6 418.0,531.3 419.0,530.0C420.0,528.7 421.4,527.6 422.4,526.9C423.4,526.3 424.6,525.9 425.8,525.6C427.0,525.2 429.1,525.2 430.2,524.5C431.4,523.9 432.6,523.0 433.6,521.1C434.7,519.2 436.0,514.6 437.0,511.9C438.1,509.3 439.5,505.1 440.5,503.4C441.4,501.7 442.4,500.7 443.2,500.7C444.0,500.7 444.9,502.1 445.6,503.4C446.3,504.7 447.4,508.0 448.0,509.5C448.5,511.1 449.0,505.9 449.3,513.6C449.6,521.4 449.6,553.3 450.0,561.4C450.4,569.4 451.3,565.6 452.0,567.5C452.8,569.4 454.1,572.3 454.8,574.0C455.5,575.6 456.4,577.0 456.8,578.4C457.3,579.8 457.7,582.8 457.9,583.5L457.9,580.8L274.7,580.8Z" fill="#e7f8f9"/><path d="M274.7,543.3C276.1,543.1 281.9,542.1 284.3,541.9C286.8,541.8 289.2,542.3 291.1,542.3C293.1,542.3 295.5,542.2 297.3,541.9C299.1,541.6 301.4,540.6 303.1,540.2C304.7,539.8 306.8,539.1 308.2,539.2C309.6,539.3 311.0,540.0 312.3,540.9C313.6,541.8 315.3,543.4 316.7,545.0C318.1,546.6 320.3,550.0 321.8,551.8C323.4,553.6 325.4,555.8 326.9,556.9C328.5,558.1 330.3,559.1 332.0,559.3C333.8,559.6 336.8,558.8 338.9,558.6C340.9,558.5 343.6,558.2 345.7,558.3C347.7,558.4 350.8,559.5 352.5,559.3C354.2,559.1 355.8,558.3 356.9,556.9C358.1,555.6 359.1,553.1 360.0,550.5C360.9,547.8 361.9,543.5 362.7,539.2C363.5,535.0 364.7,528.3 365.5,522.2C366.2,516.0 367.2,504.9 367.8,498.3C368.5,491.6 369.3,482.3 369.9,477.8C370.5,473.4 371.1,470.4 371.6,468.6C372.1,466.9 372.5,466.4 373.0,466.3C373.4,466.1 373.8,466.1 374.3,467.6C374.8,469.1 375.8,472.6 376.4,476.1C377.0,479.7 377.8,486.4 378.4,491.5C379.0,496.6 379.8,504.3 380.5,510.2C381.1,516.1 381.9,525.1 382.5,530.7C383.1,536.3 384.0,544.0 384.5,547.7C385.1,551.4 385.7,554.0 386.3,555.2C386.8,556.5 387.1,556.3 388.0,556.3C388.8,556.3 390.4,555.7 391.7,555.2C393.0,554.7 395.4,553.6 396.8,552.8C398.2,552.1 400.0,550.9 400.9,550.5C401.8,550.0 402.3,549.7 403.0,549.8C403.6,549.9 404.7,550.7 405.3,551.1C406.0,551.5 406.4,552.6 407.0,552.5C407.7,552.4 408.7,551.7 409.4,550.5C410.2,549.2 411.2,546.5 412.2,544.3C413.1,542.1 414.5,537.9 415.6,535.8C416.6,533.6 418.0,531.3 419.0,530.0C420.0,528.7 421.4,527.6 422.4,526.9C423.4,526.3 424.6,525.9 425.8,525.6C427.0,525.2 429.1,525.2 430.2,524.5C431.4,523.9 432.6,523.0 433.6,521.1C434.7,519.2 436.0,514.6 437.0,511.9C438.1,509.3 439.5,505.1 440.5,503.4C441.4,501.7 442.4,500.7 443.2,500.7C444.0,500.7 444.9,502.1 445.6,503.4C446.3,504.7 447.4,508.0 448.0,509.5C448.5,511.1 449.0,505.9 449.3,513.6C449.6,521.4 449.6,553.3 450.0,561.4C450.4,569.4 451.3,565.6 452.0,567.5C452.8,569.4 454.1,572.3 454.8,574.0C455.5,575.6 456.4,577.0 456.8,578.4C457.3,579.8 457.7,582.8 457.9,583.5" fill="none" stroke="#168888" stroke-width="1.3"/><path d="M366.9,450.8V602.4" stroke="#000" stroke-width="1.3" stroke-dasharray="1.3 1.2"/><rect x="274.7" y="450.8" width="183.5" height="151.59999999999997" fill="none" stroke="#000" stroke-width="1.9"/><path d="M272.09999999999997,450.8h2.6" stroke="#000" stroke-width="1.1"/><text x="270.4" y="453.7" font-size="7.9" class="b" text-anchor="end" fill="#000">12</text><path d="M273.09999999999997,461.6h1.6" stroke="#000" stroke-width="1"/><path d="M272.09999999999997,472.5h2.6" stroke="#000" stroke-width="1.1"/><text x="270.4" y="475.4" font-size="7.9" class="b" text-anchor="end" fill="#000">10</text><path d="M273.09999999999997,483.3h1.6" stroke="#000" stroke-width="1"/><path d="M272.09999999999997,494.1h2.6" stroke="#000" stroke-width="1.1"/><text x="270.4" y="497.0" font-size="7.9" class="b" text-anchor="end" fill="#000">8</text><path d="M273.09999999999997,504.9h1.6" stroke="#000" stroke-width="1"/><path d="M272.09999999999997,515.8h2.6" stroke="#000" stroke-width="1.1"/><text x="270.4" y="518.7" font-size="7.9" class="b" text-anchor="end" fill="#000">6</text><path d="M273.09999999999997,526.6h1.6" stroke="#000" stroke-width="1"/><path d="M272.09999999999997,537.4h2.6" stroke="#000" stroke-width="1.1"/><text x="270.4" y="540.3" font-size="7.9" class="b" text-anchor="end" fill="#000">4</text><path d="M273.09999999999997,548.3h1.6" stroke="#000" stroke-width="1"/><path d="M272.09999999999997,559.1h2.6" stroke="#000" stroke-width="1.1"/><text x="270.4" y="562.0" font-size="7.9" class="b" text-anchor="end" fill="#000">2</text><path d="M273.09999999999997,569.9h1.6" stroke="#000" stroke-width="1"/><path d="M272.09999999999997,580.8h2.6" stroke="#000" stroke-width="1.1"/><text x="270.4" y="583.7" font-size="7.9" class="b" text-anchor="end" fill="#000">0</text><path d="M273.09999999999997,591.6h1.6" stroke="#000" stroke-width="1"/><path d="M272.09999999999997,602.4h2.6" stroke="#000" stroke-width="1.1"/><text x="270.4" y="605.3" font-size="7.9" class="b" text-anchor="end" fill="#000">−2</text><path d="M274.7,602.4v2.6" stroke="#000" stroke-width="1.1"/><text x="274.7" y="615" font-size="7.8" class="b" text-anchor="middle" fill="#000">0</text><path d="M293.1,602.4v1.6" stroke="#000" stroke-width="1"/><path d="M311.4,602.4v2.6" stroke="#000" stroke-width="1.1"/><text x="311.4" y="615" font-size="7.8" class="b" text-anchor="middle" fill="#000">2</text><path d="M329.8,602.4v1.6" stroke="#000" stroke-width="1"/><path d="M348.1,602.4v2.6" stroke="#000" stroke-width="1.1"/><text x="348.1" y="615" font-size="7.8" class="b" text-anchor="middle" fill="#000">4</text><path d="M366.5,602.4v1.6" stroke="#000" stroke-width="1"/><path d="M384.8,602.4v2.6" stroke="#000" stroke-width="1.1"/><text x="384.8" y="615" font-size="7.8" class="b" text-anchor="middle" fill="#000">6</text><path d="M403.2,602.4v1.6" stroke="#000" stroke-width="1"/><path d="M421.5,602.4v2.6" stroke="#000" stroke-width="1.1"/><text x="421.5" y="615" font-size="7.8" class="b" text-anchor="middle" fill="#000">8</text><path d="M439.9,602.4v1.6" stroke="#000" stroke-width="1"/><path d="M458.2,602.4v2.6" stroke="#000" stroke-width="1.1"/><text x="458.2" y="615" font-size="7.8" class="b" text-anchor="middle" fill="#000">10</text><text x="286" y="470.8" font-size="19" class="se" fill="#111" text-anchor="middle" textLength="9.6" lengthAdjust="spacingAndGlyphs">II</text><text x="285.8" y="515.4" font-size="17.8" class="b" fill="#ffea00" textLength="44.6" lengthAdjust="spacingAndGlyphs">[021]</text><text x="330.0" y="518.0" font-size="11.6" class="b i" fill="#ffea00" textLength="18.7" lengthAdjust="spacingAndGlyphs">OD</text><text x="374.1" y="515.4" font-size="17.8" class="b" fill="#c00000" textLength="44.3" lengthAdjust="spacingAndGlyphs">[021]</text><text x="418.0" y="518.0" font-size="11.6" class="b i" fill="#c00000" textLength="18.3" lengthAdjust="spacingAndGlyphs">RD</text><g transform="translate(253.5,527.2) rotate(-90)"><text x="0" y="0" font-size="12" class="b" fill="#000" text-anchor="middle">ε<tspan font-size="9" dy="2.6">yy</tspan><tspan dy="-2.6">(%)</tspan></text></g><text x="367" y="633.2" font-size="12.4" class="b" text-anchor="middle" fill="#000">Distance(nm)</text><path d="M495.3,508.1C496.7,507.7 501.7,506.0 504.6,505.3C507.6,504.7 511.9,504.0 515.0,504.0C518.1,504.0 522.6,504.8 525.4,505.3C528.3,505.9 532.0,507.0 534.1,507.4C536.1,507.8 537.2,508.4 539.3,508.1C541.3,507.8 545.3,506.0 547.9,505.3C550.5,504.7 554.0,504.0 556.6,504.0C559.2,504.0 562.6,504.5 565.2,505.3C567.8,506.2 571.6,508.1 573.9,509.8C576.2,511.6 579.0,514.3 580.8,516.8C582.6,519.3 584.8,523.5 586.0,526.5C587.2,529.4 588.0,533.1 588.8,536.5C589.6,539.9 590.5,544.8 591.2,549.0C591.9,553.1 592.9,559.7 593.6,564.2C594.4,568.7 595.4,575.6 596.1,579.1C596.7,582.6 597.3,585.9 597.8,587.8C598.3,589.6 598.8,591.1 599.2,591.2C599.6,591.3 600.0,590.8 600.6,588.5C601.1,586.1 602.0,580.5 602.6,575.6C603.3,570.8 604.3,562.0 605.1,555.9C605.8,549.8 606.8,541.0 607.5,535.1C608.2,529.3 609.2,521.2 609.9,516.8C610.6,512.3 611.5,507.9 612.3,505.3C613.2,502.7 614.4,500.9 615.4,499.5C616.5,498.1 618.5,496.3 619.6,496.0C620.7,495.7 622.1,496.5 623.1,497.4C624.0,498.3 625.2,501.6 625.8,501.9C626.5,502.2 626.8,501.5 627.2,499.5C627.6,497.4 628.1,491.1 628.6,488.0C629.1,485.0 630.0,480.9 630.7,479.0C631.4,477.2 632.6,475.8 633.5,475.6C634.3,475.4 635.3,476.3 636.2,477.6C637.2,479.0 638.7,482.2 639.7,484.6C640.7,487.0 642.0,490.7 643.2,493.6C644.3,496.5 646.0,501.0 647.3,504.0C648.6,506.9 650.5,510.8 651.8,513.3C653.2,515.9 655.0,519.1 656.3,520.9C657.6,522.7 659.3,523.6 660.5,525.4C661.6,527.3 663.1,531.4 663.9,533.4C664.8,535.4 665.4,537.4 666.0,538.6C666.6,539.8 667.4,541.2 668.1,541.4C668.8,541.6 670.0,540.6 670.9,540.0C671.7,539.3 673.0,537.5 673.6,536.9C674.3,536.2 674.7,534.4 675.0,535.8C675.3,537.2 675.5,541.5 675.7,546.2C675.9,550.9 676.2,561.8 676.4,567.0C676.6,572.2 677.0,578.8 677.1,580.8L677.1,527L495.3,527Z" fill="#e7f8f9"/><path d="M495.3,508.1C496.7,507.7 501.7,506.0 504.6,505.3C507.6,504.7 511.9,504.0 515.0,504.0C518.1,504.0 522.6,504.8 525.4,505.3C528.3,505.9 532.0,507.0 534.1,507.4C536.1,507.8 537.2,508.4 539.3,508.1C541.3,507.8 545.3,506.0 547.9,505.3C550.5,504.7 554.0,504.0 556.6,504.0C559.2,504.0 562.6,504.5 565.2,505.3C567.8,506.2 571.6,508.1 573.9,509.8C576.2,511.6 579.0,514.3 580.8,516.8C582.6,519.3 584.8,523.5 586.0,526.5C587.2,529.4 588.0,533.1 588.8,536.5C589.6,539.9 590.5,544.8 591.2,549.0C591.9,553.1 592.9,559.7 593.6,564.2C594.4,568.7 595.4,575.6 596.1,579.1C596.7,582.6 597.3,585.9 597.8,587.8C598.3,589.6 598.8,591.1 599.2,591.2C599.6,591.3 600.0,590.8 600.6,588.5C601.1,586.1 602.0,580.5 602.6,575.6C603.3,570.8 604.3,562.0 605.1,555.9C605.8,549.8 606.8,541.0 607.5,535.1C608.2,529.3 609.2,521.2 609.9,516.8C610.6,512.3 611.5,507.9 612.3,505.3C613.2,502.7 614.4,500.9 615.4,499.5C616.5,498.1 618.5,496.3 619.6,496.0C620.7,495.7 622.1,496.5 623.1,497.4C624.0,498.3 625.2,501.6 625.8,501.9C626.5,502.2 626.8,501.5 627.2,499.5C627.6,497.4 628.1,491.1 628.6,488.0C629.1,485.0 630.0,480.9 630.7,479.0C631.4,477.2 632.6,475.8 633.5,475.6C634.3,475.4 635.3,476.3 636.2,477.6C637.2,479.0 638.7,482.2 639.7,484.6C640.7,487.0 642.0,490.7 643.2,493.6C644.3,496.5 646.0,501.0 647.3,504.0C648.6,506.9 650.5,510.8 651.8,513.3C653.2,515.9 655.0,519.1 656.3,520.9C657.6,522.7 659.3,523.6 660.5,525.4C661.6,527.3 663.1,531.4 663.9,533.4C664.8,535.4 665.4,537.4 666.0,538.6C666.6,539.8 667.4,541.2 668.1,541.4C668.8,541.6 670.0,540.6 670.9,540.0C671.7,539.3 673.0,537.5 673.6,536.9C674.3,536.2 674.7,534.4 675.0,535.8C675.3,537.2 675.5,541.5 675.7,546.2C675.9,550.9 676.2,561.8 676.4,567.0C676.6,572.2 677.0,578.8 677.1,580.8" fill="none" stroke="#168888" stroke-width="1.3"/><path d="M586.6,451.2V602.7" stroke="#000" stroke-width="1" stroke-dasharray="1.2 1.3"/><rect x="495.3" y="451.2" width="183.7" height="151.50000000000006" fill="none" stroke="#000" stroke-width="1.9"/><path d="M492.7,451.2h2.6" stroke="#000" stroke-width="1.1"/><text x="491.2" y="454.1" font-size="7.9" class="b" text-anchor="end" fill="#000">15</text><path d="M493.7,463.8h1.6" stroke="#000" stroke-width="1"/><path d="M492.7,476.5h2.6" stroke="#000" stroke-width="1.1"/><text x="491.2" y="479.4" font-size="7.9" class="b" text-anchor="end" fill="#000">10</text><path d="M493.7,489.1h1.6" stroke="#000" stroke-width="1"/><path d="M492.7,501.7h2.6" stroke="#000" stroke-width="1.1"/><text x="491.2" y="504.6" font-size="7.9" class="b" text-anchor="end" fill="#000">5</text><path d="M493.7,514.4h1.6" stroke="#000" stroke-width="1"/><path d="M492.7,527.0h2.6" stroke="#000" stroke-width="1.1"/><text x="491.2" y="529.9" font-size="7.9" class="b" text-anchor="end" fill="#000">0</text><path d="M493.7,539.6h1.6" stroke="#000" stroke-width="1"/><path d="M492.7,552.3h2.6" stroke="#000" stroke-width="1.1"/><text x="491.2" y="555.2" font-size="7.9" class="b" text-anchor="end" fill="#000">−5</text><path d="M493.7,564.9h1.6" stroke="#000" stroke-width="1"/><path d="M492.7,577.5h2.6" stroke="#000" stroke-width="1.1"/><text x="491.2" y="580.4" font-size="7.9" class="b" text-anchor="end" fill="#000">−10</text><path d="M493.7,590.2h1.6" stroke="#000" stroke-width="1"/><path d="M492.7,602.8h2.6" stroke="#000" stroke-width="1.1"/><text x="491.2" y="605.7" font-size="7.9" class="b" text-anchor="end" fill="#000">−15</text><path d="M495.3,602.7v2.6" stroke="#000" stroke-width="1.1"/><text x="495.3" y="615" font-size="7.8" class="b" text-anchor="middle" fill="#000">0</text><path d="M513.7,602.7v1.6" stroke="#000" stroke-width="1"/><path d="M532.0,602.7v2.6" stroke="#000" stroke-width="1.1"/><text x="532.0" y="615" font-size="7.8" class="b" text-anchor="middle" fill="#000">2</text><path d="M550.4,602.7v1.6" stroke="#000" stroke-width="1"/><path d="M568.8,602.7v2.6" stroke="#000" stroke-width="1.1"/><text x="568.8" y="615" font-size="7.8" class="b" text-anchor="middle" fill="#000">4</text><path d="M587.1,602.7v1.6" stroke="#000" stroke-width="1"/><path d="M605.5,602.7v2.6" stroke="#000" stroke-width="1.1"/><text x="605.5" y="615" font-size="7.8" class="b" text-anchor="middle" fill="#000">6</text><path d="M623.9,602.7v1.6" stroke="#000" stroke-width="1"/><path d="M642.3,602.7v2.6" stroke="#000" stroke-width="1.1"/><text x="642.3" y="615" font-size="7.8" class="b" text-anchor="middle" fill="#000">8</text><path d="M660.6,602.7v1.6" stroke="#000" stroke-width="1"/><path d="M679.0,602.7v2.6" stroke="#000" stroke-width="1.1"/><text x="679.0" y="615" font-size="7.8" class="b" text-anchor="middle" fill="#000">10</text><text x="505.6" y="469.2" font-size="19" class="se" fill="#111" text-anchor="middle" textLength="15" lengthAdjust="spacingAndGlyphs">III</text><text x="513.1" y="515.8" font-size="17.6" class="b" fill="#ffec20" textLength="43.9" lengthAdjust="spacingAndGlyphs">[021]</text><text x="556.3" y="518.4" font-size="11.6" class="b i" fill="#ffec20" textLength="18.0" lengthAdjust="spacingAndGlyphs">OD</text><text x="600.4" y="515.8" font-size="18" class="b" fill="#c00000" textLength="45.0" lengthAdjust="spacingAndGlyphs">[021]</text><text x="644.6" y="518.4" font-size="11.6" class="b i" fill="#c00000" textLength="18.0" lengthAdjust="spacingAndGlyphs">RD</text><g transform="translate(469.4,527.2) rotate(-90)"><text x="0" y="0" font-size="12" class="b" fill="#000" text-anchor="middle">ε<tspan font-size="9" dy="2.6">xy</tspan><tspan dy="-2.6">(%)</tspan></text></g><text x="587" y="633.2" font-size="12.4" class="b" text-anchor="middle" fill="#000">Distance(nm)</text><text x="9.4" y="453" font-size="22" class="b" fill="#000">d</text></g>
</svg>
</body></html>
